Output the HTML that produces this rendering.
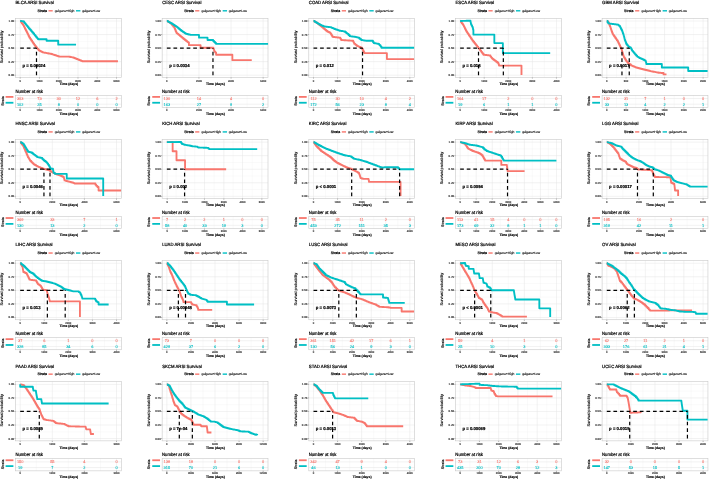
<!DOCTYPE html>
<html><head><meta charset="utf-8"><title>ARSI Survival</title>
<style>
html,body{margin:0;padding:0;background:#fff;}
svg{display:block;}
text{font-family:"Liberation Sans",Arial,sans-serif;text-rendering:geometricPrecision;}
.t{font-size:4.5px;fill:#000;stroke:#000;stroke-width:0.2px;}
.ls{font-size:3.55px;fill:#000;stroke:#000;stroke-width:0.2px;}
.ll{font-size:3.3px;fill:#000;stroke:#000;stroke-width:0.1px;}
.yt{font-size:2.9px;fill:#1a1a1a;stroke:#1a1a1a;stroke-width:0.1px;text-anchor:end;}
.yl{font-size:3.9px;fill:#000;stroke:#000;stroke-width:0.12px;text-anchor:middle;}
.xt{font-size:2.7px;fill:#1a1a1a;stroke:#1a1a1a;stroke-width:0.1px;text-anchor:middle;}
.xl{font-size:3.4px;font-weight:bold;fill:#000;stroke:#000;stroke-width:0.15px;text-anchor:middle;}
.pv{font-size:4.25px;font-weight:bold;fill:#000;stroke:#000;stroke-width:0.2px;}
.nr{font-size:4.6px;fill:#000;stroke:#000;stroke-width:0.2px;}
.rr{font-size:3.9px;fill:#F8766D;stroke:#F8766D;stroke-width:0.1px;text-anchor:middle;}
.rc{font-size:3.9px;fill:#00BFC4;stroke:#00BFC4;stroke-width:0.1px;text-anchor:middle;}
.rs{font-size:3.6px;fill:#000;stroke:#000;stroke-width:0.18px;text-anchor:middle;}
.gm{stroke:#e4e4e4;stroke-width:0.5px;}
.gn{stroke:#efefef;stroke-width:0.3px;}
.bd{fill:none;stroke:#c8c8c8;stroke-width:0.6px;}
.tk{stroke:#444;stroke-width:0.4px;}
.cr{fill:none;stroke:#F8766D;stroke-width:1.85px;stroke-linejoin:round;}
.cc{fill:none;stroke:#00BFC4;stroke-width:1.85px;stroke-linejoin:round;}
.ds{stroke:#000;stroke-width:1.2px;stroke-dasharray:3.7,2.9;}
</style>
</head><body>
<svg width="709" height="480" viewBox="0 0 709 480">
<rect width="709" height="480" fill="#fff"/>
<g transform="translate(0,0)">
<text class="t" transform="translate(15.5,4.15) scale(0.95,1)">BLCA ARSI Survival</text>
<text class="ls" x="37.5" y="12">Strata</text>
<line x1="48.5" x2="52.7" y1="10.8" y2="10.8" stroke="#F8766D" stroke-width="1.4"/>
<text class="ll" x="54.8" y="11.9" textLength="19.5">gelgene=High</text>
<line x1="76.0" x2="80.4" y1="10.8" y2="10.8" stroke="#00BFC4" stroke-width="1.4"/>
<text class="ll" x="82.2" y="11.9" textLength="18.0">gelgene=Low</text>
<line class="gn" x1="29.83" x2="29.83" y1="18.3" y2="77.5"/><line class="gn" x1="49.09" x2="49.09" y1="18.3" y2="77.5"/><line class="gn" x1="68.35" x2="68.35" y1="18.3" y2="77.5"/><line class="gn" x1="87.61" x2="87.61" y1="18.3" y2="77.5"/><line class="gn" x1="106.87" x2="106.87" y1="18.3" y2="77.5"/><line class="gn" x1="15.5" x2="121.35" y1="68.43" y2="68.43"/><line class="gn" x1="15.5" x2="121.35" y1="54.88" y2="54.88"/><line class="gn" x1="15.5" x2="121.35" y1="41.33" y2="41.33"/><line class="gn" x1="15.5" x2="121.35" y1="27.77" y2="27.77"/><line class="gm" x1="20.2" x2="20.2" y1="18.3" y2="77.5"/><line class="gm" x1="39.46" x2="39.46" y1="18.3" y2="77.5"/><line class="gm" x1="58.72" x2="58.72" y1="18.3" y2="77.5"/><line class="gm" x1="77.98" x2="77.98" y1="18.3" y2="77.5"/><line class="gm" x1="97.24" x2="97.24" y1="18.3" y2="77.5"/><line class="gm" x1="116.5" x2="116.5" y1="18.3" y2="77.5"/><line class="gm" x1="15.5" x2="121.35" y1="75.2" y2="75.2"/><line class="gm" x1="15.5" x2="121.35" y1="61.65" y2="61.65"/><line class="gm" x1="15.5" x2="121.35" y1="48.1" y2="48.1"/><line class="gm" x1="15.5" x2="121.35" y1="34.55" y2="34.55"/><line class="gm" x1="15.5" x2="121.35" y1="21" y2="21"/>
<rect class="bd" x="15.5" y="18.3" width="105.85" height="59.2"/>
<line class="tk" x1="14.4" x2="15.5" y1="75.2" y2="75.2"/>
<text class="yt" x="14.2" y="76.2">0.00</text>
<line class="tk" x1="14.4" x2="15.5" y1="61.65" y2="61.65"/>
<text class="yt" x="14.2" y="62.65">0.25</text>
<line class="tk" x1="14.4" x2="15.5" y1="48.1" y2="48.1"/>
<text class="yt" x="14.2" y="49.1">0.50</text>
<line class="tk" x1="14.4" x2="15.5" y1="34.55" y2="34.55"/>
<text class="yt" x="14.2" y="35.55">0.75</text>
<line class="tk" x1="14.4" x2="15.5" y1="21" y2="21"/>
<text class="yt" x="14.2" y="22">1.00</text>
<text class="yl" transform="translate(3.4,46.9) rotate(-90)">Survival probability</text>
<line class="tk" x1="20.2" x2="20.2" y1="77.5" y2="78.6"/>
<text class="xt" x="20.2" y="81.85">0</text>
<line class="tk" x1="39.46" x2="39.46" y1="77.5" y2="78.6"/>
<text class="xt" x="39.46" y="81.85">1000</text>
<line class="tk" x1="58.72" x2="58.72" y1="77.5" y2="78.6"/>
<text class="xt" x="58.72" y="81.85">2000</text>
<line class="tk" x1="77.98" x2="77.98" y1="77.5" y2="78.6"/>
<text class="xt" x="77.98" y="81.85">3000</text>
<line class="tk" x1="97.24" x2="97.24" y1="77.5" y2="78.6"/>
<text class="xt" x="97.24" y="81.85">4000</text>
<line class="tk" x1="116.5" x2="116.5" y1="77.5" y2="78.6"/>
<text class="xt" x="116.5" y="81.85">5000</text>
<text class="xl" x="68.83" y="85.2">Time (days)</text>
<polyline class="cr" points="20.2,21 20.98,21 20.98,22.07 21.75,22.07 21.75,23.15 22.53,23.15 22.53,24.22 23.31,24.22 23.31,25.3 23.83,25.3 23.83,26.33 24.34,26.33 24.34,27.36 24.86,27.36 24.86,28.4 25.38,28.4 25.38,29.43 25.89,29.43 25.89,30.46 26.41,30.46 26.41,31.5 26.93,31.5 26.93,32.53 27.45,32.53 27.45,33.56 27.96,33.56 27.96,34.6 28.48,34.6 28.48,35.63 29,35.63 29,36.66 29.51,36.66 29.51,37.69 30.18,37.69 30.18,38.69 30.84,38.69 30.84,39.69 31.51,39.69 31.51,40.68 32.17,40.68 32.17,41.68 32.84,41.68 32.84,42.68 33.5,42.68 33.5,43.67 34.17,43.67 34.17,44.67 34.94,44.67 34.94,45.7 35.72,45.7 35.72,46.73 36.5,46.73 36.5,47.77 37.27,47.77 37.27,48.65 38.05,48.65 38.05,49.52 38.82,49.52 38.82,50.4 39.79,50.4 39.79,50.91 40.76,50.91 40.76,51.41 41.73,51.41 41.73,51.91 42.7,51.91 42.7,52.42 43.65,52.42 43.65,52.59 44.6,52.59 44.6,52.76 45.55,52.76 45.55,52.93 46.49,52.93 46.49,53.11 47.44,53.11 47.44,53.28 48.39,53.28 48.39,53.45 49.34,53.45 49.34,53.62 50.29,53.62 50.29,53.79 51.24,53.79 51.24,53.97 52.21,53.97 52.21,54.3 53.17,54.3 53.17,54.62 54.14,54.62 54.14,54.95 55.11,54.95 55.11,55.28 56.08,55.28 56.08,55.61 57.05,55.61 57.05,55.94 58.02,55.94 58.02,56.27 58.99,56.27 58.99,56.6 68.3,56.6 69.23,56.6 69.23,56.79 70.16,56.79 70.16,56.97 71.09,56.97 71.09,57.16 72.03,57.16 72.03,57.34 72.96,57.34 72.96,57.53 73.89,57.53 73.89,57.9 74.82,57.9 74.82,58.27 75.75,58.27 75.75,58.65 76.68,58.65 76.68,59.02 77.61,59.02 77.61,59.39 78.54,59.39 78.54,59.76 79.47,59.76 79.47,60.13 80.4,60.13 80.4,60.51 81.33,60.51 81.33,60.88 82.27,60.88 82.27,61.25 117.95,61.25"/>
<polyline class="cc" points="20.2,21 21.24,21 21.24,21.14 22.27,21.14 22.27,21.28 23.31,21.28 23.31,21.42 24.08,21.42 24.08,22.39 24.86,22.39 24.86,23.36 25.64,23.36 25.64,24.33 26.41,24.33 26.41,25.3 27.19,25.3 27.19,26.27 27.96,26.27 27.96,27.23 28.74,27.23 28.74,28.2 29.51,28.2 29.51,29.17 30.45,29.17 30.45,30.26 31.38,30.26 31.38,31.34 32.31,31.34 32.31,32.43 33.24,32.43 33.24,33.51 34.17,33.51 34.17,34.6 34.94,34.6 34.94,35.53 35.72,35.53 35.72,36.46 36.5,36.46 36.5,37.38 37.27,37.38 37.27,38.31 38.05,38.31 38.05,39.24 46.58,39.24 46.58,40.79 58.22,40.79 58.22,44.67 76.06,44.67"/>
<line class="ds" x1="20.2" x2="36.5" y1="48.1" y2="48.1"/>
<line class="ds" x1="36.5" x2="36.5" y1="75.2" y2="48.1"/>
<text class="pv" x="22.5" y="66.7">p = 0.00024</text>
<text class="nr" x="15.4" y="92.8" textLength="27.6" lengthAdjust="spacingAndGlyphs">Number at risk</text>
<line class="gn" x1="29.83" x2="29.83" y1="95.3" y2="107.5"/><line class="gn" x1="49.09" x2="49.09" y1="95.3" y2="107.5"/><line class="gn" x1="68.35" x2="68.35" y1="95.3" y2="107.5"/><line class="gn" x1="87.61" x2="87.61" y1="95.3" y2="107.5"/><line class="gn" x1="106.87" x2="106.87" y1="95.3" y2="107.5"/><line class="gm" x1="20.2" x2="20.2" y1="95.3" y2="107.5"/><line class="gm" x1="39.46" x2="39.46" y1="95.3" y2="107.5"/><line class="gm" x1="58.72" x2="58.72" y1="95.3" y2="107.5"/><line class="gm" x1="77.98" x2="77.98" y1="95.3" y2="107.5"/><line class="gm" x1="97.24" x2="97.24" y1="95.3" y2="107.5"/><line class="gm" x1="116.5" x2="116.5" y1="95.3" y2="107.5"/><line class="gm" x1="15.5" x2="121.35" y1="98.5" y2="98.5"/><line class="gm" x1="15.5" x2="121.35" y1="104.2" y2="104.2"/>
<rect class="bd" x="15.5" y="95.3" width="105.85" height="12.2"/>
<text class="rr" x="20.2" y="99.8">303</text>
<text class="rc" x="20.2" y="105.5">102</text>
<text class="rr" x="39.46" y="99.8">73</text>
<text class="rc" x="39.46" y="105.5">25</text>
<text class="rr" x="58.72" y="99.8">30</text>
<text class="rc" x="58.72" y="105.5">8</text>
<text class="rr" x="77.98" y="99.8">12</text>
<text class="rc" x="77.98" y="105.5">0</text>
<text class="rr" x="97.24" y="99.8">6</text>
<text class="rc" x="97.24" y="105.5">0</text>
<text class="rr" x="116.5" y="99.8">2</text>
<text class="rc" x="116.5" y="105.5">0</text>
<line class="tk" x1="20.2" x2="20.2" y1="107.5" y2="108.6"/>
<text class="xt" x="20.2" y="110.9">0</text>
<line class="tk" x1="39.46" x2="39.46" y1="107.5" y2="108.6"/>
<text class="xt" x="39.46" y="110.9">1000</text>
<line class="tk" x1="58.72" x2="58.72" y1="107.5" y2="108.6"/>
<text class="xt" x="58.72" y="110.9">2000</text>
<line class="tk" x1="77.98" x2="77.98" y1="107.5" y2="108.6"/>
<text class="xt" x="77.98" y="110.9">3000</text>
<line class="tk" x1="97.24" x2="97.24" y1="107.5" y2="108.6"/>
<text class="xt" x="97.24" y="110.9">4000</text>
<line class="tk" x1="116.5" x2="116.5" y1="107.5" y2="108.6"/>
<text class="xt" x="116.5" y="110.9">5000</text>
<text class="xl" x="68.83" y="115.0">Time (days)</text>
<text class="rs" transform="translate(3.7,101.0) rotate(-90)">Strata</text>
<line x1="5.6" x2="13.4" y1="96.9" y2="96.9" stroke="#F8766D" stroke-width="1.8"/>
<line x1="5.6" x2="13.4" y1="102.75" y2="102.75" stroke="#00BFC4" stroke-width="1.8"/>
</g>
<g transform="translate(146.65,0)">
<text class="t" transform="translate(15.5,4.15) scale(0.95,1)">CESC ARSI Survival</text>
<text class="ls" x="37.5" y="12">Strata</text>
<line x1="48.5" x2="52.7" y1="10.8" y2="10.8" stroke="#F8766D" stroke-width="1.4"/>
<text class="ll" x="54.8" y="11.9" textLength="19.5">gelgene=High</text>
<line x1="76.0" x2="80.4" y1="10.8" y2="10.8" stroke="#00BFC4" stroke-width="1.4"/>
<text class="ll" x="82.2" y="11.9" textLength="18.0">gelgene=Low</text>
<line class="gn" x1="36.25" x2="36.25" y1="18.3" y2="77.5"/><line class="gn" x1="68.35" x2="68.35" y1="18.3" y2="77.5"/><line class="gn" x1="100.45" x2="100.45" y1="18.3" y2="77.5"/><line class="gn" x1="15.5" x2="121.35" y1="68.43" y2="68.43"/><line class="gn" x1="15.5" x2="121.35" y1="54.88" y2="54.88"/><line class="gn" x1="15.5" x2="121.35" y1="41.33" y2="41.33"/><line class="gn" x1="15.5" x2="121.35" y1="27.77" y2="27.77"/><line class="gm" x1="20.2" x2="20.2" y1="18.3" y2="77.5"/><line class="gm" x1="52.3" x2="52.3" y1="18.3" y2="77.5"/><line class="gm" x1="84.4" x2="84.4" y1="18.3" y2="77.5"/><line class="gm" x1="116.5" x2="116.5" y1="18.3" y2="77.5"/><line class="gm" x1="15.5" x2="121.35" y1="75.2" y2="75.2"/><line class="gm" x1="15.5" x2="121.35" y1="61.65" y2="61.65"/><line class="gm" x1="15.5" x2="121.35" y1="48.1" y2="48.1"/><line class="gm" x1="15.5" x2="121.35" y1="34.55" y2="34.55"/><line class="gm" x1="15.5" x2="121.35" y1="21" y2="21"/>
<rect class="bd" x="15.5" y="18.3" width="105.85" height="59.2"/>
<line class="tk" x1="14.4" x2="15.5" y1="75.2" y2="75.2"/>
<text class="yt" x="14.2" y="76.2">0.00</text>
<line class="tk" x1="14.4" x2="15.5" y1="61.65" y2="61.65"/>
<text class="yt" x="14.2" y="62.65">0.25</text>
<line class="tk" x1="14.4" x2="15.5" y1="48.1" y2="48.1"/>
<text class="yt" x="14.2" y="49.1">0.50</text>
<line class="tk" x1="14.4" x2="15.5" y1="34.55" y2="34.55"/>
<text class="yt" x="14.2" y="35.55">0.75</text>
<line class="tk" x1="14.4" x2="15.5" y1="21" y2="21"/>
<text class="yt" x="14.2" y="22">1.00</text>
<text class="yl" transform="translate(3.4,46.9) rotate(-90)">Survival probability</text>
<line class="tk" x1="20.2" x2="20.2" y1="77.5" y2="78.6"/>
<text class="xt" x="20.2" y="81.85">0</text>
<line class="tk" x1="52.3" x2="52.3" y1="77.5" y2="78.6"/>
<text class="xt" x="52.3" y="81.85">2000</text>
<line class="tk" x1="84.4" x2="84.4" y1="77.5" y2="78.6"/>
<text class="xt" x="84.4" y="81.85">4000</text>
<line class="tk" x1="116.5" x2="116.5" y1="77.5" y2="78.6"/>
<text class="xt" x="116.5" y="81.85">6000</text>
<text class="xl" x="68.83" y="85.2">Time (days)</text>
<polyline class="cr" points="20.2,21 21.26,21 21.26,21.69 22.32,21.69 22.32,22.37 23.38,22.37 23.38,23.06 24.43,23.06 24.43,23.75 25.21,23.75 25.21,24.72 25.99,24.72 25.99,25.69 26.76,25.69 26.76,26.65 27.54,26.65 27.54,27.62 28,27.62 28,28.71 28.47,28.71 28.47,29.79 28.93,29.79 28.93,30.88 29.4,30.88 29.4,31.96 29.86,31.96 29.86,33.05 30.8,33.05 30.8,33.82 31.73,33.82 31.73,34.6 32.66,34.6 32.66,35.37 33.59,35.37 33.59,36.15 34.52,36.15 34.52,36.92 35.45,36.92 35.45,37.69 36.38,37.69 36.38,38.47 37.31,38.47 37.31,39.24 38.24,39.24 38.24,40.02 39.17,40.02 39.17,40.79 40.21,40.79 40.21,41.57 41.24,41.57 41.24,42.34 42.28,42.34 42.28,43.12 42.28,45.13 53.91,45.13 53.91,47.77 66.32,47.77 66.71,47.77 66.71,48.74 67.1,48.74 67.1,49.7 67.49,49.7 67.49,50.67 67.88,50.67 67.88,51.64 68.65,51.64 68.65,52.42 69.43,52.42 69.43,53.19 69.43,54.74 85.72,54.74 85.72,60.16 105.11,60.16"/>
<polyline class="cc" points="20.2,21 21.2,21 21.2,21.55 22.2,21.55 22.2,22.1 23.21,22.1 23.21,22.65 24.21,22.65 24.21,23.2 25.21,23.2 25.21,23.75 26.14,23.75 26.14,24.37 27.07,24.37 27.07,24.99 28,24.99 28,25.61 28.93,25.61 28.93,26.23 29.86,26.23 29.86,26.85 30.8,26.85 30.8,27.62 31.73,27.62 31.73,28.4 32.66,28.4 32.66,29.17 33.59,29.17 33.59,29.95 34.52,29.95 34.52,30.72 35.45,30.72 35.45,31.34 36.38,31.34 36.38,31.96 37.31,31.96 37.31,32.58 38.24,32.58 38.24,33.2 39.17,33.2 39.17,33.82 40.1,33.82 40.1,34.04 41.04,34.04 41.04,34.25 41.97,34.25 41.97,34.47 42.9,34.47 42.9,34.69 43.83,34.69 43.83,34.91 52.36,34.91 52.36,37.69 60.89,37.69 60.89,40.02 65.55,40.02 66.52,40.02 66.52,40.99 67.49,40.99 67.49,41.96 68.46,41.96 68.46,42.92 69.43,42.92 69.43,43.89 121.4,43.89"/>
<line class="ds" x1="20.2" x2="66.32" y1="48.1" y2="48.1"/>
<line class="ds" x1="66.32" x2="66.32" y1="75.2" y2="48.1"/>
<text class="pv" x="22.5" y="66.7">p = 0.0034</text>
<text class="nr" x="15.4" y="92.8" textLength="27.6" lengthAdjust="spacingAndGlyphs">Number at risk</text>
<line class="gn" x1="36.25" x2="36.25" y1="95.3" y2="107.5"/><line class="gn" x1="68.35" x2="68.35" y1="95.3" y2="107.5"/><line class="gn" x1="100.45" x2="100.45" y1="95.3" y2="107.5"/><line class="gm" x1="20.2" x2="20.2" y1="95.3" y2="107.5"/><line class="gm" x1="52.3" x2="52.3" y1="95.3" y2="107.5"/><line class="gm" x1="84.4" x2="84.4" y1="95.3" y2="107.5"/><line class="gm" x1="116.5" x2="116.5" y1="95.3" y2="107.5"/><line class="gm" x1="15.5" x2="121.35" y1="98.5" y2="98.5"/><line class="gm" x1="15.5" x2="121.35" y1="104.2" y2="104.2"/>
<rect class="bd" x="15.5" y="95.3" width="105.85" height="12.2"/>
<text class="rr" x="20.2" y="99.8">130</text>
<text class="rc" x="20.2" y="105.5">163</text>
<text class="rr" x="52.3" y="99.8">14</text>
<text class="rc" x="52.3" y="105.5">27</text>
<text class="rr" x="84.4" y="99.8">4</text>
<text class="rc" x="84.4" y="105.5">9</text>
<text class="rr" x="116.5" y="99.8">0</text>
<text class="rc" x="116.5" y="105.5">2</text>
<line class="tk" x1="20.2" x2="20.2" y1="107.5" y2="108.6"/>
<text class="xt" x="20.2" y="110.9">0</text>
<line class="tk" x1="52.3" x2="52.3" y1="107.5" y2="108.6"/>
<text class="xt" x="52.3" y="110.9">2000</text>
<line class="tk" x1="84.4" x2="84.4" y1="107.5" y2="108.6"/>
<text class="xt" x="84.4" y="110.9">4000</text>
<line class="tk" x1="116.5" x2="116.5" y1="107.5" y2="108.6"/>
<text class="xt" x="116.5" y="110.9">6000</text>
<text class="xl" x="68.83" y="115.0">Time (days)</text>
<text class="rs" transform="translate(3.7,101.0) rotate(-90)">Strata</text>
<line x1="5.6" x2="13.4" y1="96.9" y2="96.9" stroke="#F8766D" stroke-width="1.8"/>
<line x1="5.6" x2="13.4" y1="102.75" y2="102.75" stroke="#00BFC4" stroke-width="1.8"/>
</g>
<g transform="translate(293.3,0)">
<text class="t" transform="translate(15.5,4.15) scale(0.95,1)">COAD ARSI Survival</text>
<text class="ls" x="37.5" y="12">Strata</text>
<line x1="48.5" x2="52.7" y1="10.8" y2="10.8" stroke="#F8766D" stroke-width="1.4"/>
<text class="ll" x="54.8" y="11.9" textLength="19.5">gelgene=High</text>
<line x1="76.0" x2="80.4" y1="10.8" y2="10.8" stroke="#00BFC4" stroke-width="1.4"/>
<text class="ll" x="82.2" y="11.9" textLength="18.0">gelgene=Low</text>
<line class="gn" x1="32.24" x2="32.24" y1="18.3" y2="77.5"/><line class="gn" x1="56.31" x2="56.31" y1="18.3" y2="77.5"/><line class="gn" x1="80.39" x2="80.39" y1="18.3" y2="77.5"/><line class="gn" x1="104.46" x2="104.46" y1="18.3" y2="77.5"/><line class="gn" x1="15.5" x2="121.35" y1="68.43" y2="68.43"/><line class="gn" x1="15.5" x2="121.35" y1="54.88" y2="54.88"/><line class="gn" x1="15.5" x2="121.35" y1="41.33" y2="41.33"/><line class="gn" x1="15.5" x2="121.35" y1="27.77" y2="27.77"/><line class="gm" x1="20.2" x2="20.2" y1="18.3" y2="77.5"/><line class="gm" x1="44.27" x2="44.27" y1="18.3" y2="77.5"/><line class="gm" x1="68.35" x2="68.35" y1="18.3" y2="77.5"/><line class="gm" x1="92.42" x2="92.42" y1="18.3" y2="77.5"/><line class="gm" x1="116.5" x2="116.5" y1="18.3" y2="77.5"/><line class="gm" x1="15.5" x2="121.35" y1="75.2" y2="75.2"/><line class="gm" x1="15.5" x2="121.35" y1="61.65" y2="61.65"/><line class="gm" x1="15.5" x2="121.35" y1="48.1" y2="48.1"/><line class="gm" x1="15.5" x2="121.35" y1="34.55" y2="34.55"/><line class="gm" x1="15.5" x2="121.35" y1="21" y2="21"/>
<rect class="bd" x="15.5" y="18.3" width="105.85" height="59.2"/>
<line class="tk" x1="14.4" x2="15.5" y1="75.2" y2="75.2"/>
<text class="yt" x="14.2" y="76.2">0.00</text>
<line class="tk" x1="14.4" x2="15.5" y1="61.65" y2="61.65"/>
<text class="yt" x="14.2" y="62.65">0.25</text>
<line class="tk" x1="14.4" x2="15.5" y1="48.1" y2="48.1"/>
<text class="yt" x="14.2" y="49.1">0.50</text>
<line class="tk" x1="14.4" x2="15.5" y1="34.55" y2="34.55"/>
<text class="yt" x="14.2" y="35.55">0.75</text>
<line class="tk" x1="14.4" x2="15.5" y1="21" y2="21"/>
<text class="yt" x="14.2" y="22">1.00</text>
<text class="yl" transform="translate(3.4,46.9) rotate(-90)">Survival probability</text>
<line class="tk" x1="20.2" x2="20.2" y1="77.5" y2="78.6"/>
<text class="xt" x="20.2" y="81.85">0</text>
<line class="tk" x1="44.27" x2="44.27" y1="77.5" y2="78.6"/>
<text class="xt" x="44.27" y="81.85">1000</text>
<line class="tk" x1="68.35" x2="68.35" y1="77.5" y2="78.6"/>
<text class="xt" x="68.35" y="81.85">2000</text>
<line class="tk" x1="92.42" x2="92.42" y1="77.5" y2="78.6"/>
<text class="xt" x="92.42" y="81.85">3000</text>
<line class="tk" x1="116.5" x2="116.5" y1="77.5" y2="78.6"/>
<text class="xt" x="116.5" y="81.85">4000</text>
<text class="xl" x="68.83" y="85.2">Time (days)</text>
<polyline class="cr" points="20.2,21 21.29,21 21.29,21.69 22.38,21.69 22.38,22.37 23.47,22.37 23.47,23.06 24.56,23.06 24.56,23.75 25.49,23.75 25.49,24.52 26.42,24.52 26.42,25.3 27.35,25.3 27.35,26.07 28.28,26.07 28.28,26.85 29.21,26.85 29.21,27.62 30.15,27.62 30.15,28.4 31.08,28.4 31.08,29.17 32.01,29.17 32.01,29.95 32.94,29.95 32.94,30.72 33.87,30.72 33.87,31.5 34.9,31.5 34.9,32.01 35.94,32.01 35.94,32.53 36.97,32.53 36.97,33.05 37.55,33.05 37.55,34.01 38.14,34.01 38.14,34.98 38.72,34.98 38.72,35.95 39.3,35.95 39.3,36.92 40.3,36.92 40.3,37.03 41.29,37.03 41.29,37.14 42.29,37.14 42.29,37.25 43.29,37.25 43.29,37.36 44.29,37.36 44.29,37.47 45.28,37.47 45.28,37.58 46.28,37.58 46.28,37.69 47.06,37.69 47.06,38.86 47.83,38.86 47.83,40.02 48.8,40.02 48.8,40.08 49.77,40.08 49.77,40.15 50.74,40.15 50.74,40.21 51.71,40.21 51.71,40.28 52.68,40.28 52.68,40.34 53.65,40.34 53.65,40.41 54.62,40.41 54.62,40.47 55.59,40.47 55.59,40.54 56.56,40.54 56.56,40.6 57.53,40.6 57.53,40.67 58.5,40.67 58.5,40.73 59.47,40.73 59.47,40.79 59.99,40.79 59.99,41.83 60.5,41.83 60.5,42.86 61.02,42.86 61.02,43.89 62.18,43.89 62.18,44.82 63.35,44.82 63.35,45.75 64.28,45.75 64.28,46.16 65.21,46.16 65.21,46.56 66.14,46.56 66.14,46.96 67.07,46.96 67.07,47.36 68,47.36 68,47.77 68.78,47.77 68.78,48.93 69.55,48.93 69.55,50.09 70.07,50.09 70.07,51.13 70.59,51.13 70.59,52.16 71.1,52.16 71.1,53.19 93.6,53.19 93.6,59.08 120.75,59.08"/>
<polyline class="cc" points="20.2,21 21.19,21 21.19,21.59 22.17,21.59 22.17,22.17 23.16,22.17 23.16,22.76 24.14,22.76 24.14,23.35 25.13,23.35 25.13,23.94 26.11,23.94 26.11,24.52 27.04,24.52 27.04,24.93 27.97,24.93 27.97,25.33 28.9,25.33 28.9,25.73 29.84,25.73 29.84,26.13 30.77,26.13 30.77,26.54 31.8,26.54 31.8,26.64 32.83,26.64 32.83,26.74 33.87,26.74 33.87,26.85 34.9,26.85 34.9,26.95 35.94,26.95 35.94,27.05 36.97,27.05 36.97,27.16 37.9,27.16 37.9,27.56 38.83,27.56 38.83,27.96 39.76,27.96 39.76,28.37 40.7,28.37 40.7,28.77 41.63,28.77 41.63,29.17 42.56,29.17 42.56,29.48 43.49,29.48 43.49,29.79 44.42,29.79 44.42,30.1 45.35,30.1 45.35,30.41 46.28,30.41 46.28,30.72 47.21,30.72 47.21,30.88 48.14,30.88 48.14,31.03 49.07,31.03 49.07,31.19 50,31.19 50,31.34 50.94,31.34 50.94,31.5 51.97,31.5 51.97,32.27 53,32.27 53,33.05 54.04,33.05 54.04,33.82 55.2,33.82 55.2,34.98 56.37,34.98 56.37,36.15 57.45,36.15 57.45,36.3 58.54,36.3 58.54,36.46 59.62,36.46 59.62,36.61 60.71,36.61 60.71,36.77 61.8,36.77 61.8,36.92 62.83,36.92 62.83,37.18 63.86,37.18 63.86,37.44 64.9,37.44 64.9,37.69 65.93,37.69 65.93,38.47 66.97,38.47 66.97,39.24 68,39.24 68,40.02 68.93,40.02 68.93,40.17 69.86,40.17 69.86,40.33 70.79,40.33 70.79,40.48 71.73,40.48 71.73,40.64 72.66,40.64 72.66,40.79 78.86,40.79 79.64,40.79 79.64,41.96 80.41,41.96 80.41,43.12 81.34,43.12 81.34,43.27 82.28,43.27 82.28,43.43 83.21,43.43 83.21,43.58 84.14,43.58 84.14,43.74 85.07,43.74 85.07,43.89 85.84,43.89 85.84,44.67 86.62,44.67 86.62,45.44 87.4,45.44 87.4,46.61 88.17,46.61 88.17,47.77 120.75,47.77"/>
<line class="ds" x1="20.2" x2="69.24" y1="48.1" y2="48.1"/>
<line class="ds" x1="69.24" x2="69.24" y1="75.2" y2="48.1"/>
<text class="pv" x="22.5" y="66.7">p = 0.012</text>
<text class="nr" x="15.4" y="92.8" textLength="27.6" lengthAdjust="spacingAndGlyphs">Number at risk</text>
<line class="gn" x1="32.24" x2="32.24" y1="95.3" y2="107.5"/><line class="gn" x1="56.31" x2="56.31" y1="95.3" y2="107.5"/><line class="gn" x1="80.39" x2="80.39" y1="95.3" y2="107.5"/><line class="gn" x1="104.46" x2="104.46" y1="95.3" y2="107.5"/><line class="gm" x1="20.2" x2="20.2" y1="95.3" y2="107.5"/><line class="gm" x1="44.27" x2="44.27" y1="95.3" y2="107.5"/><line class="gm" x1="68.35" x2="68.35" y1="95.3" y2="107.5"/><line class="gm" x1="92.42" x2="92.42" y1="95.3" y2="107.5"/><line class="gm" x1="116.5" x2="116.5" y1="95.3" y2="107.5"/><line class="gm" x1="15.5" x2="121.35" y1="98.5" y2="98.5"/><line class="gm" x1="15.5" x2="121.35" y1="104.2" y2="104.2"/>
<rect class="bd" x="15.5" y="95.3" width="105.85" height="12.2"/>
<text class="rr" x="20.2" y="99.8">112</text>
<text class="rc" x="20.2" y="105.5">172</text>
<text class="rr" x="44.27" y="99.8">30</text>
<text class="rc" x="44.27" y="105.5">56</text>
<text class="rr" x="68.35" y="99.8">10</text>
<text class="rc" x="68.35" y="105.5">23</text>
<text class="rr" x="92.42" y="99.8">4</text>
<text class="rc" x="92.42" y="105.5">8</text>
<text class="rr" x="116.5" y="99.8">2</text>
<text class="rc" x="116.5" y="105.5">4</text>
<line class="tk" x1="20.2" x2="20.2" y1="107.5" y2="108.6"/>
<text class="xt" x="20.2" y="110.9">0</text>
<line class="tk" x1="44.27" x2="44.27" y1="107.5" y2="108.6"/>
<text class="xt" x="44.27" y="110.9">1000</text>
<line class="tk" x1="68.35" x2="68.35" y1="107.5" y2="108.6"/>
<text class="xt" x="68.35" y="110.9">2000</text>
<line class="tk" x1="92.42" x2="92.42" y1="107.5" y2="108.6"/>
<text class="xt" x="92.42" y="110.9">3000</text>
<line class="tk" x1="116.5" x2="116.5" y1="107.5" y2="108.6"/>
<text class="xt" x="116.5" y="110.9">4000</text>
<text class="xl" x="68.83" y="115.0">Time (days)</text>
<text class="rs" transform="translate(3.7,101.0) rotate(-90)">Strata</text>
<line x1="5.6" x2="13.4" y1="96.9" y2="96.9" stroke="#F8766D" stroke-width="1.8"/>
<line x1="5.6" x2="13.4" y1="102.75" y2="102.75" stroke="#00BFC4" stroke-width="1.8"/>
</g>
<g transform="translate(439.95,0)">
<text class="t" transform="translate(15.5,4.15) scale(0.95,1)">ESCA ARSI Survival</text>
<text class="ls" x="37.5" y="12">Strata</text>
<line x1="48.5" x2="52.7" y1="10.8" y2="10.8" stroke="#F8766D" stroke-width="1.4"/>
<text class="ll" x="54.8" y="11.9" textLength="19.5">gelgene=High</text>
<line x1="76.0" x2="80.4" y1="10.8" y2="10.8" stroke="#00BFC4" stroke-width="1.4"/>
<text class="ll" x="82.2" y="11.9" textLength="18.0">gelgene=Low</text>
<line class="gn" x1="32.24" x2="32.24" y1="18.3" y2="77.5"/><line class="gn" x1="56.31" x2="56.31" y1="18.3" y2="77.5"/><line class="gn" x1="80.39" x2="80.39" y1="18.3" y2="77.5"/><line class="gn" x1="104.46" x2="104.46" y1="18.3" y2="77.5"/><line class="gn" x1="15.5" x2="121.35" y1="68.43" y2="68.43"/><line class="gn" x1="15.5" x2="121.35" y1="54.88" y2="54.88"/><line class="gn" x1="15.5" x2="121.35" y1="41.33" y2="41.33"/><line class="gn" x1="15.5" x2="121.35" y1="27.77" y2="27.77"/><line class="gm" x1="20.2" x2="20.2" y1="18.3" y2="77.5"/><line class="gm" x1="44.27" x2="44.27" y1="18.3" y2="77.5"/><line class="gm" x1="68.35" x2="68.35" y1="18.3" y2="77.5"/><line class="gm" x1="92.42" x2="92.42" y1="18.3" y2="77.5"/><line class="gm" x1="116.5" x2="116.5" y1="18.3" y2="77.5"/><line class="gm" x1="15.5" x2="121.35" y1="75.2" y2="75.2"/><line class="gm" x1="15.5" x2="121.35" y1="61.65" y2="61.65"/><line class="gm" x1="15.5" x2="121.35" y1="48.1" y2="48.1"/><line class="gm" x1="15.5" x2="121.35" y1="34.55" y2="34.55"/><line class="gm" x1="15.5" x2="121.35" y1="21" y2="21"/>
<rect class="bd" x="15.5" y="18.3" width="105.85" height="59.2"/>
<line class="tk" x1="14.4" x2="15.5" y1="75.2" y2="75.2"/>
<text class="yt" x="14.2" y="76.2">0.00</text>
<line class="tk" x1="14.4" x2="15.5" y1="61.65" y2="61.65"/>
<text class="yt" x="14.2" y="62.65">0.25</text>
<line class="tk" x1="14.4" x2="15.5" y1="48.1" y2="48.1"/>
<text class="yt" x="14.2" y="49.1">0.50</text>
<line class="tk" x1="14.4" x2="15.5" y1="34.55" y2="34.55"/>
<text class="yt" x="14.2" y="35.55">0.75</text>
<line class="tk" x1="14.4" x2="15.5" y1="21" y2="21"/>
<text class="yt" x="14.2" y="22">1.00</text>
<text class="yl" transform="translate(3.4,46.9) rotate(-90)">Survival probability</text>
<line class="tk" x1="20.2" x2="20.2" y1="77.5" y2="78.6"/>
<text class="xt" x="20.2" y="81.85">0</text>
<line class="tk" x1="44.27" x2="44.27" y1="77.5" y2="78.6"/>
<text class="xt" x="44.27" y="81.85">1000</text>
<line class="tk" x1="68.35" x2="68.35" y1="77.5" y2="78.6"/>
<text class="xt" x="68.35" y="81.85">2000</text>
<line class="tk" x1="92.42" x2="92.42" y1="77.5" y2="78.6"/>
<text class="xt" x="92.42" y="81.85">3000</text>
<line class="tk" x1="116.5" x2="116.5" y1="77.5" y2="78.6"/>
<text class="xt" x="116.5" y="81.85">4000</text>
<text class="xl" x="68.83" y="85.2">Time (days)</text>
<polyline class="cr" points="20.2,21 20.99,21 20.99,22.07 21.78,22.07 21.78,23.15 22.57,23.15 22.57,24.22 23.36,24.22 23.36,25.3 23.88,25.3 23.88,26.33 24.39,26.33 24.39,27.36 24.91,27.36 24.91,28.4 25.43,28.4 25.43,29.43 25.94,29.43 25.94,30.46 26.46,30.46 26.46,31.5 27.08,31.5 27.08,32.43 27.7,32.43 27.7,33.36 28.32,33.36 28.32,34.29 28.94,34.29 28.94,35.22 29.56,35.22 29.56,36.15 30.19,36.15 30.19,37.08 30.81,37.08 30.81,38 31.43,38 31.43,38.93 32.05,38.93 32.05,39.86 32.67,39.86 32.67,40.79 33.44,40.79 33.44,41.76 34.22,41.76 34.22,42.73 34.99,42.73 34.99,43.7 35.77,43.7 35.77,44.67 36.55,44.67 36.55,45.64 37.32,45.64 37.32,46.61 38.1,46.61 38.1,47.57 38.87,47.57 38.87,48.54 39.65,48.54 39.65,49.58 40.43,49.58 40.43,50.61 41.2,50.61 41.2,51.64 41.98,51.64 41.98,52.67 42.75,52.67 42.75,53.71 43.53,53.71 43.53,54.74 44.56,54.74 44.56,54.87 45.6,54.87 45.6,55 46.63,55 46.63,55.13 47.67,55.13 47.67,55.26 48.7,55.26 48.7,55.39 49.73,55.39 49.73,55.52 50.51,55.52 50.51,56.55 51.29,56.55 51.29,57.58 52.06,57.58 52.06,58.62 53.1,58.62 53.1,59.39 54.13,59.39 54.13,60.16 55.16,60.16 55.16,60.94 56.2,60.94 56.2,61.71 57.23,61.71 57.23,62.49 58.27,62.49 58.27,63.26 58.66,63.26 58.66,64.43 59.04,64.43 59.04,65.59 81.54,65.59 81.54,74.89"/>
<polyline class="cc" points="20.2,21 21.21,21 21.21,20.96 22.23,20.96 22.23,20.93 23.24,20.93 23.24,20.89 24.26,20.89 24.26,20.86 25.27,20.86 25.27,20.82 26.28,20.82 26.28,20.79 27.3,20.79 27.3,20.75 28.31,20.75 28.31,20.72 29.33,20.72 29.33,20.68 30.34,20.68 30.34,20.65 30.53,20.65 30.53,21.62 30.73,21.62 30.73,22.59 30.92,22.59 30.92,23.55 31.12,23.55 31.12,24.52 31.63,24.52 31.63,25.56 32.15,25.56 32.15,26.59 32.67,26.59 32.67,27.62 32.93,27.62 32.93,28.66 33.18,28.66 33.18,29.69 33.44,29.69 33.44,30.72 33.44,34.6 54.39,34.6 54.39,43.12 62.92,43.12 62.92,53.19 110.24,53.19"/>
<line class="ds" x1="20.2" x2="63.39" y1="48.1" y2="48.1"/>
<line class="ds" x1="38.56" x2="38.56" y1="75.2" y2="48.1"/>
<line class="ds" x1="63.39" x2="63.39" y1="75.2" y2="48.1"/>
<text class="pv" x="22.5" y="66.7">p = 0.018</text>
<text class="nr" x="15.4" y="92.8" textLength="27.6" lengthAdjust="spacingAndGlyphs">Number at risk</text>
<line class="gn" x1="32.24" x2="32.24" y1="95.3" y2="107.5"/><line class="gn" x1="56.31" x2="56.31" y1="95.3" y2="107.5"/><line class="gn" x1="80.39" x2="80.39" y1="95.3" y2="107.5"/><line class="gn" x1="104.46" x2="104.46" y1="95.3" y2="107.5"/><line class="gm" x1="20.2" x2="20.2" y1="95.3" y2="107.5"/><line class="gm" x1="44.27" x2="44.27" y1="95.3" y2="107.5"/><line class="gm" x1="68.35" x2="68.35" y1="95.3" y2="107.5"/><line class="gm" x1="92.42" x2="92.42" y1="95.3" y2="107.5"/><line class="gm" x1="116.5" x2="116.5" y1="95.3" y2="107.5"/><line class="gm" x1="15.5" x2="121.35" y1="98.5" y2="98.5"/><line class="gm" x1="15.5" x2="121.35" y1="104.2" y2="104.2"/>
<rect class="bd" x="15.5" y="95.3" width="105.85" height="12.2"/>
<text class="rr" x="20.2" y="99.8">164</text>
<text class="rc" x="20.2" y="105.5">19</text>
<text class="rr" x="44.27" y="99.8">17</text>
<text class="rc" x="44.27" y="105.5">6</text>
<text class="rr" x="68.35" y="99.8">2</text>
<text class="rc" x="68.35" y="105.5">1</text>
<text class="rr" x="92.42" y="99.8">0</text>
<text class="rc" x="92.42" y="105.5">1</text>
<text class="rr" x="116.5" y="99.8">0</text>
<text class="rc" x="116.5" y="105.5">0</text>
<line class="tk" x1="20.2" x2="20.2" y1="107.5" y2="108.6"/>
<text class="xt" x="20.2" y="110.9">0</text>
<line class="tk" x1="44.27" x2="44.27" y1="107.5" y2="108.6"/>
<text class="xt" x="44.27" y="110.9">1000</text>
<line class="tk" x1="68.35" x2="68.35" y1="107.5" y2="108.6"/>
<text class="xt" x="68.35" y="110.9">2000</text>
<line class="tk" x1="92.42" x2="92.42" y1="107.5" y2="108.6"/>
<text class="xt" x="92.42" y="110.9">3000</text>
<line class="tk" x1="116.5" x2="116.5" y1="107.5" y2="108.6"/>
<text class="xt" x="116.5" y="110.9">4000</text>
<text class="xl" x="68.83" y="115.0">Time (days)</text>
<text class="rs" transform="translate(3.7,101.0) rotate(-90)">Strata</text>
<line x1="5.6" x2="13.4" y1="96.9" y2="96.9" stroke="#F8766D" stroke-width="1.8"/>
<line x1="5.6" x2="13.4" y1="102.75" y2="102.75" stroke="#00BFC4" stroke-width="1.8"/>
</g>
<g transform="translate(586.6,0)">
<text class="t" transform="translate(15.5,4.15) scale(0.95,1)">GBM ARSI Survival</text>
<text class="ls" x="37.5" y="12">Strata</text>
<line x1="48.5" x2="52.7" y1="10.8" y2="10.8" stroke="#F8766D" stroke-width="1.4"/>
<text class="ll" x="54.8" y="11.9" textLength="19.5">gelgene=High</text>
<line x1="76.0" x2="80.4" y1="10.8" y2="10.8" stroke="#00BFC4" stroke-width="1.4"/>
<text class="ll" x="82.2" y="11.9" textLength="18.0">gelgene=Low</text>
<line class="gn" x1="29.83" x2="29.83" y1="18.3" y2="77.5"/><line class="gn" x1="49.09" x2="49.09" y1="18.3" y2="77.5"/><line class="gn" x1="68.35" x2="68.35" y1="18.3" y2="77.5"/><line class="gn" x1="87.61" x2="87.61" y1="18.3" y2="77.5"/><line class="gn" x1="106.87" x2="106.87" y1="18.3" y2="77.5"/><line class="gn" x1="15.5" x2="121.35" y1="68.43" y2="68.43"/><line class="gn" x1="15.5" x2="121.35" y1="54.88" y2="54.88"/><line class="gn" x1="15.5" x2="121.35" y1="41.33" y2="41.33"/><line class="gn" x1="15.5" x2="121.35" y1="27.77" y2="27.77"/><line class="gm" x1="20.2" x2="20.2" y1="18.3" y2="77.5"/><line class="gm" x1="39.46" x2="39.46" y1="18.3" y2="77.5"/><line class="gm" x1="58.72" x2="58.72" y1="18.3" y2="77.5"/><line class="gm" x1="77.98" x2="77.98" y1="18.3" y2="77.5"/><line class="gm" x1="97.24" x2="97.24" y1="18.3" y2="77.5"/><line class="gm" x1="116.5" x2="116.5" y1="18.3" y2="77.5"/><line class="gm" x1="15.5" x2="121.35" y1="75.2" y2="75.2"/><line class="gm" x1="15.5" x2="121.35" y1="61.65" y2="61.65"/><line class="gm" x1="15.5" x2="121.35" y1="48.1" y2="48.1"/><line class="gm" x1="15.5" x2="121.35" y1="34.55" y2="34.55"/><line class="gm" x1="15.5" x2="121.35" y1="21" y2="21"/>
<rect class="bd" x="15.5" y="18.3" width="105.85" height="59.2"/>
<line class="tk" x1="14.4" x2="15.5" y1="75.2" y2="75.2"/>
<text class="yt" x="14.2" y="76.2">0.00</text>
<line class="tk" x1="14.4" x2="15.5" y1="61.65" y2="61.65"/>
<text class="yt" x="14.2" y="62.65">0.25</text>
<line class="tk" x1="14.4" x2="15.5" y1="48.1" y2="48.1"/>
<text class="yt" x="14.2" y="49.1">0.50</text>
<line class="tk" x1="14.4" x2="15.5" y1="34.55" y2="34.55"/>
<text class="yt" x="14.2" y="35.55">0.75</text>
<line class="tk" x1="14.4" x2="15.5" y1="21" y2="21"/>
<text class="yt" x="14.2" y="22">1.00</text>
<text class="yl" transform="translate(3.4,46.9) rotate(-90)">Survival probability</text>
<line class="tk" x1="20.2" x2="20.2" y1="77.5" y2="78.6"/>
<text class="xt" x="20.2" y="81.85">0</text>
<line class="tk" x1="39.46" x2="39.46" y1="77.5" y2="78.6"/>
<text class="xt" x="39.46" y="81.85">500</text>
<line class="tk" x1="58.72" x2="58.72" y1="77.5" y2="78.6"/>
<text class="xt" x="58.72" y="81.85">1000</text>
<line class="tk" x1="77.98" x2="77.98" y1="77.5" y2="78.6"/>
<text class="xt" x="77.98" y="81.85">1500</text>
<line class="tk" x1="97.24" x2="97.24" y1="77.5" y2="78.6"/>
<text class="xt" x="97.24" y="81.85">2000</text>
<line class="tk" x1="116.5" x2="116.5" y1="77.5" y2="78.6"/>
<text class="xt" x="116.5" y="81.85">2500</text>
<text class="xl" x="68.83" y="85.2">Time (days)</text>
<polyline class="cr" points="20.2,21 21.11,21 21.11,21.99 22.02,21.99 22.02,22.97 22.41,22.97 22.41,23.94 22.79,23.94 22.79,24.91 23.18,24.91 23.18,25.88 23.57,25.88 23.57,26.85 23.88,26.85 23.88,27.82 24.19,27.82 24.19,28.78 24.5,28.78 24.5,29.75 24.81,29.75 24.81,30.72 25.2,30.72 25.2,31.69 25.59,31.69 25.59,32.66 25.98,32.66 25.98,33.63 26.36,33.63 26.36,34.6 27.14,34.6 27.14,35.73 27.91,35.73 27.91,36.87 28.69,36.87 28.69,38 29.47,38 29.47,39.09 30.24,39.09 30.24,40.17 31.02,40.17 31.02,41.26 31.56,41.26 31.56,42.38 32.1,42.38 32.1,43.51 32.65,43.51 32.65,44.63 33.19,44.63 33.19,45.75 33.62,45.75 33.62,46.64 34.04,46.64 34.04,47.54 34.47,47.54 34.47,48.43 34.9,48.43 34.9,49.32 35.17,49.32 35.17,50.29 35.44,50.29 35.44,51.25 35.71,51.25 35.71,52.22 35.98,52.22 35.98,53.19 36.29,53.19 36.29,54.16 36.6,54.16 36.6,55.13 36.91,55.13 36.91,56.1 37.22,56.1 37.22,57.07 37.81,57.07 37.81,58.03 38.39,58.03 38.39,59 38.97,59 38.97,59.97 39.55,59.97 39.55,60.94 40.33,60.94 40.33,61.82 41.1,61.82 41.1,62.7 41.88,62.7 41.88,63.57 43.12,63.57 43.12,64.5 44.36,64.5 44.36,65.43 45.35,65.43 45.35,65.84 46.35,65.84 46.35,66.24 47.34,66.24 47.34,66.64 48.33,66.64 48.33,67.05 49.33,67.05 49.33,67.45 50.28,67.45 50.28,67.7 51.23,67.7 51.23,67.95 52.18,67.95 52.18,68.2 53.13,68.2 53.13,68.46 54.08,68.46 54.08,68.71 55.03,68.71 55.03,68.96 55.98,68.96 55.98,69.21 56.93,69.21 56.93,69.46 57.99,69.46 57.99,69.73 59.06,69.73 59.06,69.99 60.12,69.99 60.12,70.26 61.18,70.26 61.18,70.53 62.25,70.53 62.25,70.79 63.31,70.79 63.31,71.06 64.37,71.06 64.37,71.32 65.44,71.32 65.44,71.52 66.5,71.52 66.5,71.72 67.57,71.72 67.57,71.92 68.63,71.92 68.63,72.12 69.69,72.12 69.69,72.32 70.76,72.32 70.76,72.52 71.82,72.52 71.82,72.72 72.79,72.72 72.79,72.79 73.76,72.79 73.76,72.87 74.73,72.87 74.73,72.95 75.7,72.95 75.7,73.03 76.94,73.03 76.94,74.42 79.89,74.42"/>
<polyline class="cc" points="20.2,21 20.95,21 20.95,22.22 21.71,22.22 21.71,23.44 22.74,23.44 22.74,23.57 23.78,23.57 23.78,23.7 24.81,23.7 24.81,23.83 25.85,23.83 25.85,23.95 26.88,23.95 26.88,24.08 27.91,24.08 27.91,24.21 28.85,24.21 28.85,24.37 29.78,24.37 29.78,24.52 30.71,24.52 30.71,24.68 31.95,24.68 31.95,25.61 33.19,25.61 33.19,26.54 33.73,26.54 33.73,27.58 34.28,27.58 34.28,28.63 34.82,28.63 34.82,29.68 35.36,29.68 35.36,30.72 35.75,30.72 35.75,31.81 36.14,31.81 36.14,32.89 36.53,32.89 36.53,33.98 36.91,33.98 36.91,35.06 37.16,35.06 37.16,36.05 37.41,36.05 37.41,37.04 37.66,37.04 37.66,38.04 37.91,38.04 37.91,39.03 38.15,39.03 38.15,40.02 38.58,40.02 38.58,41.07 39.01,41.07 39.01,42.11 39.43,42.11 39.43,43.16 39.86,43.16 39.86,44.2 40.64,44.2 40.64,45.13 41.41,45.13 41.41,46.06 42.19,46.06 42.19,46.99 43.2,46.99 43.2,47.54 44.21,47.54 44.21,48.08 44.67,48.08 44.67,49.01 45.14,49.01 45.14,49.94 45.6,49.94 45.6,50.87 46.43,50.87 46.43,51.85 47.26,51.85 47.26,52.83 48.08,52.83 48.08,53.81 48.91,53.81 48.91,54.74 49.74,54.74 49.74,55.67 50.57,55.67 50.57,56.6 51.45,56.6 51.45,57.12 52.32,57.12 52.32,57.63 53.2,57.63 53.2,58.15 54.34,58.15 54.34,58.67 55.48,58.67 55.48,59.18 56.62,59.18 56.62,59.7 57.78,59.7 57.78,60.32 58.94,60.32 58.94,60.94 59.2,60.94 59.2,61.97 59.46,61.97 59.46,63.01 59.72,63.01 59.72,64.04 75.23,64.04 75.23,67.45 101.61,67.45 101.61,71.01 121,71.01"/>
<line class="ds" x1="20.2" x2="42.65" y1="48.1" y2="48.1"/>
<line class="ds" x1="35.36" x2="35.36" y1="75.2" y2="48.1"/>
<line class="ds" x1="42.65" x2="42.65" y1="75.2" y2="48.1"/>
<text class="pv" x="22.5" y="66.7">p = 0.0017</text>
<text class="nr" x="15.4" y="92.8" textLength="27.6" lengthAdjust="spacingAndGlyphs">Number at risk</text>
<line class="gn" x1="29.83" x2="29.83" y1="95.3" y2="107.5"/><line class="gn" x1="49.09" x2="49.09" y1="95.3" y2="107.5"/><line class="gn" x1="68.35" x2="68.35" y1="95.3" y2="107.5"/><line class="gn" x1="87.61" x2="87.61" y1="95.3" y2="107.5"/><line class="gn" x1="106.87" x2="106.87" y1="95.3" y2="107.5"/><line class="gm" x1="20.2" x2="20.2" y1="95.3" y2="107.5"/><line class="gm" x1="39.46" x2="39.46" y1="95.3" y2="107.5"/><line class="gm" x1="58.72" x2="58.72" y1="95.3" y2="107.5"/><line class="gm" x1="77.98" x2="77.98" y1="95.3" y2="107.5"/><line class="gm" x1="97.24" x2="97.24" y1="95.3" y2="107.5"/><line class="gm" x1="116.5" x2="116.5" y1="95.3" y2="107.5"/><line class="gm" x1="15.5" x2="121.35" y1="98.5" y2="98.5"/><line class="gm" x1="15.5" x2="121.35" y1="104.2" y2="104.2"/>
<rect class="bd" x="15.5" y="95.3" width="105.85" height="12.2"/>
<text class="rr" x="20.2" y="99.8">132</text>
<text class="rc" x="20.2" y="105.5">33</text>
<text class="rr" x="39.46" y="99.8">31</text>
<text class="rc" x="39.46" y="105.5">13</text>
<text class="rr" x="58.72" y="99.8">7</text>
<text class="rc" x="58.72" y="105.5">4</text>
<text class="rr" x="77.98" y="99.8">1</text>
<text class="rc" x="77.98" y="105.5">2</text>
<text class="rr" x="97.24" y="99.8">0</text>
<text class="rc" x="97.24" y="105.5">2</text>
<text class="rr" x="116.5" y="99.8">0</text>
<text class="rc" x="116.5" y="105.5">1</text>
<line class="tk" x1="20.2" x2="20.2" y1="107.5" y2="108.6"/>
<text class="xt" x="20.2" y="110.9">0</text>
<line class="tk" x1="39.46" x2="39.46" y1="107.5" y2="108.6"/>
<text class="xt" x="39.46" y="110.9">500</text>
<line class="tk" x1="58.72" x2="58.72" y1="107.5" y2="108.6"/>
<text class="xt" x="58.72" y="110.9">1000</text>
<line class="tk" x1="77.98" x2="77.98" y1="107.5" y2="108.6"/>
<text class="xt" x="77.98" y="110.9">1500</text>
<line class="tk" x1="97.24" x2="97.24" y1="107.5" y2="108.6"/>
<text class="xt" x="97.24" y="110.9">2000</text>
<line class="tk" x1="116.5" x2="116.5" y1="107.5" y2="108.6"/>
<text class="xt" x="116.5" y="110.9">2500</text>
<text class="xl" x="68.83" y="115.0">Time (days)</text>
<text class="rs" transform="translate(3.7,101.0) rotate(-90)">Strata</text>
<line x1="5.6" x2="13.4" y1="96.9" y2="96.9" stroke="#F8766D" stroke-width="1.8"/>
<line x1="5.6" x2="13.4" y1="102.75" y2="102.75" stroke="#00BFC4" stroke-width="1.8"/>
</g>
<g transform="translate(0,121.12)">
<text class="t" transform="translate(15.5,4.15) scale(0.95,1)">HNSC ARSI Survival</text>
<text class="ls" x="37.5" y="12">Strata</text>
<line x1="48.5" x2="52.7" y1="10.8" y2="10.8" stroke="#F8766D" stroke-width="1.4"/>
<text class="ll" x="54.8" y="11.9" textLength="19.5">gelgene=High</text>
<line x1="76.0" x2="80.4" y1="10.8" y2="10.8" stroke="#00BFC4" stroke-width="1.4"/>
<text class="ll" x="82.2" y="11.9" textLength="18.0">gelgene=Low</text>
<line class="gn" x1="36.25" x2="36.25" y1="18.3" y2="77.5"/><line class="gn" x1="68.35" x2="68.35" y1="18.3" y2="77.5"/><line class="gn" x1="100.45" x2="100.45" y1="18.3" y2="77.5"/><line class="gn" x1="15.5" x2="121.35" y1="68.43" y2="68.43"/><line class="gn" x1="15.5" x2="121.35" y1="54.88" y2="54.88"/><line class="gn" x1="15.5" x2="121.35" y1="41.33" y2="41.33"/><line class="gn" x1="15.5" x2="121.35" y1="27.77" y2="27.77"/><line class="gm" x1="20.2" x2="20.2" y1="18.3" y2="77.5"/><line class="gm" x1="52.3" x2="52.3" y1="18.3" y2="77.5"/><line class="gm" x1="84.4" x2="84.4" y1="18.3" y2="77.5"/><line class="gm" x1="116.5" x2="116.5" y1="18.3" y2="77.5"/><line class="gm" x1="15.5" x2="121.35" y1="75.2" y2="75.2"/><line class="gm" x1="15.5" x2="121.35" y1="61.65" y2="61.65"/><line class="gm" x1="15.5" x2="121.35" y1="48.1" y2="48.1"/><line class="gm" x1="15.5" x2="121.35" y1="34.55" y2="34.55"/><line class="gm" x1="15.5" x2="121.35" y1="21" y2="21"/>
<rect class="bd" x="15.5" y="18.3" width="105.85" height="59.2"/>
<line class="tk" x1="14.4" x2="15.5" y1="75.2" y2="75.2"/>
<text class="yt" x="14.2" y="76.2">0.00</text>
<line class="tk" x1="14.4" x2="15.5" y1="61.65" y2="61.65"/>
<text class="yt" x="14.2" y="62.65">0.25</text>
<line class="tk" x1="14.4" x2="15.5" y1="48.1" y2="48.1"/>
<text class="yt" x="14.2" y="49.1">0.50</text>
<line class="tk" x1="14.4" x2="15.5" y1="34.55" y2="34.55"/>
<text class="yt" x="14.2" y="35.55">0.75</text>
<line class="tk" x1="14.4" x2="15.5" y1="21" y2="21"/>
<text class="yt" x="14.2" y="22">1.00</text>
<text class="yl" transform="translate(3.4,46.9) rotate(-90)">Survival probability</text>
<line class="tk" x1="20.2" x2="20.2" y1="77.5" y2="78.6"/>
<text class="xt" x="20.2" y="81.85">0</text>
<line class="tk" x1="52.3" x2="52.3" y1="77.5" y2="78.6"/>
<text class="xt" x="52.3" y="81.85">2000</text>
<line class="tk" x1="84.4" x2="84.4" y1="77.5" y2="78.6"/>
<text class="xt" x="84.4" y="81.85">4000</text>
<line class="tk" x1="116.5" x2="116.5" y1="77.5" y2="78.6"/>
<text class="xt" x="116.5" y="81.85">6000</text>
<text class="xl" x="68.83" y="85.2">Time (days)</text>
<polyline class="cr" points="20.2,21 20.98,21 20.98,22.04 21.75,22.04 21.75,23.09 22.53,23.09 22.53,24.13 23.31,24.13 23.31,25.18 23.77,25.18 23.77,26.26 24.24,26.26 24.24,27.35 24.71,27.35 24.71,28.43 25.17,28.43 25.17,29.52 25.64,29.52 25.64,30.6 26.1,30.6 26.1,31.69 26.57,31.69 26.57,32.77 27.03,32.77 27.03,33.86 27.5,33.86 27.5,34.94 27.96,34.94 27.96,36.03 28.55,36.03 28.55,36.99 29.13,36.99 29.13,37.96 29.71,37.96 29.71,38.93 30.29,38.93 30.29,39.9 31.32,39.9 31.32,40.93 32.36,40.93 32.36,41.97 33.39,41.97 33.39,43 34.36,43 34.36,43.58 35.33,43.58 35.33,44.16 36.3,44.16 36.3,44.74 37.27,44.74 37.27,45.32 38.24,45.32 38.24,45.71 39.21,45.71 39.21,46.1 40.18,46.1 40.18,46.49 41.15,46.49 41.15,46.87 42.12,46.87 42.12,47.18 43.09,47.18 43.09,47.49 44.06,47.49 44.06,47.8 45.03,47.8 45.03,48.11 46,48.11 46,48.38 46.97,48.38 46.97,48.65 47.94,48.65 47.94,48.93 48.91,48.93 48.91,49.2 49.88,49.2 49.88,49.78 50.85,49.78 50.85,50.36 51.82,50.36 51.82,50.94 52.79,50.94 52.79,51.52 53.82,51.52 53.82,52.04 54.86,52.04 54.86,52.55 55.89,52.55 55.89,53.07 56.82,53.07 56.82,53.38 57.75,53.38 57.75,53.69 58.68,53.69 58.68,54 59.61,54 59.61,54.31 60.54,54.31 60.54,54.62 61.58,54.62 61.58,55.14 62.61,55.14 62.61,55.65 63.65,55.65 63.65,56.17 63.91,56.17 63.91,57.2 64.16,57.2 64.16,58.24 64.42,58.24 64.42,59.27 65.59,59.27 65.59,59.66 66.75,59.66 66.75,60.04 67.78,60.04 67.78,60.3 68.82,60.3 68.82,60.56 69.85,60.56 69.85,60.82 70.89,60.82 70.89,61.08 71.92,61.08 71.92,61.34 72.96,61.34 72.96,61.59 73.73,61.59 73.73,61.98 74.51,61.98 74.51,62.37 94.68,62.37 95.45,62.37 95.45,63.53 96.23,63.53 96.23,64.69 97.39,64.69 97.39,65.86 98.56,65.86 98.56,67.02 98.56,69.34 121.05,69.34"/>
<polyline class="cc" points="20.2,21 21.24,21 21.24,21.62 22.27,21.62 22.27,22.24 23.31,22.24 23.31,22.85 23.89,22.85 23.89,23.82 24.47,23.82 24.47,24.79 25.05,24.79 25.05,25.76 25.64,25.76 25.64,26.73 26.22,26.73 26.22,27.7 26.8,27.7 26.8,28.66 27.38,28.66 27.38,29.63 27.96,29.63 27.96,30.6 29,30.6 29,30.86 30.03,30.86 30.03,31.12 31.07,31.12 31.07,31.38 32.1,31.38 32.1,32.15 33.13,32.15 33.13,32.93 34.17,32.93 34.17,33.7 35.2,33.7 35.2,34.48 36.24,34.48 36.24,35.25 37.27,35.25 37.27,36.03 38.24,36.03 38.24,36.22 39.21,36.22 39.21,36.41 40.18,36.41 40.18,36.61 41.15,36.61 41.15,36.8 42.31,36.8 42.31,37.96 43.48,37.96 43.48,39.12 44.51,39.12 44.51,39.9 45.55,39.9 45.55,40.67 46.58,40.67 46.58,41.45 47.36,41.45 47.36,42.48 48.13,42.48 48.13,43.52 48.91,43.52 48.91,44.55 49.43,44.55 49.43,45.58 49.94,45.58 49.94,46.61 50.46,46.61 50.46,47.65 52.79,47.65 52.98,47.65 52.98,48.62 53.17,48.62 53.17,49.58 53.37,49.58 53.37,50.55 53.56,50.55 53.56,51.52 54.34,51.52 54.34,52.14 55.11,52.14 55.11,52.76 66.75,52.76 66.75,57.41 103.21,57.41 103.21,74.77"/>
<line class="ds" x1="20.2" x2="50.46" y1="48.1" y2="48.1"/>
<line class="ds" x1="43.94" x2="43.94" y1="75.2" y2="48.1"/>
<line class="ds" x1="49.99" x2="49.99" y1="75.2" y2="48.1"/>
<text class="pv" x="22.5" y="66.7">p = 0.0046</text>
<text class="nr" x="15.4" y="92.8" textLength="27.6" lengthAdjust="spacingAndGlyphs">Number at risk</text>
<line class="gn" x1="36.25" x2="36.25" y1="95.3" y2="107.5"/><line class="gn" x1="68.35" x2="68.35" y1="95.3" y2="107.5"/><line class="gn" x1="100.45" x2="100.45" y1="95.3" y2="107.5"/><line class="gm" x1="20.2" x2="20.2" y1="95.3" y2="107.5"/><line class="gm" x1="52.3" x2="52.3" y1="95.3" y2="107.5"/><line class="gm" x1="84.4" x2="84.4" y1="95.3" y2="107.5"/><line class="gm" x1="116.5" x2="116.5" y1="95.3" y2="107.5"/><line class="gm" x1="15.5" x2="121.35" y1="98.5" y2="98.5"/><line class="gm" x1="15.5" x2="121.35" y1="104.2" y2="104.2"/>
<rect class="bd" x="15.5" y="95.3" width="105.85" height="12.2"/>
<text class="rr" x="20.2" y="99.8">369</text>
<text class="rc" x="20.2" y="105.5">130</text>
<text class="rr" x="52.3" y="99.8">33</text>
<text class="rc" x="52.3" y="105.5">13</text>
<text class="rr" x="84.4" y="99.8">7</text>
<text class="rc" x="84.4" y="105.5">2</text>
<text class="rr" x="116.5" y="99.8">1</text>
<text class="rc" x="116.5" y="105.5">0</text>
<line class="tk" x1="20.2" x2="20.2" y1="107.5" y2="108.6"/>
<text class="xt" x="20.2" y="110.9">0</text>
<line class="tk" x1="52.3" x2="52.3" y1="107.5" y2="108.6"/>
<text class="xt" x="52.3" y="110.9">2000</text>
<line class="tk" x1="84.4" x2="84.4" y1="107.5" y2="108.6"/>
<text class="xt" x="84.4" y="110.9">4000</text>
<line class="tk" x1="116.5" x2="116.5" y1="107.5" y2="108.6"/>
<text class="xt" x="116.5" y="110.9">6000</text>
<text class="xl" x="68.83" y="115.0">Time (days)</text>
<text class="rs" transform="translate(3.7,101.0) rotate(-90)">Strata</text>
<line x1="5.6" x2="13.4" y1="96.9" y2="96.9" stroke="#F8766D" stroke-width="1.8"/>
<line x1="5.6" x2="13.4" y1="102.75" y2="102.75" stroke="#00BFC4" stroke-width="1.8"/>
</g>
<g transform="translate(146.65,121.12)">
<text class="t" transform="translate(15.5,4.15) scale(0.95,1)">KICH ARSI Survival</text>
<text class="ls" x="37.5" y="12">Strata</text>
<line x1="48.5" x2="52.7" y1="10.8" y2="10.8" stroke="#F8766D" stroke-width="1.4"/>
<text class="ll" x="54.8" y="11.9" textLength="19.5">gelgene=High</text>
<line x1="76.0" x2="80.4" y1="10.8" y2="10.8" stroke="#00BFC4" stroke-width="1.4"/>
<text class="ll" x="82.2" y="11.9" textLength="18.0">gelgene=Low</text>
<line class="gn" x1="29.48" x2="29.48" y1="18.3" y2="77.5"/><line class="gn" x1="48.09" x2="48.09" y1="18.3" y2="77.5"/><line class="gn" x1="67.49" x2="67.49" y1="18.3" y2="77.5"/><line class="gn" x1="86.49" x2="86.49" y1="18.3" y2="77.5"/><line class="gn" x1="105.5" x2="105.5" y1="18.3" y2="77.5"/><line class="gn" x1="15.5" x2="121.35" y1="68.43" y2="68.43"/><line class="gn" x1="15.5" x2="121.35" y1="54.88" y2="54.88"/><line class="gn" x1="15.5" x2="121.35" y1="41.33" y2="41.33"/><line class="gn" x1="15.5" x2="121.35" y1="27.77" y2="27.77"/><line class="gm" x1="20.56" x2="20.56" y1="18.3" y2="77.5"/><line class="gm" x1="38.4" x2="38.4" y1="18.3" y2="77.5"/><line class="gm" x1="57.79" x2="57.79" y1="18.3" y2="77.5"/><line class="gm" x1="77.18" x2="77.18" y1="18.3" y2="77.5"/><line class="gm" x1="95.8" x2="95.8" y1="18.3" y2="77.5"/><line class="gm" x1="115.2" x2="115.2" y1="18.3" y2="77.5"/><line class="gm" x1="15.5" x2="121.35" y1="75.2" y2="75.2"/><line class="gm" x1="15.5" x2="121.35" y1="61.65" y2="61.65"/><line class="gm" x1="15.5" x2="121.35" y1="48.1" y2="48.1"/><line class="gm" x1="15.5" x2="121.35" y1="34.55" y2="34.55"/><line class="gm" x1="15.5" x2="121.35" y1="21" y2="21"/>
<rect class="bd" x="15.5" y="18.3" width="105.85" height="59.2"/>
<line class="tk" x1="14.4" x2="15.5" y1="75.2" y2="75.2"/>
<text class="yt" x="14.2" y="76.2">0.00</text>
<line class="tk" x1="14.4" x2="15.5" y1="61.65" y2="61.65"/>
<text class="yt" x="14.2" y="62.65">0.25</text>
<line class="tk" x1="14.4" x2="15.5" y1="48.1" y2="48.1"/>
<text class="yt" x="14.2" y="49.1">0.50</text>
<line class="tk" x1="14.4" x2="15.5" y1="34.55" y2="34.55"/>
<text class="yt" x="14.2" y="35.55">0.75</text>
<line class="tk" x1="14.4" x2="15.5" y1="21" y2="21"/>
<text class="yt" x="14.2" y="22">1.00</text>
<text class="yl" transform="translate(3.4,46.9) rotate(-90)">Survival probability</text>
<line class="tk" x1="20.56" x2="20.56" y1="77.5" y2="78.6"/>
<text class="xt" x="20.56" y="81.85">0</text>
<line class="tk" x1="38.4" x2="38.4" y1="77.5" y2="78.6"/>
<text class="xt" x="38.4" y="81.85">1000</text>
<line class="tk" x1="57.79" x2="57.79" y1="77.5" y2="78.6"/>
<text class="xt" x="57.79" y="81.85">2000</text>
<line class="tk" x1="77.18" x2="77.18" y1="77.5" y2="78.6"/>
<text class="xt" x="77.18" y="81.85">3000</text>
<line class="tk" x1="95.8" x2="95.8" y1="77.5" y2="78.6"/>
<text class="xt" x="95.8" y="81.85">4000</text>
<line class="tk" x1="115.2" x2="115.2" y1="77.5" y2="78.6"/>
<text class="xt" x="115.2" y="81.85">5000</text>
<text class="xl" x="68.83" y="85.2">Time (days)</text>
<polyline class="cr" points="20.2,21 25.99,20.84 25.99,30.14 29.86,30.14 29.86,39.12 38.4,39.12 38.4,48.11 79.51,48.11"/>
<polyline class="cc" points="20.2,21 33.74,20.84 34.52,20.84 34.52,21.85 35.29,21.85 35.29,22.85 36.46,22.85 36.46,23.24 37.62,23.24 37.62,23.63 38.55,23.63 38.55,23.78 39.48,23.78 39.48,23.94 40.41,23.94 40.41,24.09 41.35,24.09 41.35,24.25 42.28,24.25 42.28,24.4 43.31,24.4 43.31,24.66 44.35,24.66 44.35,24.92 45.38,24.92 45.38,25.18 46.31,25.18 46.31,25.24 47.24,25.24 47.24,25.3 48.17,25.3 48.17,25.36 49.1,25.36 49.1,25.43 50.03,25.43 50.03,25.49 50.81,25.49 50.81,25.95 51.59,25.95 51.59,26.42 52.62,26.42 52.62,26.45 53.65,26.45 53.65,26.49 54.69,26.49 54.69,26.52 55.72,26.52 55.72,26.56 56.76,26.56 56.76,26.59 57.79,26.59 57.79,26.62 58.83,26.62 58.83,26.66 59.86,26.66 59.86,26.69 60.89,26.69 60.89,26.73 61.67,26.73 61.67,27.35 62.45,27.35 62.45,27.97 110.54,27.97"/>
<line class="ds" x1="20.2" x2="37.93" y1="48.1" y2="48.1"/>
<line class="ds" x1="37.93" x2="37.93" y1="75.2" y2="48.1"/>
<text class="pv" x="22.5" y="66.7">p = 0.002</text>
<text class="nr" x="15.4" y="92.8" textLength="27.6" lengthAdjust="spacingAndGlyphs">Number at risk</text>
<line class="gn" x1="29.48" x2="29.48" y1="95.3" y2="107.5"/><line class="gn" x1="48.09" x2="48.09" y1="95.3" y2="107.5"/><line class="gn" x1="67.49" x2="67.49" y1="95.3" y2="107.5"/><line class="gn" x1="86.49" x2="86.49" y1="95.3" y2="107.5"/><line class="gn" x1="105.5" x2="105.5" y1="95.3" y2="107.5"/><line class="gm" x1="20.56" x2="20.56" y1="95.3" y2="107.5"/><line class="gm" x1="38.4" x2="38.4" y1="95.3" y2="107.5"/><line class="gm" x1="57.79" x2="57.79" y1="95.3" y2="107.5"/><line class="gm" x1="77.18" x2="77.18" y1="95.3" y2="107.5"/><line class="gm" x1="95.8" x2="95.8" y1="95.3" y2="107.5"/><line class="gm" x1="115.2" x2="115.2" y1="95.3" y2="107.5"/><line class="gm" x1="15.5" x2="121.35" y1="98.5" y2="98.5"/><line class="gm" x1="15.5" x2="121.35" y1="104.2" y2="104.2"/>
<rect class="bd" x="15.5" y="95.3" width="105.85" height="12.2"/>
<text class="rr" x="20.56" y="99.8">7</text>
<text class="rc" x="20.56" y="105.5">58</text>
<text class="rr" x="38.4" y="99.8">2</text>
<text class="rc" x="38.4" y="105.5">40</text>
<text class="rr" x="57.79" y="99.8">2</text>
<text class="rc" x="57.79" y="105.5">33</text>
<text class="rr" x="77.18" y="99.8">1</text>
<text class="rc" x="77.18" y="105.5">19</text>
<text class="rr" x="95.8" y="99.8">0</text>
<text class="rc" x="95.8" y="105.5">3</text>
<text class="rr" x="115.2" y="99.8">0</text>
<text class="rc" x="115.2" y="105.5">0</text>
<line class="tk" x1="20.56" x2="20.56" y1="107.5" y2="108.6"/>
<text class="xt" x="20.56" y="110.9">0</text>
<line class="tk" x1="38.4" x2="38.4" y1="107.5" y2="108.6"/>
<text class="xt" x="38.4" y="110.9">1000</text>
<line class="tk" x1="57.79" x2="57.79" y1="107.5" y2="108.6"/>
<text class="xt" x="57.79" y="110.9">2000</text>
<line class="tk" x1="77.18" x2="77.18" y1="107.5" y2="108.6"/>
<text class="xt" x="77.18" y="110.9">3000</text>
<line class="tk" x1="95.8" x2="95.8" y1="107.5" y2="108.6"/>
<text class="xt" x="95.8" y="110.9">4000</text>
<line class="tk" x1="115.2" x2="115.2" y1="107.5" y2="108.6"/>
<text class="xt" x="115.2" y="110.9">5000</text>
<text class="xl" x="68.83" y="115.0">Time (days)</text>
<text class="rs" transform="translate(3.7,101.0) rotate(-90)">Strata</text>
<line x1="5.6" x2="13.4" y1="96.9" y2="96.9" stroke="#F8766D" stroke-width="1.8"/>
<line x1="5.6" x2="13.4" y1="102.75" y2="102.75" stroke="#00BFC4" stroke-width="1.8"/>
</g>
<g transform="translate(293.3,121.12)">
<text class="t" transform="translate(15.5,4.15) scale(0.95,1)">KIRC ARSI Survival</text>
<text class="ls" x="37.5" y="12">Strata</text>
<line x1="48.5" x2="52.7" y1="10.8" y2="10.8" stroke="#F8766D" stroke-width="1.4"/>
<text class="ll" x="54.8" y="11.9" textLength="19.5">gelgene=High</text>
<line x1="76.0" x2="80.4" y1="10.8" y2="10.8" stroke="#00BFC4" stroke-width="1.4"/>
<text class="ll" x="82.2" y="11.9" textLength="18.0">gelgene=Low</text>
<line class="gn" x1="32.24" x2="32.24" y1="18.3" y2="77.5"/><line class="gn" x1="56.31" x2="56.31" y1="18.3" y2="77.5"/><line class="gn" x1="80.39" x2="80.39" y1="18.3" y2="77.5"/><line class="gn" x1="104.46" x2="104.46" y1="18.3" y2="77.5"/><line class="gn" x1="15.5" x2="121.35" y1="68.43" y2="68.43"/><line class="gn" x1="15.5" x2="121.35" y1="54.88" y2="54.88"/><line class="gn" x1="15.5" x2="121.35" y1="41.33" y2="41.33"/><line class="gn" x1="15.5" x2="121.35" y1="27.77" y2="27.77"/><line class="gm" x1="20.2" x2="20.2" y1="18.3" y2="77.5"/><line class="gm" x1="44.27" x2="44.27" y1="18.3" y2="77.5"/><line class="gm" x1="68.35" x2="68.35" y1="18.3" y2="77.5"/><line class="gm" x1="92.42" x2="92.42" y1="18.3" y2="77.5"/><line class="gm" x1="116.5" x2="116.5" y1="18.3" y2="77.5"/><line class="gm" x1="15.5" x2="121.35" y1="75.2" y2="75.2"/><line class="gm" x1="15.5" x2="121.35" y1="61.65" y2="61.65"/><line class="gm" x1="15.5" x2="121.35" y1="48.1" y2="48.1"/><line class="gm" x1="15.5" x2="121.35" y1="34.55" y2="34.55"/><line class="gm" x1="15.5" x2="121.35" y1="21" y2="21"/>
<rect class="bd" x="15.5" y="18.3" width="105.85" height="59.2"/>
<line class="tk" x1="14.4" x2="15.5" y1="75.2" y2="75.2"/>
<text class="yt" x="14.2" y="76.2">0.00</text>
<line class="tk" x1="14.4" x2="15.5" y1="61.65" y2="61.65"/>
<text class="yt" x="14.2" y="62.65">0.25</text>
<line class="tk" x1="14.4" x2="15.5" y1="48.1" y2="48.1"/>
<text class="yt" x="14.2" y="49.1">0.50</text>
<line class="tk" x1="14.4" x2="15.5" y1="34.55" y2="34.55"/>
<text class="yt" x="14.2" y="35.55">0.75</text>
<line class="tk" x1="14.4" x2="15.5" y1="21" y2="21"/>
<text class="yt" x="14.2" y="22">1.00</text>
<text class="yl" transform="translate(3.4,46.9) rotate(-90)">Survival probability</text>
<line class="tk" x1="20.2" x2="20.2" y1="77.5" y2="78.6"/>
<text class="xt" x="20.2" y="81.85">0</text>
<line class="tk" x1="44.27" x2="44.27" y1="77.5" y2="78.6"/>
<text class="xt" x="44.27" y="81.85">1000</text>
<line class="tk" x1="68.35" x2="68.35" y1="77.5" y2="78.6"/>
<text class="xt" x="68.35" y="81.85">2000</text>
<line class="tk" x1="92.42" x2="92.42" y1="77.5" y2="78.6"/>
<text class="xt" x="92.42" y="81.85">3000</text>
<line class="tk" x1="116.5" x2="116.5" y1="77.5" y2="78.6"/>
<text class="xt" x="116.5" y="81.85">4000</text>
<text class="xl" x="68.83" y="85.2">Time (days)</text>
<polyline class="cr" points="20.2,21 20.9,21 20.9,22.04 21.6,22.04 21.6,23.09 22.31,23.09 22.31,24.13 23.01,24.13 23.01,25.18 23.94,25.18 23.94,26.11 24.87,26.11 24.87,27.04 25.8,27.04 25.8,27.97 26.73,27.97 26.73,28.9 27.66,28.9 27.66,29.83 28.59,29.83 28.59,30.45 29.53,30.45 29.53,31.07 30.46,31.07 30.46,31.69 31.39,31.69 31.39,32.31 32.32,32.31 32.32,32.93 33.25,32.93 33.25,33.55 34.18,33.55 34.18,34.17 35.11,34.17 35.11,34.79 36.04,34.79 36.04,35.41 36.97,35.41 36.97,36.03 38.01,36.03 38.01,37.06 39.04,37.06 39.04,38.09 40.08,38.09 40.08,39.12 41.11,39.12 41.11,39.9 42.14,39.9 42.14,40.67 43.18,40.67 43.18,41.45 44.11,41.45 44.11,41.91 45.04,41.91 45.04,42.38 45.97,42.38 45.97,42.84 46.9,42.84 46.9,43.31 47.83,43.31 47.83,43.77 48.76,43.77 48.76,44.24 49.69,44.24 49.69,44.7 50.63,44.7 50.63,45.17 51.56,45.17 51.56,45.63 52.49,45.63 52.49,46.1 53.42,46.1 53.42,46.41 54.35,46.41 54.35,46.72 55.28,46.72 55.28,47.03 56.21,47.03 56.21,47.34 57.14,47.34 57.14,47.65 58.18,47.65 58.18,48.16 59.21,48.16 59.21,48.68 60.24,48.68 60.24,49.2 61.28,49.2 61.28,49.71 62.31,49.71 62.31,50.23 63.35,50.23 63.35,50.75 64.51,50.75 64.51,51.52 65.67,51.52 65.67,52.3 65.98,52.3 65.98,53.23 66.3,53.23 66.3,54.16 66.61,54.16 66.61,55.09 66.92,55.09 66.92,56.02 67.23,56.02 67.23,56.95 68.39,56.95 68.39,57.33 69.55,57.33 69.55,57.72 74.98,57.72 75.24,57.72 75.24,58.75 75.5,58.75 75.5,59.79 75.76,59.79 75.76,60.82 107.25,60.82 107.25,74.77"/>
<polyline class="cc" points="20.2,21 21.19,21 21.19,21.57 22.17,21.57 22.17,22.13 23.16,22.13 23.16,22.7 24.14,22.7 24.14,23.27 25.13,23.27 25.13,23.84 26.11,23.84 26.11,24.4 27.15,24.4 27.15,24.92 28.18,24.92 28.18,25.44 29.21,25.44 29.21,25.95 30.25,25.95 30.25,26.47 31.28,26.47 31.28,26.99 32.32,26.99 32.32,27.5 33.35,27.5 33.35,27.89 34.39,27.89 34.39,28.28 35.42,28.28 35.42,28.66 36.46,28.66 36.46,29.05 37.49,29.05 37.49,29.44 38.52,29.44 38.52,29.83 39.56,29.83 39.56,30.21 40.59,30.21 40.59,30.6 41.63,30.6 41.63,30.99 42.66,30.99 42.66,31.38 43.7,31.38 43.7,31.76 44.73,31.76 44.73,32.15 45.76,32.15 45.76,32.49 46.8,32.49 46.8,32.82 47.83,32.82 47.83,33.16 48.87,33.16 48.87,33.49 49.9,33.49 49.9,33.83 50.94,33.83 50.94,34.17 51.97,34.17 51.97,34.35 53,34.35 53,34.53 54.04,34.53 54.04,34.71 55.07,34.71 55.07,34.89 56.11,34.89 56.11,35.07 57.14,35.07 57.14,35.25 58.18,35.25 58.18,36.03 59.21,36.03 59.21,36.8 60.24,36.8 60.24,37.57 61.28,37.57 61.28,37.78 62.31,37.78 62.31,37.99 63.35,37.99 63.35,38.19 64.38,38.19 64.38,38.4 65.42,38.4 65.42,38.61 66.45,38.61 66.45,38.81 67.48,38.81 67.48,39.12 68.52,39.12 68.52,39.43 69.55,39.43 69.55,39.74 70.59,39.74 70.59,40.05 71.62,40.05 71.62,40.36 72.66,40.36 72.66,40.67 73.69,40.67 73.69,41.06 74.72,41.06 74.72,41.45 75.76,41.45 75.76,41.84 76.79,41.84 76.79,42.22 77.83,42.22 77.83,42.61 78.86,42.61 78.86,43 79.9,43 79.9,43.39 80.93,43.39 80.93,43.77 81.97,43.77 81.97,44.16 83,44.16 83,44.55 84.03,44.55 84.03,44.94 85.07,44.94 85.07,45.32 86.1,45.32 86.1,45.74 87.14,45.74 87.14,46.15 88.17,46.15 88.17,46.56 89.21,46.56 89.21,46.41 90.24,46.41 90.24,46.25 91.27,46.25 91.27,46.1 103.69,46.1 104.85,46.1 104.85,47.11 106.01,47.11 106.01,48.11 120.75,48.11"/>
<line class="ds" x1="20.2" x2="106.48" y1="48.1" y2="48.1"/>
<line class="ds" x1="58.38" x2="58.38" y1="75.2" y2="48.1"/>
<line class="ds" x1="106.32" x2="106.32" y1="75.2" y2="48.1"/>
<text class="pv" x="22.5" y="66.7">p < 0.0001</text>
<text class="nr" x="15.4" y="92.8" textLength="27.6" lengthAdjust="spacingAndGlyphs">Number at risk</text>
<line class="gn" x1="32.24" x2="32.24" y1="95.3" y2="107.5"/><line class="gn" x1="56.31" x2="56.31" y1="95.3" y2="107.5"/><line class="gn" x1="80.39" x2="80.39" y1="95.3" y2="107.5"/><line class="gn" x1="104.46" x2="104.46" y1="95.3" y2="107.5"/><line class="gm" x1="20.2" x2="20.2" y1="95.3" y2="107.5"/><line class="gm" x1="44.27" x2="44.27" y1="95.3" y2="107.5"/><line class="gm" x1="68.35" x2="68.35" y1="95.3" y2="107.5"/><line class="gm" x1="92.42" x2="92.42" y1="95.3" y2="107.5"/><line class="gm" x1="116.5" x2="116.5" y1="95.3" y2="107.5"/><line class="gm" x1="15.5" x2="121.35" y1="98.5" y2="98.5"/><line class="gm" x1="15.5" x2="121.35" y1="104.2" y2="104.2"/>
<rect class="bd" x="15.5" y="95.3" width="105.85" height="12.2"/>
<text class="rr" x="20.2" y="99.8">75</text>
<text class="rc" x="20.2" y="105.5">453</text>
<text class="rr" x="44.27" y="99.8">35</text>
<text class="rc" x="44.27" y="105.5">272</text>
<text class="rr" x="68.35" y="99.8">11</text>
<text class="rc" x="68.35" y="105.5">151</text>
<text class="rr" x="92.42" y="99.8">2</text>
<text class="rc" x="92.42" y="105.5">35</text>
<text class="rr" x="116.5" y="99.8">0</text>
<text class="rc" x="116.5" y="105.5">3</text>
<line class="tk" x1="20.2" x2="20.2" y1="107.5" y2="108.6"/>
<text class="xt" x="20.2" y="110.9">0</text>
<line class="tk" x1="44.27" x2="44.27" y1="107.5" y2="108.6"/>
<text class="xt" x="44.27" y="110.9">1000</text>
<line class="tk" x1="68.35" x2="68.35" y1="107.5" y2="108.6"/>
<text class="xt" x="68.35" y="110.9">2000</text>
<line class="tk" x1="92.42" x2="92.42" y1="107.5" y2="108.6"/>
<text class="xt" x="92.42" y="110.9">3000</text>
<line class="tk" x1="116.5" x2="116.5" y1="107.5" y2="108.6"/>
<text class="xt" x="116.5" y="110.9">4000</text>
<text class="xl" x="68.83" y="115.0">Time (days)</text>
<text class="rs" transform="translate(3.7,101.0) rotate(-90)">Strata</text>
<line x1="5.6" x2="13.4" y1="96.9" y2="96.9" stroke="#F8766D" stroke-width="1.8"/>
<line x1="5.6" x2="13.4" y1="102.75" y2="102.75" stroke="#00BFC4" stroke-width="1.8"/>
</g>
<g transform="translate(439.95,121.12)">
<text class="t" transform="translate(15.5,4.15) scale(0.95,1)">KIRP ARSI Survival</text>
<text class="ls" x="37.5" y="12">Strata</text>
<line x1="48.5" x2="52.7" y1="10.8" y2="10.8" stroke="#F8766D" stroke-width="1.4"/>
<text class="ll" x="54.8" y="11.9" textLength="19.5">gelgene=High</text>
<line x1="76.0" x2="80.4" y1="10.8" y2="10.8" stroke="#00BFC4" stroke-width="1.4"/>
<text class="ll" x="82.2" y="11.9" textLength="18.0">gelgene=Low</text>
<line class="gn" x1="28.23" x2="28.23" y1="18.3" y2="77.5"/><line class="gn" x1="44.27" x2="44.27" y1="18.3" y2="77.5"/><line class="gn" x1="60.32" x2="60.32" y1="18.3" y2="77.5"/><line class="gn" x1="76.38" x2="76.38" y1="18.3" y2="77.5"/><line class="gn" x1="92.43" x2="92.43" y1="18.3" y2="77.5"/><line class="gn" x1="108.47" x2="108.47" y1="18.3" y2="77.5"/><line class="gn" x1="15.5" x2="121.35" y1="68.43" y2="68.43"/><line class="gn" x1="15.5" x2="121.35" y1="54.88" y2="54.88"/><line class="gn" x1="15.5" x2="121.35" y1="41.33" y2="41.33"/><line class="gn" x1="15.5" x2="121.35" y1="27.77" y2="27.77"/><line class="gm" x1="20.2" x2="20.2" y1="18.3" y2="77.5"/><line class="gm" x1="36.25" x2="36.25" y1="18.3" y2="77.5"/><line class="gm" x1="52.3" x2="52.3" y1="18.3" y2="77.5"/><line class="gm" x1="68.35" x2="68.35" y1="18.3" y2="77.5"/><line class="gm" x1="84.4" x2="84.4" y1="18.3" y2="77.5"/><line class="gm" x1="100.45" x2="100.45" y1="18.3" y2="77.5"/><line class="gm" x1="116.5" x2="116.5" y1="18.3" y2="77.5"/><line class="gm" x1="15.5" x2="121.35" y1="75.2" y2="75.2"/><line class="gm" x1="15.5" x2="121.35" y1="61.65" y2="61.65"/><line class="gm" x1="15.5" x2="121.35" y1="48.1" y2="48.1"/><line class="gm" x1="15.5" x2="121.35" y1="34.55" y2="34.55"/><line class="gm" x1="15.5" x2="121.35" y1="21" y2="21"/>
<rect class="bd" x="15.5" y="18.3" width="105.85" height="59.2"/>
<line class="tk" x1="14.4" x2="15.5" y1="75.2" y2="75.2"/>
<text class="yt" x="14.2" y="76.2">0.00</text>
<line class="tk" x1="14.4" x2="15.5" y1="61.65" y2="61.65"/>
<text class="yt" x="14.2" y="62.65">0.25</text>
<line class="tk" x1="14.4" x2="15.5" y1="48.1" y2="48.1"/>
<text class="yt" x="14.2" y="49.1">0.50</text>
<line class="tk" x1="14.4" x2="15.5" y1="34.55" y2="34.55"/>
<text class="yt" x="14.2" y="35.55">0.75</text>
<line class="tk" x1="14.4" x2="15.5" y1="21" y2="21"/>
<text class="yt" x="14.2" y="22">1.00</text>
<text class="yl" transform="translate(3.4,46.9) rotate(-90)">Survival probability</text>
<line class="tk" x1="20.2" x2="20.2" y1="77.5" y2="78.6"/>
<text class="xt" x="20.2" y="81.85">0</text>
<line class="tk" x1="36.25" x2="36.25" y1="77.5" y2="78.6"/>
<text class="xt" x="36.25" y="81.85">1000</text>
<line class="tk" x1="52.3" x2="52.3" y1="77.5" y2="78.6"/>
<text class="xt" x="52.3" y="81.85">2000</text>
<line class="tk" x1="68.35" x2="68.35" y1="77.5" y2="78.6"/>
<text class="xt" x="68.35" y="81.85">3000</text>
<line class="tk" x1="84.4" x2="84.4" y1="77.5" y2="78.6"/>
<text class="xt" x="84.4" y="81.85">4000</text>
<line class="tk" x1="100.45" x2="100.45" y1="77.5" y2="78.6"/>
<text class="xt" x="100.45" y="81.85">5000</text>
<line class="tk" x1="116.5" x2="116.5" y1="77.5" y2="78.6"/>
<text class="xt" x="116.5" y="81.85">6000</text>
<text class="xl" x="68.83" y="85.2">Time (days)</text>
<polyline class="cr" points="20.2,21 21.14,21 21.14,21.37 22.08,21.37 22.08,21.74 23.03,21.74 23.03,22.11 23.97,22.11 23.97,22.48 24.91,22.48 24.91,22.85 25.53,22.85 25.53,23.78 26.15,23.78 26.15,24.71 26.77,24.71 26.77,25.64 27.39,25.64 27.39,26.57 28.01,26.57 28.01,27.5 28.94,27.5 28.94,27.97 29.88,27.97 29.88,28.43 30.81,28.43 30.81,28.9 31.74,28.9 31.74,29.36 32.67,29.36 32.67,29.83 33.6,29.83 33.6,30.14 34.53,30.14 34.53,30.45 35.46,30.45 35.46,30.76 36.39,30.76 36.39,31.07 37.32,31.07 37.32,31.38 38.36,31.38 38.36,31.89 39.39,31.89 39.39,32.41 40.43,32.41 40.43,32.93 41.59,32.93 41.59,34.09 42.75,34.09 42.75,35.25 43.33,35.25 43.33,36.3 43.92,36.3 43.92,37.34 44.5,37.34 44.5,38.39 45.08,38.39 45.08,39.43 61.37,39.43 61.37,43.77 66.8,43.77 66.93,43.77 66.93,44.81 67.06,44.81 67.06,45.84 67.19,45.84 67.19,46.87 67.32,46.87 67.32,47.91 67.45,47.91 67.45,48.94 67.58,48.94 67.58,49.97 84.64,49.97"/>
<polyline class="cc" points="20.2,21 21.14,21 21.14,21.22 22.08,21.22 22.08,21.43 23.03,21.43 23.03,21.65 23.97,21.65 23.97,21.86 24.91,21.86 24.91,22.08 25.84,22.08 25.84,22.39 26.77,22.39 26.77,22.7 27.7,22.7 27.7,23.01 28.63,23.01 28.63,23.32 29.56,23.32 29.56,23.63 30.6,23.63 30.6,23.76 31.63,23.76 31.63,23.89 32.67,23.89 32.67,24.02 33.7,24.02 33.7,24.14 34.74,24.14 34.74,24.27 35.77,24.27 35.77,24.4 36.81,24.4 36.81,24.66 37.84,24.66 37.84,24.92 38.87,24.92 38.87,25.18 39.91,25.18 39.91,25.44 40.94,25.44 40.94,25.69 41.98,25.69 41.98,25.95 43.14,25.95 43.14,27.11 44.3,27.11 44.3,28.28 45.47,28.28 45.47,29.05 46.63,29.05 46.63,29.83 47.56,29.83 47.56,30.14 48.49,30.14 48.49,30.45 49.42,30.45 49.42,30.76 50.35,30.76 50.35,31.07 51.29,31.07 51.29,31.38 52.22,31.38 52.22,31.69 53.15,31.69 53.15,32 54.08,32 54.08,32.31 55.01,32.31 55.01,32.62 55.94,32.62 55.94,32.93 56.87,32.93 56.87,33.24 57.8,33.24 57.8,33.55 58.73,33.55 58.73,33.86 59.66,33.86 59.66,34.17 60.59,34.17 60.59,34.48 61.37,34.48 61.37,35.64 62.15,35.64 62.15,36.8 62.66,36.8 62.66,37.68 63.18,37.68 63.18,38.56 63.7,38.56 63.7,39.43 116.45,39.43"/>
<line class="ds" x1="20.2" x2="67.58" y1="48.1" y2="48.1"/>
<line class="ds" x1="67.58" x2="67.58" y1="75.2" y2="48.1"/>
<text class="pv" x="22.5" y="66.7">p = 0.0094</text>
<text class="nr" x="15.4" y="92.8" textLength="27.6" lengthAdjust="spacingAndGlyphs">Number at risk</text>
<line class="gn" x1="28.23" x2="28.23" y1="95.3" y2="107.5"/><line class="gn" x1="44.27" x2="44.27" y1="95.3" y2="107.5"/><line class="gn" x1="60.32" x2="60.32" y1="95.3" y2="107.5"/><line class="gn" x1="76.38" x2="76.38" y1="95.3" y2="107.5"/><line class="gn" x1="92.43" x2="92.43" y1="95.3" y2="107.5"/><line class="gn" x1="108.47" x2="108.47" y1="95.3" y2="107.5"/><line class="gm" x1="20.2" x2="20.2" y1="95.3" y2="107.5"/><line class="gm" x1="36.25" x2="36.25" y1="95.3" y2="107.5"/><line class="gm" x1="52.3" x2="52.3" y1="95.3" y2="107.5"/><line class="gm" x1="68.35" x2="68.35" y1="95.3" y2="107.5"/><line class="gm" x1="84.4" x2="84.4" y1="95.3" y2="107.5"/><line class="gm" x1="100.45" x2="100.45" y1="95.3" y2="107.5"/><line class="gm" x1="116.5" x2="116.5" y1="95.3" y2="107.5"/><line class="gm" x1="15.5" x2="121.35" y1="98.5" y2="98.5"/><line class="gm" x1="15.5" x2="121.35" y1="104.2" y2="104.2"/>
<rect class="bd" x="15.5" y="95.3" width="105.85" height="12.2"/>
<text class="rr" x="20.2" y="99.8">113</text>
<text class="rc" x="20.2" y="105.5">173</text>
<text class="rr" x="36.25" y="99.8">41</text>
<text class="rc" x="36.25" y="105.5">69</text>
<text class="rr" x="52.3" y="99.8">15</text>
<text class="rc" x="52.3" y="105.5">32</text>
<text class="rr" x="68.35" y="99.8">4</text>
<text class="rc" x="68.35" y="105.5">8</text>
<text class="rr" x="84.4" y="99.8">0</text>
<text class="rc" x="84.4" y="105.5">1</text>
<text class="rr" x="100.45" y="99.8">0</text>
<text class="rc" x="100.45" y="105.5">1</text>
<text class="rr" x="116.5" y="99.8">0</text>
<text class="rc" x="116.5" y="105.5">0</text>
<line class="tk" x1="20.2" x2="20.2" y1="107.5" y2="108.6"/>
<text class="xt" x="20.2" y="110.9">0</text>
<line class="tk" x1="36.25" x2="36.25" y1="107.5" y2="108.6"/>
<text class="xt" x="36.25" y="110.9">1000</text>
<line class="tk" x1="52.3" x2="52.3" y1="107.5" y2="108.6"/>
<text class="xt" x="52.3" y="110.9">2000</text>
<line class="tk" x1="68.35" x2="68.35" y1="107.5" y2="108.6"/>
<text class="xt" x="68.35" y="110.9">3000</text>
<line class="tk" x1="84.4" x2="84.4" y1="107.5" y2="108.6"/>
<text class="xt" x="84.4" y="110.9">4000</text>
<line class="tk" x1="100.45" x2="100.45" y1="107.5" y2="108.6"/>
<text class="xt" x="100.45" y="110.9">5000</text>
<line class="tk" x1="116.5" x2="116.5" y1="107.5" y2="108.6"/>
<text class="xt" x="116.5" y="110.9">6000</text>
<text class="xl" x="68.83" y="115.0">Time (days)</text>
<text class="rs" transform="translate(3.7,101.0) rotate(-90)">Strata</text>
<line x1="5.6" x2="13.4" y1="96.9" y2="96.9" stroke="#F8766D" stroke-width="1.8"/>
<line x1="5.6" x2="13.4" y1="102.75" y2="102.75" stroke="#00BFC4" stroke-width="1.8"/>
</g>
<g transform="translate(586.6,121.12)">
<text class="t" transform="translate(15.5,4.15) scale(0.95,1)">LGG ARSI Survival</text>
<text class="ls" x="37.5" y="12">Strata</text>
<line x1="48.5" x2="52.7" y1="10.8" y2="10.8" stroke="#F8766D" stroke-width="1.4"/>
<text class="ll" x="54.8" y="11.9" textLength="19.5">gelgene=High</text>
<line x1="76.0" x2="80.4" y1="10.8" y2="10.8" stroke="#00BFC4" stroke-width="1.4"/>
<text class="ll" x="82.2" y="11.9" textLength="18.0">gelgene=Low</text>
<line class="gn" x1="36.25" x2="36.25" y1="18.3" y2="77.5"/><line class="gn" x1="68.35" x2="68.35" y1="18.3" y2="77.5"/><line class="gn" x1="100.45" x2="100.45" y1="18.3" y2="77.5"/><line class="gn" x1="15.5" x2="121.35" y1="68.43" y2="68.43"/><line class="gn" x1="15.5" x2="121.35" y1="54.88" y2="54.88"/><line class="gn" x1="15.5" x2="121.35" y1="41.33" y2="41.33"/><line class="gn" x1="15.5" x2="121.35" y1="27.77" y2="27.77"/><line class="gm" x1="20.2" x2="20.2" y1="18.3" y2="77.5"/><line class="gm" x1="52.3" x2="52.3" y1="18.3" y2="77.5"/><line class="gm" x1="84.4" x2="84.4" y1="18.3" y2="77.5"/><line class="gm" x1="116.5" x2="116.5" y1="18.3" y2="77.5"/><line class="gm" x1="15.5" x2="121.35" y1="75.2" y2="75.2"/><line class="gm" x1="15.5" x2="121.35" y1="61.65" y2="61.65"/><line class="gm" x1="15.5" x2="121.35" y1="48.1" y2="48.1"/><line class="gm" x1="15.5" x2="121.35" y1="34.55" y2="34.55"/><line class="gm" x1="15.5" x2="121.35" y1="21" y2="21"/>
<rect class="bd" x="15.5" y="18.3" width="105.85" height="59.2"/>
<line class="tk" x1="14.4" x2="15.5" y1="75.2" y2="75.2"/>
<text class="yt" x="14.2" y="76.2">0.00</text>
<line class="tk" x1="14.4" x2="15.5" y1="61.65" y2="61.65"/>
<text class="yt" x="14.2" y="62.65">0.25</text>
<line class="tk" x1="14.4" x2="15.5" y1="48.1" y2="48.1"/>
<text class="yt" x="14.2" y="49.1">0.50</text>
<line class="tk" x1="14.4" x2="15.5" y1="34.55" y2="34.55"/>
<text class="yt" x="14.2" y="35.55">0.75</text>
<line class="tk" x1="14.4" x2="15.5" y1="21" y2="21"/>
<text class="yt" x="14.2" y="22">1.00</text>
<text class="yl" transform="translate(3.4,46.9) rotate(-90)">Survival probability</text>
<line class="tk" x1="20.2" x2="20.2" y1="77.5" y2="78.6"/>
<text class="xt" x="20.2" y="81.85">0</text>
<line class="tk" x1="52.3" x2="52.3" y1="77.5" y2="78.6"/>
<text class="xt" x="52.3" y="81.85">2000</text>
<line class="tk" x1="84.4" x2="84.4" y1="77.5" y2="78.6"/>
<text class="xt" x="84.4" y="81.85">4000</text>
<line class="tk" x1="116.5" x2="116.5" y1="77.5" y2="78.6"/>
<text class="xt" x="116.5" y="81.85">6000</text>
<text class="xl" x="68.83" y="85.2">Time (days)</text>
<polyline class="cr" points="20.2,21 21.22,21 21.22,21.62 22.24,21.62 22.24,22.24 23.26,22.24 23.26,22.85 24.23,22.85 24.23,23.82 25.2,23.82 25.2,24.79 26.17,24.79 26.17,25.76 27.14,25.76 27.14,26.73 27.91,26.73 27.91,27.76 28.69,27.76 28.69,28.79 29.47,28.79 29.47,29.83 30.24,29.83 30.24,30.86 31.02,30.86 31.02,31.89 31.79,31.89 31.79,32.93 32.1,32.93 32.1,33.86 32.41,33.86 32.41,34.79 32.72,34.79 32.72,35.72 33.03,35.72 33.03,36.65 33.34,36.65 33.34,37.57 34.51,37.57 34.51,38.35 35.67,38.35 35.67,39.12 36.71,39.12 36.71,39.64 37.74,39.64 37.74,40.16 38.78,40.16 38.78,40.67 39.55,40.67 39.55,41.84 40.33,41.84 40.33,43 41.36,43 41.36,43.52 42.4,43.52 42.4,44.03 43.43,44.03 43.43,44.55 44.46,44.55 44.46,45.06 45.5,45.06 45.5,45.58 46.53,45.58 46.53,46.1 47.57,46.1 47.57,46.36 48.6,46.36 48.6,46.61 49.64,46.61 49.64,46.87 50.41,46.87 50.41,47.65 51.19,47.65 51.19,48.42 52.16,48.42 52.16,48.46 53.13,48.46 53.13,48.5 54.1,48.5 54.1,48.54 55.07,48.54 55.07,48.58 56.04,48.58 56.04,48.62 57.01,48.62 57.01,48.65 57.97,48.65 57.97,48.69 58.94,48.69 58.94,48.73 59.98,48.73 59.98,48.81 61.01,48.81 61.01,48.89 62.05,48.89 62.05,48.96 63.08,48.96 63.08,49.04 64.12,49.04 64.12,49.12 65.15,49.12 65.15,49.2 65.54,49.2 65.54,50.17 65.93,50.17 65.93,51.13 66.31,51.13 66.31,52.1 66.7,52.1 66.7,53.07 67.22,53.07 67.22,54 67.74,54 67.74,54.93 68.25,54.93 68.25,55.86 69.22,55.86 69.22,55.88 70.19,55.88 70.19,55.9 71.16,55.9 71.16,55.92 72.13,55.92 72.13,55.94 73.1,55.94 73.1,55.96 74.07,55.96 74.07,55.98 75.04,55.98 75.04,56 76.01,56 76.01,56.02 76.98,56.02 76.98,56.03 77.95,56.03 77.95,56.05 78.92,56.05 78.92,56.07 79.89,56.07 79.89,56.09 80.86,56.09 80.86,56.11 81.83,56.11 81.83,56.13 82.8,56.13 82.8,56.15 83.77,56.15 83.77,56.17 83.92,56.17 83.92,57.26 84.08,57.26 84.08,58.34 84.23,58.34 84.23,59.42 84.39,59.42 84.39,60.51 84.54,60.51 84.54,61.59 85.58,61.59 85.58,62.11 86.61,62.11 86.61,62.63 87.65,62.63 87.65,63.14 87.78,63.14 87.78,64.18 87.91,64.18 87.91,65.21 88.03,65.21 88.03,66.24 88.16,66.24 88.16,67.28 88.29,67.28 88.29,68.31 88.42,68.31 88.42,69.34 91.53,69.34 91.53,74.77"/>
<polyline class="cc" points="20.2,21 21.12,21 21.12,21.22 22.04,21.22 22.04,21.43 22.97,21.43 22.97,21.65 23.89,21.65 23.89,21.86 24.81,21.86 24.81,22.08 25.74,22.08 25.74,22.54 26.67,22.54 26.67,23.01 27.6,23.01 27.6,23.47 28.54,23.47 28.54,23.94 29.47,23.94 29.47,24.4 30.4,24.4 30.4,24.62 31.33,24.62 31.33,24.84 32.26,24.84 32.26,25.05 33.19,25.05 33.19,25.27 34.12,25.27 34.12,25.49 34.9,25.49 34.9,26.42 35.67,26.42 35.67,27.35 36.45,27.35 36.45,28.28 37.48,28.28 37.48,29.31 38.52,29.31 38.52,30.34 39.55,30.34 39.55,31.38 40.59,31.38 40.59,32.41 41.62,32.41 41.62,33.44 42.65,33.44 42.65,34.48 43.69,34.48 43.69,35.25 44.72,35.25 44.72,36.03 45.76,36.03 45.76,36.8 46.73,36.8 46.73,37.3 47.7,37.3 47.7,37.81 48.67,37.81 48.67,38.31 49.64,38.31 49.64,38.81 50.67,38.81 50.67,39.18 51.7,39.18 51.7,39.54 52.74,39.54 52.74,39.9 53.77,39.9 53.77,40.42 54.81,40.42 54.81,40.93 55.84,40.93 55.84,41.45 56.88,41.45 56.88,42.22 57.91,42.22 57.91,43 58.94,43 58.94,43.77 59.98,43.77 59.98,44.29 61.01,44.29 61.01,44.81 62.05,44.81 62.05,45.32 63.08,45.32 63.08,45.58 64.12,45.58 64.12,45.84 65.15,45.84 65.15,46.1 66.31,46.1 66.31,47.11 67.48,47.11 67.48,48.11 68.45,48.11 68.45,48.38 69.42,48.38 69.42,48.65 70.39,48.65 70.39,48.93 71.36,48.93 71.36,49.2 72.39,49.2 72.39,49.71 73.42,49.71 73.42,50.23 74.46,50.23 74.46,50.75 75.49,50.75 75.49,51.26 76.53,51.26 76.53,51.78 77.56,51.78 77.56,52.3 78.6,52.3 78.6,52.81 79.63,52.81 79.63,53.33 80.67,53.33 80.67,53.85 81.7,53.85 81.7,54.1 82.73,54.1 82.73,54.36 83.77,54.36 83.77,54.62 84.54,54.62 84.54,55.78 85.32,55.78 85.32,56.95 86.1,56.95 86.1,58.11 86.87,58.11 86.87,59.27 87.91,59.27 87.91,59.79 88.94,59.79 88.94,60.3 89.97,60.3 89.97,60.82 90.9,60.82 90.9,61.07 91.84,61.07 91.84,61.32 92.77,61.32 92.77,61.56 93.7,61.56 93.7,61.81 94.63,61.81 94.63,62.06 95.56,62.06 95.56,62.28 96.49,62.28 96.49,62.49 97.42,62.49 97.42,62.71 98.35,62.71 98.35,62.93 99.28,62.93 99.28,63.14 100.25,63.14 100.25,63.73 101.22,63.73 101.22,64.31 102.19,64.31 102.19,64.89 103.16,64.89 103.16,65.47 121,65.47"/>
<line class="ds" x1="20.2" x2="66.7" y1="48.1" y2="48.1"/>
<line class="ds" x1="50.88" x2="50.88" y1="75.2" y2="48.1"/>
<line class="ds" x1="66.7" x2="66.7" y1="75.2" y2="48.1"/>
<text class="pv" x="22.5" y="66.7">p = 0.00017</text>
<text class="nr" x="15.4" y="92.8" textLength="27.6" lengthAdjust="spacingAndGlyphs">Number at risk</text>
<line class="gn" x1="36.25" x2="36.25" y1="95.3" y2="107.5"/><line class="gn" x1="68.35" x2="68.35" y1="95.3" y2="107.5"/><line class="gn" x1="100.45" x2="100.45" y1="95.3" y2="107.5"/><line class="gm" x1="20.2" x2="20.2" y1="95.3" y2="107.5"/><line class="gm" x1="52.3" x2="52.3" y1="95.3" y2="107.5"/><line class="gm" x1="84.4" x2="84.4" y1="95.3" y2="107.5"/><line class="gm" x1="116.5" x2="116.5" y1="95.3" y2="107.5"/><line class="gm" x1="15.5" x2="121.35" y1="98.5" y2="98.5"/><line class="gm" x1="15.5" x2="121.35" y1="104.2" y2="104.2"/>
<rect class="bd" x="15.5" y="95.3" width="105.85" height="12.2"/>
<text class="rr" x="20.2" y="99.8">195</text>
<text class="rc" x="20.2" y="105.5">319</text>
<text class="rr" x="52.3" y="99.8">16</text>
<text class="rc" x="52.3" y="105.5">42</text>
<text class="rr" x="84.4" y="99.8">2</text>
<text class="rc" x="84.4" y="105.5">11</text>
<text class="rr" x="116.5" y="99.8">0</text>
<text class="rc" x="116.5" y="105.5">1</text>
<line class="tk" x1="20.2" x2="20.2" y1="107.5" y2="108.6"/>
<text class="xt" x="20.2" y="110.9">0</text>
<line class="tk" x1="52.3" x2="52.3" y1="107.5" y2="108.6"/>
<text class="xt" x="52.3" y="110.9">2000</text>
<line class="tk" x1="84.4" x2="84.4" y1="107.5" y2="108.6"/>
<text class="xt" x="84.4" y="110.9">4000</text>
<line class="tk" x1="116.5" x2="116.5" y1="107.5" y2="108.6"/>
<text class="xt" x="116.5" y="110.9">6000</text>
<text class="xl" x="68.83" y="115.0">Time (days)</text>
<text class="rs" transform="translate(3.7,101.0) rotate(-90)">Strata</text>
<line x1="5.6" x2="13.4" y1="96.9" y2="96.9" stroke="#F8766D" stroke-width="1.8"/>
<line x1="5.6" x2="13.4" y1="102.75" y2="102.75" stroke="#00BFC4" stroke-width="1.8"/>
</g>
<g transform="translate(0,242.24)">
<text class="t" transform="translate(15.5,4.15) scale(0.95,1)">LIHC ARSI Survival</text>
<text class="ls" x="37.5" y="12">Strata</text>
<line x1="48.5" x2="52.7" y1="10.8" y2="10.8" stroke="#F8766D" stroke-width="1.4"/>
<text class="ll" x="54.8" y="11.9" textLength="19.5">gelgene=High</text>
<line x1="76.0" x2="80.4" y1="10.8" y2="10.8" stroke="#00BFC4" stroke-width="1.4"/>
<text class="ll" x="82.2" y="11.9" textLength="18.0">gelgene=Low</text>
<line class="gn" x1="32.24" x2="32.24" y1="18.3" y2="77.5"/><line class="gn" x1="56.31" x2="56.31" y1="18.3" y2="77.5"/><line class="gn" x1="80.39" x2="80.39" y1="18.3" y2="77.5"/><line class="gn" x1="104.46" x2="104.46" y1="18.3" y2="77.5"/><line class="gn" x1="15.5" x2="121.35" y1="68.43" y2="68.43"/><line class="gn" x1="15.5" x2="121.35" y1="54.88" y2="54.88"/><line class="gn" x1="15.5" x2="121.35" y1="41.33" y2="41.33"/><line class="gn" x1="15.5" x2="121.35" y1="27.77" y2="27.77"/><line class="gm" x1="20.2" x2="20.2" y1="18.3" y2="77.5"/><line class="gm" x1="44.27" x2="44.27" y1="18.3" y2="77.5"/><line class="gm" x1="68.35" x2="68.35" y1="18.3" y2="77.5"/><line class="gm" x1="92.42" x2="92.42" y1="18.3" y2="77.5"/><line class="gm" x1="116.5" x2="116.5" y1="18.3" y2="77.5"/><line class="gm" x1="15.5" x2="121.35" y1="75.2" y2="75.2"/><line class="gm" x1="15.5" x2="121.35" y1="61.65" y2="61.65"/><line class="gm" x1="15.5" x2="121.35" y1="48.1" y2="48.1"/><line class="gm" x1="15.5" x2="121.35" y1="34.55" y2="34.55"/><line class="gm" x1="15.5" x2="121.35" y1="21" y2="21"/>
<rect class="bd" x="15.5" y="18.3" width="105.85" height="59.2"/>
<line class="tk" x1="14.4" x2="15.5" y1="75.2" y2="75.2"/>
<text class="yt" x="14.2" y="76.2">0.00</text>
<line class="tk" x1="14.4" x2="15.5" y1="61.65" y2="61.65"/>
<text class="yt" x="14.2" y="62.65">0.25</text>
<line class="tk" x1="14.4" x2="15.5" y1="48.1" y2="48.1"/>
<text class="yt" x="14.2" y="49.1">0.50</text>
<line class="tk" x1="14.4" x2="15.5" y1="34.55" y2="34.55"/>
<text class="yt" x="14.2" y="35.55">0.75</text>
<line class="tk" x1="14.4" x2="15.5" y1="21" y2="21"/>
<text class="yt" x="14.2" y="22">1.00</text>
<text class="yl" transform="translate(3.4,46.9) rotate(-90)">Survival probability</text>
<line class="tk" x1="20.2" x2="20.2" y1="77.5" y2="78.6"/>
<text class="xt" x="20.2" y="81.85">0</text>
<line class="tk" x1="44.27" x2="44.27" y1="77.5" y2="78.6"/>
<text class="xt" x="44.27" y="81.85">1000</text>
<line class="tk" x1="68.35" x2="68.35" y1="77.5" y2="78.6"/>
<text class="xt" x="68.35" y="81.85">2000</text>
<line class="tk" x1="92.42" x2="92.42" y1="77.5" y2="78.6"/>
<text class="xt" x="92.42" y="81.85">3000</text>
<line class="tk" x1="116.5" x2="116.5" y1="77.5" y2="78.6"/>
<text class="xt" x="116.5" y="81.85">4000</text>
<text class="xl" x="68.83" y="85.2">Time (days)</text>
<polyline class="cr" points="20.2,21 20.78,21 20.78,22.01 21.37,22.01 21.37,23.03 21.95,23.03 21.95,24.04 22.53,24.04 22.53,25.06 22.69,25.06 22.69,25.99 22.84,25.99 22.84,26.92 23,26.92 23,27.85 23.15,27.85 23.15,28.78 23.31,28.78 23.31,29.71 24.34,29.71 24.34,30.22 25.38,30.22 25.38,30.74 26.41,30.74 26.41,31.26 26.93,31.26 26.93,32.29 27.45,32.29 27.45,33.32 27.96,33.32 27.96,34.36 28.48,34.36 28.48,35.39 29,35.39 29,36.42 29.51,36.42 29.51,37.45 30.55,37.45 30.55,37.58 31.58,37.58 31.58,37.71 32.62,37.71 32.62,37.84 33.65,37.84 33.65,37.97 34.69,37.97 34.69,38.1 35.72,38.1 35.72,38.23 36.3,38.23 36.3,39.2 36.88,39.2 36.88,40.17 37.47,40.17 37.47,41.14 38.05,41.14 38.05,42.1 39.21,42.1 39.21,42.88 40.38,42.88 40.38,43.65 41.15,43.65 41.15,44.82 41.93,44.82 41.93,45.98 42.31,45.98 42.31,46.75 42.7,46.75 42.7,47.53 43.67,47.53 43.67,47.64 44.64,47.64 44.64,47.76 45.61,47.76 45.61,47.88 46.58,47.88 46.58,47.99 46.84,47.99 46.84,49.13 47.1,49.13 47.1,50.27 47.36,50.27 47.36,51.4 47.67,51.4 47.67,52.33 47.98,52.33 47.98,53.26 48.29,53.26 48.29,54.19 48.6,54.19 48.6,55.12 48.91,55.12 48.91,56.05 49.17,56.05 49.17,57.08 49.43,57.08 49.43,58.12 49.68,58.12 49.68,59.15 79.94,59.15 79.94,74.65"/>
<polyline class="cc" points="20.2,21 21.24,21 21.24,21.84 22.27,21.84 22.27,22.67 23.31,22.67 23.31,23.51 24.34,23.51 24.34,24.54 25.38,24.54 25.38,25.57 26.41,25.57 26.41,26.61 27.45,26.61 27.45,27.64 28.48,27.64 28.48,28.67 29.51,28.67 29.51,29.71 30.55,29.71 30.55,30.22 31.58,30.22 31.58,30.74 32.62,30.74 32.62,31.26 33.65,31.26 33.65,32.29 34.69,32.29 34.69,33.32 35.72,33.32 35.72,34.36 36.76,34.36 36.76,35.13 37.79,35.13 37.79,35.91 38.82,35.91 38.82,36.68 39.86,36.68 39.86,37.35 40.89,37.35 40.89,38.02 41.93,38.02 41.93,38.69 42.96,38.69 42.96,38.8 44,38.8 44,38.9 45.03,38.9 45.03,39 46.06,39 46.06,39.26 47.1,39.26 47.1,39.52 48.13,39.52 48.13,39.78 49.17,39.78 49.17,40.04 50.2,40.04 50.2,40.3 51.24,40.3 51.24,40.55 52.27,40.55 52.27,40.81 53.3,40.81 53.3,41.07 54.34,41.07 54.34,41.33 55.37,41.33 55.37,41.85 56.41,41.85 56.41,42.36 57.44,42.36 57.44,42.88 58.48,42.88 58.48,43.4 59.51,43.4 59.51,43.91 60.54,43.91 60.54,44.43 61.58,44.43 61.58,45.2 62.61,45.2 62.61,45.98 63.65,45.98 63.65,46.75 64.68,46.75 64.68,47.01 65.72,47.01 65.72,47.27 66.75,47.27 66.75,47.53 67.78,47.53 67.78,47.79 68.82,47.79 68.82,48.04 69.85,48.04 69.85,48.3 70.89,48.3 70.89,48.56 71.92,48.56 71.92,48.82 72.96,48.82 72.96,49.08 77.61,49.08 78.77,49.08 78.77,49.85 79.94,49.85 79.94,50.63 80.46,50.63 80.46,51.66 80.97,51.66 80.97,52.69 81.49,52.69 81.49,53.73 81.75,53.73 81.75,54.6 82.01,54.6 82.01,55.48 82.27,55.48 82.27,56.36 94.68,56.36 95.19,56.36 95.19,57.29 95.71,57.29 95.71,58.22 96.23,58.22 96.23,59.15 97.39,59.15 97.39,59.92 98.56,59.92 98.56,60.7 98.56,62.25 108.64,62.25"/>
<line class="ds" x1="20.2" x2="65.2" y1="48.1" y2="48.1"/>
<line class="ds" x1="47.36" x2="47.36" y1="75.2" y2="48.1"/>
<line class="ds" x1="65.2" x2="65.2" y1="75.2" y2="48.1"/>
<text class="pv" x="22.5" y="66.7">p = 0.013</text>
<text class="nr" x="15.4" y="92.8" textLength="27.6" lengthAdjust="spacingAndGlyphs">Number at risk</text>
<line class="gn" x1="32.24" x2="32.24" y1="95.3" y2="107.5"/><line class="gn" x1="56.31" x2="56.31" y1="95.3" y2="107.5"/><line class="gn" x1="80.39" x2="80.39" y1="95.3" y2="107.5"/><line class="gn" x1="104.46" x2="104.46" y1="95.3" y2="107.5"/><line class="gm" x1="20.2" x2="20.2" y1="95.3" y2="107.5"/><line class="gm" x1="44.27" x2="44.27" y1="95.3" y2="107.5"/><line class="gm" x1="68.35" x2="68.35" y1="95.3" y2="107.5"/><line class="gm" x1="92.42" x2="92.42" y1="95.3" y2="107.5"/><line class="gm" x1="116.5" x2="116.5" y1="95.3" y2="107.5"/><line class="gm" x1="15.5" x2="121.35" y1="98.5" y2="98.5"/><line class="gm" x1="15.5" x2="121.35" y1="104.2" y2="104.2"/>
<rect class="bd" x="15.5" y="95.3" width="105.85" height="12.2"/>
<text class="rr" x="20.2" y="99.8">37</text>
<text class="rc" x="20.2" y="105.5">328</text>
<text class="rr" x="44.27" y="99.8">6</text>
<text class="rc" x="44.27" y="105.5">95</text>
<text class="rr" x="68.35" y="99.8">1</text>
<text class="rc" x="68.35" y="105.5">34</text>
<text class="rr" x="92.42" y="99.8">0</text>
<text class="rc" x="92.42" y="105.5">6</text>
<text class="rr" x="116.5" y="99.8">0</text>
<text class="rc" x="116.5" y="105.5">0</text>
<line class="tk" x1="20.2" x2="20.2" y1="107.5" y2="108.6"/>
<text class="xt" x="20.2" y="110.9">0</text>
<line class="tk" x1="44.27" x2="44.27" y1="107.5" y2="108.6"/>
<text class="xt" x="44.27" y="110.9">1000</text>
<line class="tk" x1="68.35" x2="68.35" y1="107.5" y2="108.6"/>
<text class="xt" x="68.35" y="110.9">2000</text>
<line class="tk" x1="92.42" x2="92.42" y1="107.5" y2="108.6"/>
<text class="xt" x="92.42" y="110.9">3000</text>
<line class="tk" x1="116.5" x2="116.5" y1="107.5" y2="108.6"/>
<text class="xt" x="116.5" y="110.9">4000</text>
<text class="xl" x="68.83" y="115.0">Time (days)</text>
<text class="rs" transform="translate(3.7,101.0) rotate(-90)">Strata</text>
<line x1="5.6" x2="13.4" y1="96.9" y2="96.9" stroke="#F8766D" stroke-width="1.8"/>
<line x1="5.6" x2="13.4" y1="102.75" y2="102.75" stroke="#00BFC4" stroke-width="1.8"/>
</g>
<g transform="translate(146.65,242.24)">
<text class="t" transform="translate(15.5,4.15) scale(0.95,1)">LUAD ARSI Survival</text>
<text class="ls" x="37.5" y="12">Strata</text>
<line x1="48.5" x2="52.7" y1="10.8" y2="10.8" stroke="#F8766D" stroke-width="1.4"/>
<text class="ll" x="54.8" y="11.9" textLength="19.5">gelgene=High</text>
<line x1="76.0" x2="80.4" y1="10.8" y2="10.8" stroke="#00BFC4" stroke-width="1.4"/>
<text class="ll" x="82.2" y="11.9" textLength="18.0">gelgene=Low</text>
<line class="gn" x1="32.24" x2="32.24" y1="18.3" y2="77.5"/><line class="gn" x1="56.31" x2="56.31" y1="18.3" y2="77.5"/><line class="gn" x1="80.39" x2="80.39" y1="18.3" y2="77.5"/><line class="gn" x1="104.46" x2="104.46" y1="18.3" y2="77.5"/><line class="gn" x1="15.5" x2="121.35" y1="68.43" y2="68.43"/><line class="gn" x1="15.5" x2="121.35" y1="54.88" y2="54.88"/><line class="gn" x1="15.5" x2="121.35" y1="41.33" y2="41.33"/><line class="gn" x1="15.5" x2="121.35" y1="27.77" y2="27.77"/><line class="gm" x1="20.2" x2="20.2" y1="18.3" y2="77.5"/><line class="gm" x1="44.27" x2="44.27" y1="18.3" y2="77.5"/><line class="gm" x1="68.35" x2="68.35" y1="18.3" y2="77.5"/><line class="gm" x1="92.42" x2="92.42" y1="18.3" y2="77.5"/><line class="gm" x1="116.5" x2="116.5" y1="18.3" y2="77.5"/><line class="gm" x1="15.5" x2="121.35" y1="75.2" y2="75.2"/><line class="gm" x1="15.5" x2="121.35" y1="61.65" y2="61.65"/><line class="gm" x1="15.5" x2="121.35" y1="48.1" y2="48.1"/><line class="gm" x1="15.5" x2="121.35" y1="34.55" y2="34.55"/><line class="gm" x1="15.5" x2="121.35" y1="21" y2="21"/>
<rect class="bd" x="15.5" y="18.3" width="105.85" height="59.2"/>
<line class="tk" x1="14.4" x2="15.5" y1="75.2" y2="75.2"/>
<text class="yt" x="14.2" y="76.2">0.00</text>
<line class="tk" x1="14.4" x2="15.5" y1="61.65" y2="61.65"/>
<text class="yt" x="14.2" y="62.65">0.25</text>
<line class="tk" x1="14.4" x2="15.5" y1="48.1" y2="48.1"/>
<text class="yt" x="14.2" y="49.1">0.50</text>
<line class="tk" x1="14.4" x2="15.5" y1="34.55" y2="34.55"/>
<text class="yt" x="14.2" y="35.55">0.75</text>
<line class="tk" x1="14.4" x2="15.5" y1="21" y2="21"/>
<text class="yt" x="14.2" y="22">1.00</text>
<text class="yl" transform="translate(3.4,46.9) rotate(-90)">Survival probability</text>
<line class="tk" x1="20.2" x2="20.2" y1="77.5" y2="78.6"/>
<text class="xt" x="20.2" y="81.85">0</text>
<line class="tk" x1="44.27" x2="44.27" y1="77.5" y2="78.6"/>
<text class="xt" x="44.27" y="81.85">2000</text>
<line class="tk" x1="68.35" x2="68.35" y1="77.5" y2="78.6"/>
<text class="xt" x="68.35" y="81.85">4000</text>
<line class="tk" x1="92.42" x2="92.42" y1="77.5" y2="78.6"/>
<text class="xt" x="92.42" y="81.85">6000</text>
<line class="tk" x1="116.5" x2="116.5" y1="77.5" y2="78.6"/>
<text class="xt" x="116.5" y="81.85">8000</text>
<text class="xl" x="68.83" y="85.2">Time (days)</text>
<polyline class="cr" points="20.2,21 20.68,21 20.68,22.01 21.15,22.01 21.15,23.03 21.63,23.03 21.63,24.04 22.11,24.04 22.11,25.06 22.42,25.06 22.42,25.99 22.73,25.99 22.73,26.92 23.04,26.92 23.04,27.85 23.35,27.85 23.35,28.78 23.66,28.78 23.66,29.71 24.18,29.71 24.18,30.74 24.69,30.74 24.69,31.77 25.21,31.77 25.21,32.81 25.6,32.81 25.6,33.77 25.99,33.77 25.99,34.74 26.37,34.74 26.37,35.71 26.76,35.71 26.76,36.68 27.15,36.68 27.15,37.65 27.54,37.65 27.54,38.62 27.93,38.62 27.93,39.59 28.31,39.59 28.31,40.55 28.83,40.55 28.83,41.59 29.35,41.59 29.35,42.62 29.86,42.62 29.86,43.65 30.38,43.65 30.38,44.69 30.9,44.69 30.9,45.72 31.42,45.72 31.42,46.75 31.93,46.75 31.93,47.79 32.45,47.79 32.45,48.82 32.97,48.82 32.97,49.85 33.28,49.85 33.28,50.78 33.59,50.78 33.59,51.71 33.9,51.71 33.9,52.64 34.21,52.64 34.21,53.57 34.52,53.57 34.52,54.5 35.04,54.5 35.04,55.53 35.55,55.53 35.55,56.57 36.07,56.57 36.07,57.6 36.46,57.6 36.46,58.76 36.85,58.76 36.85,59.92 43.83,59.92 44.6,59.92 44.6,61.09 45.38,61.09 45.38,62.25 46.35,62.25 46.35,62.44 47.32,62.44 47.32,62.64 48.29,62.64 48.29,62.83 49.26,62.83 49.26,63.02 50.03,63.02 50.03,64.19 50.81,64.19 50.81,65.35 51.2,65.35 51.2,66.51 51.59,66.51 51.59,67.67 65.55,67.67"/>
<polyline class="cc" points="20.2,21 21.35,21 21.35,22.09 22.51,22.09 22.51,23.19 23.66,23.19 23.66,24.28 24.43,24.28 24.43,25.25 25.21,25.25 25.21,26.22 25.99,26.22 25.99,27.19 26.76,27.19 26.76,28.16 27.38,28.16 27.38,29.09 28,29.09 28,30.02 28.62,30.02 28.62,30.95 29.24,30.95 29.24,31.88 29.86,31.88 29.86,32.81 30.49,32.81 30.49,33.74 31.11,33.74 31.11,34.67 31.73,34.67 31.73,35.6 32.35,35.6 32.35,36.53 32.97,36.53 32.97,37.45 33.74,37.45 33.74,38.42 34.52,38.42 34.52,39.39 35.29,39.39 35.29,40.36 36.07,40.36 36.07,41.33 36.85,41.33 36.85,42.36 37.62,42.36 37.62,43.4 38.4,43.4 38.4,44.43 38.79,44.43 38.79,45.4 39.17,45.4 39.17,46.37 39.56,46.37 39.56,47.33 39.95,47.33 39.95,48.3 40.47,48.3 40.47,49.34 40.98,49.34 40.98,50.37 41.5,50.37 41.5,51.4 42.66,51.4 42.66,52.02 43.83,52.02 43.83,52.64 44.76,52.64 44.76,52.7 45.69,52.7 45.69,52.77 46.62,52.77 46.62,52.83 47.55,52.83 47.55,52.89 48.48,52.89 48.48,52.95 49.52,52.95 49.52,53.47 50.55,53.47 50.55,53.98 51.59,53.98 51.59,54.5 52.62,54.5 52.62,55.12 53.65,55.12 53.65,55.74 54.69,55.74 54.69,56.36 55.62,56.36 55.62,56.61 56.55,56.61 56.55,56.86 57.48,56.86 57.48,57.1 58.41,57.1 58.41,57.35 59.34,57.35 59.34,57.6 60.12,57.6 60.12,58.53 60.89,58.53 60.89,59.46 80.29,59.46 80.29,62.25 107.44,62.25"/>
<line class="ds" x1="20.2" x2="38.86" y1="48.1" y2="48.1"/>
<line class="ds" x1="31.73" x2="31.73" y1="75.2" y2="48.1"/>
<line class="ds" x1="38.86" x2="38.86" y1="75.2" y2="48.1"/>
<text class="pv" x="22.5" y="66.7">p = 0.00048</text>
<text class="nr" x="15.4" y="92.8" textLength="27.6" lengthAdjust="spacingAndGlyphs">Number at risk</text>
<line class="gn" x1="32.24" x2="32.24" y1="95.3" y2="107.5"/><line class="gn" x1="56.31" x2="56.31" y1="95.3" y2="107.5"/><line class="gn" x1="80.39" x2="80.39" y1="95.3" y2="107.5"/><line class="gn" x1="104.46" x2="104.46" y1="95.3" y2="107.5"/><line class="gm" x1="20.2" x2="20.2" y1="95.3" y2="107.5"/><line class="gm" x1="44.27" x2="44.27" y1="95.3" y2="107.5"/><line class="gm" x1="68.35" x2="68.35" y1="95.3" y2="107.5"/><line class="gm" x1="92.42" x2="92.42" y1="95.3" y2="107.5"/><line class="gm" x1="116.5" x2="116.5" y1="95.3" y2="107.5"/><line class="gm" x1="15.5" x2="121.35" y1="98.5" y2="98.5"/><line class="gm" x1="15.5" x2="121.35" y1="104.2" y2="104.2"/>
<rect class="bd" x="15.5" y="95.3" width="105.85" height="12.2"/>
<text class="rr" x="20.2" y="99.8">73</text>
<text class="rc" x="20.2" y="105.5">429</text>
<text class="rr" x="44.27" y="99.8">7</text>
<text class="rc" x="44.27" y="105.5">37</text>
<text class="rr" x="68.35" y="99.8">0</text>
<text class="rc" x="68.35" y="105.5">6</text>
<text class="rr" x="92.42" y="99.8">0</text>
<text class="rc" x="92.42" y="105.5">2</text>
<text class="rr" x="116.5" y="99.8">0</text>
<text class="rc" x="116.5" y="105.5">0</text>
<line class="tk" x1="20.2" x2="20.2" y1="107.5" y2="108.6"/>
<text class="xt" x="20.2" y="110.9">0</text>
<line class="tk" x1="44.27" x2="44.27" y1="107.5" y2="108.6"/>
<text class="xt" x="44.27" y="110.9">2000</text>
<line class="tk" x1="68.35" x2="68.35" y1="107.5" y2="108.6"/>
<text class="xt" x="68.35" y="110.9">4000</text>
<line class="tk" x1="92.42" x2="92.42" y1="107.5" y2="108.6"/>
<text class="xt" x="92.42" y="110.9">6000</text>
<line class="tk" x1="116.5" x2="116.5" y1="107.5" y2="108.6"/>
<text class="xt" x="116.5" y="110.9">8000</text>
<text class="xl" x="68.83" y="115.0">Time (days)</text>
<text class="rs" transform="translate(3.7,101.0) rotate(-90)">Strata</text>
<line x1="5.6" x2="13.4" y1="96.9" y2="96.9" stroke="#F8766D" stroke-width="1.8"/>
<line x1="5.6" x2="13.4" y1="102.75" y2="102.75" stroke="#00BFC4" stroke-width="1.8"/>
</g>
<g transform="translate(293.3,242.24)">
<text class="t" transform="translate(15.5,4.15) scale(0.95,1)">LUSC ARSI Survival</text>
<text class="ls" x="37.5" y="12">Strata</text>
<line x1="48.5" x2="52.7" y1="10.8" y2="10.8" stroke="#F8766D" stroke-width="1.4"/>
<text class="ll" x="54.8" y="11.9" textLength="19.5">gelgene=High</text>
<line x1="76.0" x2="80.4" y1="10.8" y2="10.8" stroke="#00BFC4" stroke-width="1.4"/>
<text class="ll" x="82.2" y="11.9" textLength="18.0">gelgene=Low</text>
<line class="gn" x1="29.83" x2="29.83" y1="18.3" y2="77.5"/><line class="gn" x1="49.09" x2="49.09" y1="18.3" y2="77.5"/><line class="gn" x1="68.35" x2="68.35" y1="18.3" y2="77.5"/><line class="gn" x1="87.61" x2="87.61" y1="18.3" y2="77.5"/><line class="gn" x1="106.87" x2="106.87" y1="18.3" y2="77.5"/><line class="gn" x1="15.5" x2="121.35" y1="68.43" y2="68.43"/><line class="gn" x1="15.5" x2="121.35" y1="54.88" y2="54.88"/><line class="gn" x1="15.5" x2="121.35" y1="41.33" y2="41.33"/><line class="gn" x1="15.5" x2="121.35" y1="27.77" y2="27.77"/><line class="gm" x1="20.2" x2="20.2" y1="18.3" y2="77.5"/><line class="gm" x1="39.46" x2="39.46" y1="18.3" y2="77.5"/><line class="gm" x1="58.72" x2="58.72" y1="18.3" y2="77.5"/><line class="gm" x1="77.98" x2="77.98" y1="18.3" y2="77.5"/><line class="gm" x1="97.24" x2="97.24" y1="18.3" y2="77.5"/><line class="gm" x1="116.5" x2="116.5" y1="18.3" y2="77.5"/><line class="gm" x1="15.5" x2="121.35" y1="75.2" y2="75.2"/><line class="gm" x1="15.5" x2="121.35" y1="61.65" y2="61.65"/><line class="gm" x1="15.5" x2="121.35" y1="48.1" y2="48.1"/><line class="gm" x1="15.5" x2="121.35" y1="34.55" y2="34.55"/><line class="gm" x1="15.5" x2="121.35" y1="21" y2="21"/>
<rect class="bd" x="15.5" y="18.3" width="105.85" height="59.2"/>
<line class="tk" x1="14.4" x2="15.5" y1="75.2" y2="75.2"/>
<text class="yt" x="14.2" y="76.2">0.00</text>
<line class="tk" x1="14.4" x2="15.5" y1="61.65" y2="61.65"/>
<text class="yt" x="14.2" y="62.65">0.25</text>
<line class="tk" x1="14.4" x2="15.5" y1="48.1" y2="48.1"/>
<text class="yt" x="14.2" y="49.1">0.50</text>
<line class="tk" x1="14.4" x2="15.5" y1="34.55" y2="34.55"/>
<text class="yt" x="14.2" y="35.55">0.75</text>
<line class="tk" x1="14.4" x2="15.5" y1="21" y2="21"/>
<text class="yt" x="14.2" y="22">1.00</text>
<text class="yl" transform="translate(3.4,46.9) rotate(-90)">Survival probability</text>
<line class="tk" x1="20.2" x2="20.2" y1="77.5" y2="78.6"/>
<text class="xt" x="20.2" y="81.85">0</text>
<line class="tk" x1="39.46" x2="39.46" y1="77.5" y2="78.6"/>
<text class="xt" x="39.46" y="81.85">1000</text>
<line class="tk" x1="58.72" x2="58.72" y1="77.5" y2="78.6"/>
<text class="xt" x="58.72" y="81.85">2000</text>
<line class="tk" x1="77.98" x2="77.98" y1="77.5" y2="78.6"/>
<text class="xt" x="77.98" y="81.85">3000</text>
<line class="tk" x1="97.24" x2="97.24" y1="77.5" y2="78.6"/>
<text class="xt" x="97.24" y="81.85">4000</text>
<line class="tk" x1="116.5" x2="116.5" y1="77.5" y2="78.6"/>
<text class="xt" x="116.5" y="81.85">5000</text>
<text class="xl" x="68.83" y="85.2">Time (days)</text>
<polyline class="cr" points="20.2,21 20.9,21 20.9,22.01 21.6,22.01 21.6,23.03 22.31,23.03 22.31,24.04 23.01,24.04 23.01,25.06 23.78,25.06 23.78,26.03 24.56,26.03 24.56,26.99 25.34,26.99 25.34,27.96 26.11,27.96 26.11,28.93 26.89,28.93 26.89,29.9 27.66,29.9 27.66,30.87 28.44,30.87 28.44,31.84 29.21,31.84 29.21,32.81 30.25,32.81 30.25,33.58 31.28,33.58 31.28,34.36 32.32,34.36 32.32,35.13 33.35,35.13 33.35,35.91 34.39,35.91 34.39,36.68 35.42,36.68 35.42,37.45 36.46,37.45 36.46,38.49 37.49,38.49 37.49,39.52 38.52,39.52 38.52,40.55 39.14,40.55 39.14,41.48 39.76,41.48 39.76,42.41 40.39,42.41 40.39,43.34 41.01,43.34 41.01,44.27 41.63,44.27 41.63,45.2 42.79,45.2 42.79,46.37 43.95,46.37 43.95,47.53 44.99,47.53 44.99,48.04 46.02,48.04 46.02,48.56 47.06,48.56 47.06,49.08 48.03,49.08 48.03,49.35 49,49.35 49,49.62 49.97,49.62 49.97,49.89 50.94,49.89 50.94,50.16 51.87,50.16 51.87,50.56 52.8,50.56 52.8,50.97 53.73,50.97 53.73,51.37 54.66,51.37 54.66,51.77 55.59,51.77 55.59,52.18 56.52,52.18 56.52,52.64 57.45,52.64 57.45,53.11 58.38,53.11 58.38,53.57 59.31,53.57 59.31,54.04 60.24,54.04 60.24,54.5 61.28,54.5 61.28,54.91 62.31,54.91 62.31,55.33 63.35,55.33 63.35,55.74 64.28,55.74 64.28,55.96 65.21,55.96 65.21,56.17 66.14,56.17 66.14,56.39 67.07,56.39 67.07,56.61 68,56.61 68,56.83 68.93,56.83 68.93,57.23 69.86,57.23 69.86,57.63 70.79,57.63 70.79,58.03 71.73,58.03 71.73,58.44 72.66,58.44 72.66,58.84 73.59,58.84 73.59,59.21 74.52,59.21 74.52,59.58 75.45,59.58 75.45,59.96 76.38,59.96 76.38,60.33 77.31,60.33 77.31,60.7 78.24,60.7 78.24,61.01 79.17,61.01 79.17,61.32 80.1,61.32 80.1,61.63 81.03,61.63 81.03,61.94 81.97,61.94 81.97,62.25 82.93,62.25 82.93,62.83 83.9,62.83 83.9,63.41 84.87,63.41 84.87,63.99 85.84,63.99 85.84,64.57 86.79,64.57 86.79,64.63 87.74,64.63 87.74,64.68 88.69,64.68 88.69,64.73 89.64,64.73 89.64,64.78 90.58,64.78 90.58,64.83 91.53,64.83 91.53,64.88 92.48,64.88 92.48,64.94 93.43,64.94 93.43,64.99 94.38,64.99 94.38,65.04 95.41,65.04 95.41,65.25 96.45,65.25 96.45,65.45 97.48,65.45 97.48,65.66 108.34,65.66 108.34,69.22 120.75,69.22"/>
<polyline class="cc" points="20.2,21 21.14,21 21.14,21.32 22.07,21.32 22.07,21.64 23.01,21.64 23.01,21.96 23.63,21.96 23.63,22.89 24.25,22.89 24.25,23.82 24.87,23.82 24.87,24.75 25.49,24.75 25.49,25.68 26.11,25.68 26.11,26.61 27.15,26.61 27.15,27.64 28.18,27.64 28.18,28.67 29.21,28.67 29.21,29.71 30.25,29.71 30.25,30.74 31.28,30.74 31.28,31.77 32.32,31.77 32.32,32.81 33.25,32.81 33.25,33.27 34.18,33.27 34.18,33.74 35.11,33.74 35.11,34.2 36.04,34.2 36.04,34.67 36.97,34.67 36.97,35.13 37.9,35.13 37.9,35.44 38.83,35.44 38.83,35.75 39.76,35.75 39.76,36.06 40.7,36.06 40.7,36.37 41.63,36.37 41.63,36.68 42.56,36.68 42.56,36.99 43.49,36.99 43.49,37.3 44.42,37.3 44.42,37.61 45.35,37.61 45.35,37.92 46.28,37.92 46.28,38.23 47.21,38.23 47.21,38.54 48.14,38.54 48.14,38.85 49.07,38.85 49.07,39.16 50,39.16 50,39.47 50.94,39.47 50.94,39.78 51.71,39.78 51.71,40.94 52.49,40.94 52.49,42.1 53.52,42.1 53.52,42.62 54.56,42.62 54.56,43.14 55.59,43.14 55.59,43.65 56.62,43.65 56.62,44.17 57.66,44.17 57.66,44.69 58.69,44.69 58.69,45.2 59.86,45.2 59.86,45.59 61.02,45.59 61.02,45.98 62.18,45.98 62.18,47.14 63.35,47.14 63.35,48.3 64.51,48.3 64.51,49.46 65.67,49.46 65.67,50.63 66.45,50.63 66.45,51.4 67.23,51.4 67.23,52.18 89.72,52.18 89.72,55.28 90.65,55.28 90.65,55.37 91.58,55.37 91.58,55.46 92.52,55.46 92.52,55.55 93.45,55.55 93.45,55.65 94.38,55.65 94.38,55.74 94.69,55.74 94.69,56.73 95,56.73 95,57.72 95.31,57.72 95.31,58.72 95.62,58.72 95.62,59.71 95.93,59.71 95.93,60.7 111.44,60.7"/>
<line class="ds" x1="20.2" x2="63.04" y1="48.1" y2="48.1"/>
<line class="ds" x1="45.51" x2="45.51" y1="75.2" y2="48.1"/>
<line class="ds" x1="63.04" x2="63.04" y1="75.2" y2="48.1"/>
<text class="pv" x="22.5" y="66.7">p = 0.0073</text>
<text class="nr" x="15.4" y="92.8" textLength="27.6" lengthAdjust="spacingAndGlyphs">Number at risk</text>
<line class="gn" x1="29.83" x2="29.83" y1="95.3" y2="107.5"/><line class="gn" x1="49.09" x2="49.09" y1="95.3" y2="107.5"/><line class="gn" x1="68.35" x2="68.35" y1="95.3" y2="107.5"/><line class="gn" x1="87.61" x2="87.61" y1="95.3" y2="107.5"/><line class="gn" x1="106.87" x2="106.87" y1="95.3" y2="107.5"/><line class="gm" x1="20.2" x2="20.2" y1="95.3" y2="107.5"/><line class="gm" x1="39.46" x2="39.46" y1="95.3" y2="107.5"/><line class="gm" x1="58.72" x2="58.72" y1="95.3" y2="107.5"/><line class="gm" x1="77.98" x2="77.98" y1="95.3" y2="107.5"/><line class="gm" x1="97.24" x2="97.24" y1="95.3" y2="107.5"/><line class="gm" x1="116.5" x2="116.5" y1="95.3" y2="107.5"/><line class="gm" x1="15.5" x2="121.35" y1="98.5" y2="98.5"/><line class="gm" x1="15.5" x2="121.35" y1="104.2" y2="104.2"/>
<rect class="bd" x="15.5" y="95.3" width="105.85" height="12.2"/>
<text class="rr" x="20.2" y="99.8">361</text>
<text class="rc" x="20.2" y="105.5">130</text>
<text class="rr" x="39.46" y="99.8">151</text>
<text class="rc" x="39.46" y="105.5">56</text>
<text class="rr" x="58.72" y="99.8">42</text>
<text class="rc" x="58.72" y="105.5">24</text>
<text class="rr" x="77.98" y="99.8">17</text>
<text class="rc" x="77.98" y="105.5">9</text>
<text class="rr" x="97.24" y="99.8">6</text>
<text class="rc" x="97.24" y="105.5">3</text>
<text class="rr" x="116.5" y="99.8">1</text>
<text class="rc" x="116.5" y="105.5">0</text>
<line class="tk" x1="20.2" x2="20.2" y1="107.5" y2="108.6"/>
<text class="xt" x="20.2" y="110.9">0</text>
<line class="tk" x1="39.46" x2="39.46" y1="107.5" y2="108.6"/>
<text class="xt" x="39.46" y="110.9">1000</text>
<line class="tk" x1="58.72" x2="58.72" y1="107.5" y2="108.6"/>
<text class="xt" x="58.72" y="110.9">2000</text>
<line class="tk" x1="77.98" x2="77.98" y1="107.5" y2="108.6"/>
<text class="xt" x="77.98" y="110.9">3000</text>
<line class="tk" x1="97.24" x2="97.24" y1="107.5" y2="108.6"/>
<text class="xt" x="97.24" y="110.9">4000</text>
<line class="tk" x1="116.5" x2="116.5" y1="107.5" y2="108.6"/>
<text class="xt" x="116.5" y="110.9">5000</text>
<text class="xl" x="68.83" y="115.0">Time (days)</text>
<text class="rs" transform="translate(3.7,101.0) rotate(-90)">Strata</text>
<line x1="5.6" x2="13.4" y1="96.9" y2="96.9" stroke="#F8766D" stroke-width="1.8"/>
<line x1="5.6" x2="13.4" y1="102.75" y2="102.75" stroke="#00BFC4" stroke-width="1.8"/>
</g>
<g transform="translate(439.95,242.24)">
<text class="t" transform="translate(15.5,4.15) scale(0.95,1)">MESO ARSI Survival</text>
<text class="ls" x="37.5" y="12">Strata</text>
<line x1="48.5" x2="52.7" y1="10.8" y2="10.8" stroke="#F8766D" stroke-width="1.4"/>
<text class="ll" x="54.8" y="11.9" textLength="19.5">gelgene=High</text>
<line x1="76.0" x2="80.4" y1="10.8" y2="10.8" stroke="#00BFC4" stroke-width="1.4"/>
<text class="ll" x="82.2" y="11.9" textLength="18.0">gelgene=Low</text>
<line class="gn" x1="36.25" x2="36.25" y1="18.3" y2="77.5"/><line class="gn" x1="68.35" x2="68.35" y1="18.3" y2="77.5"/><line class="gn" x1="100.45" x2="100.45" y1="18.3" y2="77.5"/><line class="gn" x1="15.5" x2="121.35" y1="68.43" y2="68.43"/><line class="gn" x1="15.5" x2="121.35" y1="54.88" y2="54.88"/><line class="gn" x1="15.5" x2="121.35" y1="41.33" y2="41.33"/><line class="gn" x1="15.5" x2="121.35" y1="27.77" y2="27.77"/><line class="gm" x1="20.2" x2="20.2" y1="18.3" y2="77.5"/><line class="gm" x1="52.3" x2="52.3" y1="18.3" y2="77.5"/><line class="gm" x1="84.4" x2="84.4" y1="18.3" y2="77.5"/><line class="gm" x1="116.5" x2="116.5" y1="18.3" y2="77.5"/><line class="gm" x1="15.5" x2="121.35" y1="75.2" y2="75.2"/><line class="gm" x1="15.5" x2="121.35" y1="61.65" y2="61.65"/><line class="gm" x1="15.5" x2="121.35" y1="48.1" y2="48.1"/><line class="gm" x1="15.5" x2="121.35" y1="34.55" y2="34.55"/><line class="gm" x1="15.5" x2="121.35" y1="21" y2="21"/>
<rect class="bd" x="15.5" y="18.3" width="105.85" height="59.2"/>
<line class="tk" x1="14.4" x2="15.5" y1="75.2" y2="75.2"/>
<text class="yt" x="14.2" y="76.2">0.00</text>
<line class="tk" x1="14.4" x2="15.5" y1="61.65" y2="61.65"/>
<text class="yt" x="14.2" y="62.65">0.25</text>
<line class="tk" x1="14.4" x2="15.5" y1="48.1" y2="48.1"/>
<text class="yt" x="14.2" y="49.1">0.50</text>
<line class="tk" x1="14.4" x2="15.5" y1="34.55" y2="34.55"/>
<text class="yt" x="14.2" y="35.55">0.75</text>
<line class="tk" x1="14.4" x2="15.5" y1="21" y2="21"/>
<text class="yt" x="14.2" y="22">1.00</text>
<text class="yl" transform="translate(3.4,46.9) rotate(-90)">Survival probability</text>
<line class="tk" x1="20.2" x2="20.2" y1="77.5" y2="78.6"/>
<text class="xt" x="20.2" y="81.85">0</text>
<line class="tk" x1="52.3" x2="52.3" y1="77.5" y2="78.6"/>
<text class="xt" x="52.3" y="81.85">1000</text>
<line class="tk" x1="84.4" x2="84.4" y1="77.5" y2="78.6"/>
<text class="xt" x="84.4" y="81.85">2000</text>
<line class="tk" x1="116.5" x2="116.5" y1="77.5" y2="78.6"/>
<text class="xt" x="116.5" y="81.85">3000</text>
<text class="xl" x="68.83" y="85.2">Time (days)</text>
<polyline class="cr" points="20.2,21 20.8,21 20.8,22.01 21.39,22.01 21.39,23.03 21.99,23.03 21.99,24.04 22.58,24.04 22.58,25.06 23.16,25.06 23.16,26.03 23.75,26.03 23.75,26.99 24.33,26.99 24.33,27.96 24.91,27.96 24.91,28.93 25.49,28.93 25.49,29.9 26.07,29.9 26.07,30.87 26.66,30.87 26.66,31.84 27.24,31.84 27.24,32.81 27.82,32.81 27.82,33.77 28.4,33.77 28.4,34.74 28.98,34.74 28.98,35.71 29.56,35.71 29.56,36.68 29.95,36.68 29.95,37.65 30.34,37.65 30.34,38.62 30.73,38.62 30.73,39.59 31.12,39.59 31.12,40.55 31.63,40.55 31.63,41.59 32.15,41.59 32.15,42.62 32.67,42.62 32.67,43.65 33.06,43.65 33.06,44.62 33.44,44.62 33.44,45.59 33.83,45.59 33.83,46.56 34.22,46.56 34.22,47.53 34.74,47.53 34.74,48.56 35.25,48.56 35.25,49.59 35.77,49.59 35.77,50.63 36.55,50.63 36.55,51.79 37.32,51.79 37.32,52.95 37.84,52.95 37.84,53.88 38.36,53.88 38.36,54.81 38.87,54.81 38.87,55.74 39.91,55.74 39.91,56.36 40.94,56.36 40.94,56.98 41.98,56.98 41.98,57.6 42.49,57.6 42.49,58.63 43.01,58.63 43.01,59.67 43.53,59.67 43.53,60.7 44.3,60.7 44.3,61.86 45.08,61.86 45.08,63.02 45.86,63.02 45.86,64.06 46.63,64.06 46.63,65.09 47.41,65.09 47.41,66.12 47.92,66.12 47.92,67.16 48.44,67.16 48.44,68.19 48.96,68.19 48.96,69.22 50.12,69.22 50.12,69.61 51.29,69.61 51.29,70 52.22,70 52.22,70.15 53.15,70.15 53.15,70.31 54.08,70.31 54.08,70.46 55.01,70.46 55.01,70.62 55.94,70.62 55.94,70.77 56.97,70.77 56.97,71.29 58.01,71.29 58.01,71.81 59.04,71.81 59.04,72.32 60.08,72.32 60.08,72.99 61.11,72.99 61.11,73.66 62.15,73.66 62.15,74.34 86.97,74.34"/>
<polyline class="cc" points="20.2,21 24.91,20.72 25.17,20.72 25.17,21.65 25.43,21.65 25.43,22.58 25.69,22.58 25.69,23.51 26.72,23.51 26.72,23.77 27.75,23.77 27.75,24.02 28.79,24.02 28.79,24.28 28.79,26.61 33.44,26.61 33.6,26.61 33.6,27.54 33.75,27.54 33.75,28.47 33.91,28.47 33.91,29.4 34.06,29.4 34.06,30.33 34.22,30.33 34.22,31.26 38.87,31.26 39.03,31.26 39.03,32.19 39.18,32.19 39.18,33.12 39.34,33.12 39.34,34.05 39.49,34.05 39.49,34.98 39.65,34.98 39.65,35.91 42.75,35.91 42.91,35.91 42.91,36.84 43.06,36.84 43.06,37.76 43.22,37.76 43.22,38.69 43.37,38.69 43.37,39.62 43.53,39.62 43.53,40.55 44.46,40.55 44.46,40.81 45.39,40.81 45.39,41.07 46.32,41.07 46.32,41.33 46.68,41.33 46.68,42.36 47.04,42.36 47.04,43.4 47.41,43.4 47.41,44.43 48.57,44.43 48.57,44.97 49.73,44.97 49.73,45.51 50.51,45.51 50.51,46.75 51.29,46.75 51.29,47.99 73.78,47.99 73.94,47.99 73.94,48.98 74.09,48.98 74.09,49.98 74.25,49.98 74.25,50.97 74.4,50.97 74.4,51.96 74.56,51.96 74.56,52.95 74.75,52.95 74.75,54.04 74.95,54.04 74.95,55.12 75.14,55.12 75.14,56.21 75.33,56.21 75.33,57.29 99.38,57.29 99.38,66.12 110.24,66.12 110.24,74.65"/>
<line class="ds" x1="20.2" x2="50.82" y1="48.1" y2="48.1"/>
<line class="ds" x1="34.68" x2="34.68" y1="75.2" y2="48.1"/>
<line class="ds" x1="50.82" x2="50.82" y1="75.2" y2="48.1"/>
<text class="pv" x="22.5" y="66.7">p < 0.0001</text>
<text class="nr" x="15.4" y="92.8" textLength="27.6" lengthAdjust="spacingAndGlyphs">Number at risk</text>
<line class="gn" x1="36.25" x2="36.25" y1="95.3" y2="107.5"/><line class="gn" x1="68.35" x2="68.35" y1="95.3" y2="107.5"/><line class="gn" x1="100.45" x2="100.45" y1="95.3" y2="107.5"/><line class="gm" x1="20.2" x2="20.2" y1="95.3" y2="107.5"/><line class="gm" x1="52.3" x2="52.3" y1="95.3" y2="107.5"/><line class="gm" x1="84.4" x2="84.4" y1="95.3" y2="107.5"/><line class="gm" x1="116.5" x2="116.5" y1="95.3" y2="107.5"/><line class="gm" x1="15.5" x2="121.35" y1="98.5" y2="98.5"/><line class="gm" x1="15.5" x2="121.35" y1="104.2" y2="104.2"/>
<rect class="bd" x="15.5" y="95.3" width="105.85" height="12.2"/>
<text class="rr" x="20.2" y="99.8">59</text>
<text class="rc" x="20.2" y="105.5">25</text>
<text class="rr" x="52.3" y="99.8">4</text>
<text class="rc" x="52.3" y="105.5">10</text>
<text class="rr" x="84.4" y="99.8">1</text>
<text class="rc" x="84.4" y="105.5">3</text>
<text class="rr" x="116.5" y="99.8">0</text>
<text class="rc" x="116.5" y="105.5">0</text>
<line class="tk" x1="20.2" x2="20.2" y1="107.5" y2="108.6"/>
<text class="xt" x="20.2" y="110.9">0</text>
<line class="tk" x1="52.3" x2="52.3" y1="107.5" y2="108.6"/>
<text class="xt" x="52.3" y="110.9">1000</text>
<line class="tk" x1="84.4" x2="84.4" y1="107.5" y2="108.6"/>
<text class="xt" x="84.4" y="110.9">2000</text>
<line class="tk" x1="116.5" x2="116.5" y1="107.5" y2="108.6"/>
<text class="xt" x="116.5" y="110.9">3000</text>
<text class="xl" x="68.83" y="115.0">Time (days)</text>
<text class="rs" transform="translate(3.7,101.0) rotate(-90)">Strata</text>
<line x1="5.6" x2="13.4" y1="96.9" y2="96.9" stroke="#F8766D" stroke-width="1.8"/>
<line x1="5.6" x2="13.4" y1="102.75" y2="102.75" stroke="#00BFC4" stroke-width="1.8"/>
</g>
<g transform="translate(586.6,242.24)">
<text class="t" transform="translate(15.5,4.15) scale(0.95,1)">OV ARSI Survival</text>
<text class="ls" x="37.5" y="12">Strata</text>
<line x1="48.5" x2="52.7" y1="10.8" y2="10.8" stroke="#F8766D" stroke-width="1.4"/>
<text class="ll" x="54.8" y="11.9" textLength="19.5">gelgene=High</text>
<line x1="76.0" x2="80.4" y1="10.8" y2="10.8" stroke="#00BFC4" stroke-width="1.4"/>
<text class="ll" x="82.2" y="11.9" textLength="18.0">gelgene=Low</text>
<line class="gn" x1="29.83" x2="29.83" y1="18.3" y2="77.5"/><line class="gn" x1="49.09" x2="49.09" y1="18.3" y2="77.5"/><line class="gn" x1="68.35" x2="68.35" y1="18.3" y2="77.5"/><line class="gn" x1="87.61" x2="87.61" y1="18.3" y2="77.5"/><line class="gn" x1="106.87" x2="106.87" y1="18.3" y2="77.5"/><line class="gn" x1="15.5" x2="121.35" y1="68.43" y2="68.43"/><line class="gn" x1="15.5" x2="121.35" y1="54.88" y2="54.88"/><line class="gn" x1="15.5" x2="121.35" y1="41.33" y2="41.33"/><line class="gn" x1="15.5" x2="121.35" y1="27.77" y2="27.77"/><line class="gm" x1="20.2" x2="20.2" y1="18.3" y2="77.5"/><line class="gm" x1="39.46" x2="39.46" y1="18.3" y2="77.5"/><line class="gm" x1="58.72" x2="58.72" y1="18.3" y2="77.5"/><line class="gm" x1="77.98" x2="77.98" y1="18.3" y2="77.5"/><line class="gm" x1="97.24" x2="97.24" y1="18.3" y2="77.5"/><line class="gm" x1="116.5" x2="116.5" y1="18.3" y2="77.5"/><line class="gm" x1="15.5" x2="121.35" y1="75.2" y2="75.2"/><line class="gm" x1="15.5" x2="121.35" y1="61.65" y2="61.65"/><line class="gm" x1="15.5" x2="121.35" y1="48.1" y2="48.1"/><line class="gm" x1="15.5" x2="121.35" y1="34.55" y2="34.55"/><line class="gm" x1="15.5" x2="121.35" y1="21" y2="21"/>
<rect class="bd" x="15.5" y="18.3" width="105.85" height="59.2"/>
<line class="tk" x1="14.4" x2="15.5" y1="75.2" y2="75.2"/>
<text class="yt" x="14.2" y="76.2">0.00</text>
<line class="tk" x1="14.4" x2="15.5" y1="61.65" y2="61.65"/>
<text class="yt" x="14.2" y="62.65">0.25</text>
<line class="tk" x1="14.4" x2="15.5" y1="48.1" y2="48.1"/>
<text class="yt" x="14.2" y="49.1">0.50</text>
<line class="tk" x1="14.4" x2="15.5" y1="34.55" y2="34.55"/>
<text class="yt" x="14.2" y="35.55">0.75</text>
<line class="tk" x1="14.4" x2="15.5" y1="21" y2="21"/>
<text class="yt" x="14.2" y="22">1.00</text>
<text class="yl" transform="translate(3.4,46.9) rotate(-90)">Survival probability</text>
<line class="tk" x1="20.2" x2="20.2" y1="77.5" y2="78.6"/>
<text class="xt" x="20.2" y="81.85">0</text>
<line class="tk" x1="39.46" x2="39.46" y1="77.5" y2="78.6"/>
<text class="xt" x="39.46" y="81.85">1000</text>
<line class="tk" x1="58.72" x2="58.72" y1="77.5" y2="78.6"/>
<text class="xt" x="58.72" y="81.85">2000</text>
<line class="tk" x1="77.98" x2="77.98" y1="77.5" y2="78.6"/>
<text class="xt" x="77.98" y="81.85">3000</text>
<line class="tk" x1="97.24" x2="97.24" y1="77.5" y2="78.6"/>
<text class="xt" x="97.24" y="81.85">4000</text>
<line class="tk" x1="116.5" x2="116.5" y1="77.5" y2="78.6"/>
<text class="xt" x="116.5" y="81.85">5000</text>
<text class="xl" x="68.83" y="85.2">Time (days)</text>
<polyline class="cr" points="20.2,21 20.7,21 20.7,21.84 21.21,21.84 21.21,22.67 21.71,22.67 21.71,23.51 22.74,23.51 22.74,23.92 23.78,23.92 23.78,24.33 24.81,24.33 24.81,24.75 25.85,24.75 25.85,25.37 26.88,25.37 26.88,25.99 27.91,25.99 27.91,26.61 28.69,26.61 28.69,27.64 29.47,27.64 29.47,28.67 30.24,28.67 30.24,29.71 30.55,29.71 30.55,30.64 30.86,30.64 30.86,31.57 31.17,31.57 31.17,32.5 31.48,32.5 31.48,33.43 31.79,33.43 31.79,34.36 32.1,34.36 32.1,35.29 32.41,35.29 32.41,36.22 32.72,36.22 32.72,37.14 33.03,37.14 33.03,38.07 33.34,38.07 33.34,39 34.51,39 34.51,40.17 35.67,40.17 35.67,41.33 36.45,41.33 36.45,42.36 37.22,42.36 37.22,43.4 38,43.4 38,44.43 38.78,44.43 38.78,45.46 39.55,45.46 39.55,46.49 40.33,46.49 40.33,47.53 41.1,47.53 41.1,48.56 41.88,48.56 41.88,49.59 42.65,49.59 42.65,50.63 43.43,50.63 43.43,51.66 44.21,51.66 44.21,52.69 44.98,52.69 44.98,53.73 45.76,53.73 45.76,54.6 46.53,54.6 46.53,55.48 47.31,55.48 47.31,56.36 48.34,56.36 48.34,56.77 49.38,56.77 49.38,57.19 50.41,57.19 50.41,57.6 51.38,57.6 51.38,58.18 52.35,58.18 52.35,58.76 53.32,58.76 53.32,59.34 54.29,59.34 54.29,59.92 55.32,59.92 55.32,60.7 56.36,60.7 56.36,61.47 57.39,61.47 57.39,62.25 58.56,62.25 58.56,63.41 59.72,63.41 59.72,64.57 60.88,64.57 60.88,65.74 62.05,65.74 62.05,66.9 62.82,66.9 62.82,67.67 63.6,67.67 63.6,68.45 77.56,68.45 78.6,68.45 78.6,68.4 79.63,68.4 79.63,68.34 80.67,68.34 80.67,68.29 81.7,68.29 81.7,68.24 82.73,68.24 82.73,68.19 83.77,68.19 83.77,68.14 105.49,68.14"/>
<polyline class="cc" points="20.2,21 20.95,21 20.95,21.48 21.71,21.48 21.71,21.96 22.74,21.96 22.74,22.48 23.78,22.48 23.78,22.99 24.81,22.99 24.81,23.51 25.85,23.51 25.85,24.28 26.88,24.28 26.88,25.06 27.91,25.06 27.91,25.83 28.95,25.83 28.95,26.61 29.98,26.61 29.98,27.38 31.02,27.38 31.02,28.16 32.05,28.16 32.05,29.19 33.09,29.19 33.09,30.22 34.12,30.22 34.12,31.26 35.16,31.26 35.16,32.03 36.19,32.03 36.19,32.81 37.22,32.81 37.22,33.58 38.26,33.58 38.26,34.61 39.29,34.61 39.29,35.65 40.33,35.65 40.33,36.68 40.91,36.68 40.91,37.65 41.49,37.65 41.49,38.62 42.07,38.62 42.07,39.59 42.65,39.59 42.65,40.55 43.43,40.55 43.43,41.59 44.21,41.59 44.21,42.62 44.98,42.62 44.98,43.65 45.56,43.65 45.56,44.62 46.14,44.62 46.14,45.59 46.73,45.59 46.73,46.56 47.31,46.56 47.31,47.53 48.47,47.53 48.47,48.69 49.64,48.69 49.64,49.85 50.67,49.85 50.67,50.89 51.7,50.89 51.7,51.92 52.74,51.92 52.74,52.95 53.77,52.95 53.77,53.88 54.81,53.88 54.81,54.81 55.84,54.81 55.84,55.74 56.88,55.74 56.88,56.36 57.91,56.36 57.91,56.98 58.94,56.98 58.94,57.6 59.98,57.6 59.98,58.12 61.01,58.12 61.01,58.63 62.05,58.63 62.05,59.15 63.08,59.15 63.08,59.41 64.12,59.41 64.12,59.67 65.15,59.67 65.15,59.92 66.18,59.92 66.18,60.18 67.22,60.18 67.22,60.44 68.25,60.44 68.25,60.7 69.29,60.7 69.29,61.47 70.32,61.47 70.32,62.25 71.36,62.25 71.36,63.02 72.13,63.02 72.13,64.06 72.91,64.06 72.91,65.09 73.68,65.09 73.68,66.12 74.77,66.12 74.77,66.22 75.86,66.22 75.86,66.31 76.94,66.31 76.94,66.4 78.03,66.4 78.03,66.5 79.11,66.5 79.11,66.59 80.04,66.59 80.04,66.81 80.98,66.81 80.98,67.02 81.91,67.02 81.91,67.24 82.84,67.24 82.84,67.46 83.77,67.46 83.77,67.67 84.7,67.67 84.7,67.77 85.63,67.77 85.63,67.86 86.56,67.86 86.56,67.95 87.49,67.95 87.49,68.04 88.42,68.04 88.42,68.14 89.35,68.14 89.35,68.35 90.28,68.35 90.28,68.57 91.22,68.57 91.22,68.79 92.15,68.79 92.15,69.01 93.08,69.01 93.08,69.22 94.11,69.22 94.11,69.3 95.15,69.3 95.15,69.38 96.18,69.38 96.18,69.45 97.21,69.45 97.21,69.53 98.25,69.53 98.25,69.61 99.28,69.61 99.28,69.69 105.49,69.69 106.52,69.69 106.52,69.79 107.56,69.79 107.56,69.89 108.59,69.89 108.59,70 108.98,70 108.98,70.77 109.37,70.77 109.37,71.55 121,71.55"/>
<line class="ds" x1="20.2" x2="47.77" y1="48.1" y2="48.1"/>
<line class="ds" x1="40.64" x2="40.64" y1="75.2" y2="48.1"/>
<line class="ds" x1="47.77" x2="47.77" y1="75.2" y2="48.1"/>
<text class="pv" x="22.5" y="66.7">p = 0.0062</text>
<text class="nr" x="15.4" y="92.8" textLength="27.6" lengthAdjust="spacingAndGlyphs">Number at risk</text>
<line class="gn" x1="29.83" x2="29.83" y1="95.3" y2="107.5"/><line class="gn" x1="49.09" x2="49.09" y1="95.3" y2="107.5"/><line class="gn" x1="68.35" x2="68.35" y1="95.3" y2="107.5"/><line class="gn" x1="87.61" x2="87.61" y1="95.3" y2="107.5"/><line class="gn" x1="106.87" x2="106.87" y1="95.3" y2="107.5"/><line class="gm" x1="20.2" x2="20.2" y1="95.3" y2="107.5"/><line class="gm" x1="39.46" x2="39.46" y1="95.3" y2="107.5"/><line class="gm" x1="58.72" x2="58.72" y1="95.3" y2="107.5"/><line class="gm" x1="77.98" x2="77.98" y1="95.3" y2="107.5"/><line class="gm" x1="97.24" x2="97.24" y1="95.3" y2="107.5"/><line class="gm" x1="116.5" x2="116.5" y1="95.3" y2="107.5"/><line class="gm" x1="15.5" x2="121.35" y1="98.5" y2="98.5"/><line class="gm" x1="15.5" x2="121.35" y1="104.2" y2="104.2"/>
<rect class="bd" x="15.5" y="95.3" width="105.85" height="12.2"/>
<text class="rr" x="20.2" y="99.8">62</text>
<text class="rc" x="20.2" y="105.5">333</text>
<text class="rr" x="39.46" y="99.8">27</text>
<text class="rc" x="39.46" y="105.5">176</text>
<text class="rr" x="58.72" y="99.8">11</text>
<text class="rc" x="58.72" y="105.5">61</text>
<text class="rr" x="77.98" y="99.8">2</text>
<text class="rc" x="77.98" y="105.5">21</text>
<text class="rr" x="97.24" y="99.8">1</text>
<text class="rc" x="97.24" y="105.5">4</text>
<text class="rr" x="116.5" y="99.8">0</text>
<text class="rc" x="116.5" y="105.5">1</text>
<line class="tk" x1="20.2" x2="20.2" y1="107.5" y2="108.6"/>
<text class="xt" x="20.2" y="110.9">0</text>
<line class="tk" x1="39.46" x2="39.46" y1="107.5" y2="108.6"/>
<text class="xt" x="39.46" y="110.9">1000</text>
<line class="tk" x1="58.72" x2="58.72" y1="107.5" y2="108.6"/>
<text class="xt" x="58.72" y="110.9">2000</text>
<line class="tk" x1="77.98" x2="77.98" y1="107.5" y2="108.6"/>
<text class="xt" x="77.98" y="110.9">3000</text>
<line class="tk" x1="97.24" x2="97.24" y1="107.5" y2="108.6"/>
<text class="xt" x="97.24" y="110.9">4000</text>
<line class="tk" x1="116.5" x2="116.5" y1="107.5" y2="108.6"/>
<text class="xt" x="116.5" y="110.9">5000</text>
<text class="xl" x="68.83" y="115.0">Time (days)</text>
<text class="rs" transform="translate(3.7,101.0) rotate(-90)">Strata</text>
<line x1="5.6" x2="13.4" y1="96.9" y2="96.9" stroke="#F8766D" stroke-width="1.8"/>
<line x1="5.6" x2="13.4" y1="102.75" y2="102.75" stroke="#00BFC4" stroke-width="1.8"/>
</g>
<g transform="translate(0,363.36)">
<text class="t" transform="translate(15.5,4.15) scale(0.95,1)">PAAD ARSI Survival</text>
<text class="ls" x="37.5" y="12">Strata</text>
<line x1="48.5" x2="52.7" y1="10.8" y2="10.8" stroke="#F8766D" stroke-width="1.4"/>
<text class="ll" x="54.8" y="11.9" textLength="19.5">gelgene=High</text>
<line x1="76.0" x2="80.4" y1="10.8" y2="10.8" stroke="#00BFC4" stroke-width="1.4"/>
<text class="ll" x="82.2" y="11.9" textLength="18.0">gelgene=Low</text>
<line class="gn" x1="36.25" x2="36.25" y1="18.3" y2="77.5"/><line class="gn" x1="68.35" x2="68.35" y1="18.3" y2="77.5"/><line class="gn" x1="100.45" x2="100.45" y1="18.3" y2="77.5"/><line class="gn" x1="15.5" x2="121.35" y1="68.43" y2="68.43"/><line class="gn" x1="15.5" x2="121.35" y1="54.88" y2="54.88"/><line class="gn" x1="15.5" x2="121.35" y1="41.33" y2="41.33"/><line class="gn" x1="15.5" x2="121.35" y1="27.77" y2="27.77"/><line class="gm" x1="20.2" x2="20.2" y1="18.3" y2="77.5"/><line class="gm" x1="52.3" x2="52.3" y1="18.3" y2="77.5"/><line class="gm" x1="84.4" x2="84.4" y1="18.3" y2="77.5"/><line class="gm" x1="116.5" x2="116.5" y1="18.3" y2="77.5"/><line class="gm" x1="15.5" x2="121.35" y1="75.2" y2="75.2"/><line class="gm" x1="15.5" x2="121.35" y1="61.65" y2="61.65"/><line class="gm" x1="15.5" x2="121.35" y1="48.1" y2="48.1"/><line class="gm" x1="15.5" x2="121.35" y1="34.55" y2="34.55"/><line class="gm" x1="15.5" x2="121.35" y1="21" y2="21"/>
<rect class="bd" x="15.5" y="18.3" width="105.85" height="59.2"/>
<line class="tk" x1="14.4" x2="15.5" y1="75.2" y2="75.2"/>
<text class="yt" x="14.2" y="76.2">0.00</text>
<line class="tk" x1="14.4" x2="15.5" y1="61.65" y2="61.65"/>
<text class="yt" x="14.2" y="62.65">0.25</text>
<line class="tk" x1="14.4" x2="15.5" y1="48.1" y2="48.1"/>
<text class="yt" x="14.2" y="49.1">0.50</text>
<line class="tk" x1="14.4" x2="15.5" y1="34.55" y2="34.55"/>
<text class="yt" x="14.2" y="35.55">0.75</text>
<line class="tk" x1="14.4" x2="15.5" y1="21" y2="21"/>
<text class="yt" x="14.2" y="22">1.00</text>
<text class="yl" transform="translate(3.4,46.9) rotate(-90)">Survival probability</text>
<line class="tk" x1="20.2" x2="20.2" y1="77.5" y2="78.6"/>
<text class="xt" x="20.2" y="81.85">0</text>
<line class="tk" x1="52.3" x2="52.3" y1="77.5" y2="78.6"/>
<text class="xt" x="52.3" y="81.85">1000</text>
<line class="tk" x1="84.4" x2="84.4" y1="77.5" y2="78.6"/>
<text class="xt" x="84.4" y="81.85">2000</text>
<line class="tk" x1="116.5" x2="116.5" y1="77.5" y2="78.6"/>
<text class="xt" x="116.5" y="81.85">3000</text>
<text class="xl" x="68.83" y="85.2">Time (days)</text>
<polyline class="cr" points="20.2,21 21.24,21 21.24,21.28 22.27,21.28 22.27,21.56 23.31,21.56 23.31,21.84 24.08,21.84 24.08,22.81 24.86,22.81 24.86,23.78 25.64,23.78 25.64,24.74 26.41,24.74 26.41,25.71 27.03,25.71 27.03,26.64 27.65,26.64 27.65,27.57 28.27,27.57 28.27,28.5 28.89,28.5 28.89,29.43 29.51,29.43 29.51,30.36 30.14,30.36 30.14,31.29 30.76,31.29 30.76,32.22 31.38,32.22 31.38,33.15 32,33.15 32,34.08 32.62,34.08 32.62,35.01 33.24,35.01 33.24,36.1 33.86,36.1 33.86,37.18 34.48,37.18 34.48,38.26 35.1,38.26 35.1,39.35 35.72,39.35 35.72,40.43 36.3,40.43 36.3,41.4 36.88,41.4 36.88,42.37 37.47,42.37 37.47,43.34 38.05,43.34 38.05,44.31 38.82,44.31 38.82,45.47 39.6,45.47 39.6,46.63 39.91,46.63 39.91,47.56 40.22,47.56 40.22,48.49 40.53,48.49 40.53,49.42 40.84,49.42 40.84,50.35 41.15,50.35 41.15,51.28 41.62,51.28 41.62,52.21 42.08,52.21 42.08,53.14 42.55,53.14 42.55,54.07 43.01,54.07 43.01,55 43.48,55 43.48,55.93 44.51,55.93 44.51,56.19 45.55,56.19 45.55,56.45 46.58,56.45 46.58,56.71 47.62,56.71 47.62,56.83 48.65,56.83 48.65,56.96 49.68,56.96 49.68,57.09 50.72,57.09 50.72,57.22 51.75,57.22 51.75,57.35 52.79,57.35 52.79,57.48 53.82,57.48 53.82,58.26 54.86,58.26 54.86,59.03 55.89,59.03 55.89,59.8 56.86,59.8 56.86,59.9 57.83,59.9 57.83,60 58.8,60 58.8,60.1 59.77,60.1 59.77,60.19 60.74,60.19 60.74,60.29 61.71,60.29 61.71,60.39 62.68,60.39 62.68,60.48 63.65,60.48 63.65,60.58 64.58,60.58 64.58,61.04 65.51,61.04 65.51,61.51 66.44,61.51 66.44,61.97 67.37,61.97 67.37,62.44 68.3,62.44 68.3,62.9 69.31,62.9 69.31,62.93 70.31,62.93 70.31,62.96 71.31,62.96 71.31,62.99 72.32,62.99 72.32,63.01 73.32,63.01 73.32,63.04 74.33,63.04 74.33,63.07 75.33,63.07 75.33,63.1 76.33,63.1 76.33,63.12 77.34,63.12 77.34,63.15 78.34,63.15 78.34,63.18 79.34,63.18 79.34,63.2 80.35,63.2 80.35,63.23 81.35,63.23 81.35,63.26 82.36,63.26 82.36,63.29 83.36,63.29 83.36,63.31 84.36,63.31 84.36,63.34 85.37,63.34 85.37,63.37 85.63,63.37 85.63,64.25 85.89,64.25 85.89,65.13 86.14,65.13 86.14,66 90.02,66 90.18,66 90.18,66.93 90.33,66.93 90.33,67.86 90.49,67.86 90.49,68.79 90.64,68.79 90.64,69.72 90.8,69.72 90.8,70.65 93.9,70.65"/>
<polyline class="cc" points="20.2,21 20.2,23.39 32.62,23.39 32.81,23.39 32.81,24.36 33.01,24.36 33.01,25.33 33.2,25.33 33.2,26.29 33.39,26.29 33.39,27.26 35.72,27.26 35.88,27.26 35.88,28.19 36.03,28.19 36.03,29.12 36.19,29.12 36.19,30.05 36.34,30.05 36.34,30.98 36.5,30.98 36.5,31.91 36.69,31.91 36.69,32.88 36.88,32.88 36.88,33.85 37.08,33.85 37.08,34.82 37.27,34.82 37.27,35.79 41.15,35.79 41.34,35.79 41.34,36.87 41.54,36.87 41.54,37.95 41.73,37.95 41.73,39.04 41.93,39.04 41.93,40.12 108.64,40.12"/>
<line class="ds" x1="20.2" x2="39.29" y1="48.1" y2="48.1"/>
<line class="ds" x1="39.29" x2="39.29" y1="75.2" y2="48.1"/>
<text class="pv" x="22.5" y="66.7">p = 0.0085</text>
<text class="nr" x="15.4" y="92.8" textLength="27.6" lengthAdjust="spacingAndGlyphs">Number at risk</text>
<line class="gn" x1="36.25" x2="36.25" y1="95.3" y2="107.5"/><line class="gn" x1="68.35" x2="68.35" y1="95.3" y2="107.5"/><line class="gn" x1="100.45" x2="100.45" y1="95.3" y2="107.5"/><line class="gm" x1="20.2" x2="20.2" y1="95.3" y2="107.5"/><line class="gm" x1="52.3" x2="52.3" y1="95.3" y2="107.5"/><line class="gm" x1="84.4" x2="84.4" y1="95.3" y2="107.5"/><line class="gm" x1="116.5" x2="116.5" y1="95.3" y2="107.5"/><line class="gm" x1="15.5" x2="121.35" y1="98.5" y2="98.5"/><line class="gm" x1="15.5" x2="121.35" y1="104.2" y2="104.2"/>
<rect class="bd" x="15.5" y="95.3" width="105.85" height="12.2"/>
<text class="rr" x="20.2" y="99.8">150</text>
<text class="rc" x="20.2" y="105.5">19</text>
<text class="rr" x="52.3" y="99.8">55</text>
<text class="rc" x="52.3" y="105.5">7</text>
<text class="rr" x="84.4" y="99.8">4</text>
<text class="rc" x="84.4" y="105.5">2</text>
<text class="rr" x="116.5" y="99.8">0</text>
<text class="rc" x="116.5" y="105.5">0</text>
<line class="tk" x1="20.2" x2="20.2" y1="107.5" y2="108.6"/>
<text class="xt" x="20.2" y="110.9">0</text>
<line class="tk" x1="52.3" x2="52.3" y1="107.5" y2="108.6"/>
<text class="xt" x="52.3" y="110.9">1000</text>
<line class="tk" x1="84.4" x2="84.4" y1="107.5" y2="108.6"/>
<text class="xt" x="84.4" y="110.9">2000</text>
<line class="tk" x1="116.5" x2="116.5" y1="107.5" y2="108.6"/>
<text class="xt" x="116.5" y="110.9">3000</text>
<text class="xl" x="68.83" y="115.0">Time (days)</text>
<text class="rs" transform="translate(3.7,101.0) rotate(-90)">Strata</text>
<line x1="5.6" x2="13.4" y1="96.9" y2="96.9" stroke="#F8766D" stroke-width="1.8"/>
<line x1="5.6" x2="13.4" y1="102.75" y2="102.75" stroke="#00BFC4" stroke-width="1.8"/>
</g>
<g transform="translate(146.65,363.36)">
<text class="t" transform="translate(15.5,4.15) scale(0.95,1)">SKCM ARSI Survival</text>
<text class="ls" x="37.5" y="12">Strata</text>
<line x1="48.5" x2="52.7" y1="10.8" y2="10.8" stroke="#F8766D" stroke-width="1.4"/>
<text class="ll" x="54.8" y="11.9" textLength="19.5">gelgene=High</text>
<line x1="76.0" x2="80.4" y1="10.8" y2="10.8" stroke="#00BFC4" stroke-width="1.4"/>
<text class="ll" x="82.2" y="11.9" textLength="18.0">gelgene=Low</text>
<line class="gn" x1="32.24" x2="32.24" y1="18.3" y2="77.5"/><line class="gn" x1="56.31" x2="56.31" y1="18.3" y2="77.5"/><line class="gn" x1="80.39" x2="80.39" y1="18.3" y2="77.5"/><line class="gn" x1="104.46" x2="104.46" y1="18.3" y2="77.5"/><line class="gn" x1="15.5" x2="121.35" y1="68.43" y2="68.43"/><line class="gn" x1="15.5" x2="121.35" y1="54.88" y2="54.88"/><line class="gn" x1="15.5" x2="121.35" y1="41.33" y2="41.33"/><line class="gn" x1="15.5" x2="121.35" y1="27.77" y2="27.77"/><line class="gm" x1="20.2" x2="20.2" y1="18.3" y2="77.5"/><line class="gm" x1="44.27" x2="44.27" y1="18.3" y2="77.5"/><line class="gm" x1="68.35" x2="68.35" y1="18.3" y2="77.5"/><line class="gm" x1="92.42" x2="92.42" y1="18.3" y2="77.5"/><line class="gm" x1="116.5" x2="116.5" y1="18.3" y2="77.5"/><line class="gm" x1="15.5" x2="121.35" y1="75.2" y2="75.2"/><line class="gm" x1="15.5" x2="121.35" y1="61.65" y2="61.65"/><line class="gm" x1="15.5" x2="121.35" y1="48.1" y2="48.1"/><line class="gm" x1="15.5" x2="121.35" y1="34.55" y2="34.55"/><line class="gm" x1="15.5" x2="121.35" y1="21" y2="21"/>
<rect class="bd" x="15.5" y="18.3" width="105.85" height="59.2"/>
<line class="tk" x1="14.4" x2="15.5" y1="75.2" y2="75.2"/>
<text class="yt" x="14.2" y="76.2">0.00</text>
<line class="tk" x1="14.4" x2="15.5" y1="61.65" y2="61.65"/>
<text class="yt" x="14.2" y="62.65">0.25</text>
<line class="tk" x1="14.4" x2="15.5" y1="48.1" y2="48.1"/>
<text class="yt" x="14.2" y="49.1">0.50</text>
<line class="tk" x1="14.4" x2="15.5" y1="34.55" y2="34.55"/>
<text class="yt" x="14.2" y="35.55">0.75</text>
<line class="tk" x1="14.4" x2="15.5" y1="21" y2="21"/>
<text class="yt" x="14.2" y="22">1.00</text>
<text class="yl" transform="translate(3.4,46.9) rotate(-90)">Survival probability</text>
<line class="tk" x1="20.2" x2="20.2" y1="77.5" y2="78.6"/>
<text class="xt" x="20.2" y="81.85">0</text>
<line class="tk" x1="44.27" x2="44.27" y1="77.5" y2="78.6"/>
<text class="xt" x="44.27" y="81.85">3000</text>
<line class="tk" x1="68.35" x2="68.35" y1="77.5" y2="78.6"/>
<text class="xt" x="68.35" y="81.85">6000</text>
<line class="tk" x1="92.42" x2="92.42" y1="77.5" y2="78.6"/>
<text class="xt" x="92.42" y="81.85">9000</text>
<line class="tk" x1="116.5" x2="116.5" y1="77.5" y2="78.6"/>
<text class="xt" x="116.5" y="81.85">12000</text>
<text class="xl" x="68.83" y="85.2">Time (days)</text>
<polyline class="cr" points="20.2,21 21.15,21 21.15,21.81 22.11,21.81 22.11,22.61 22.42,22.61 22.42,23.7 22.73,23.7 22.73,24.78 23.04,24.78 23.04,25.87 23.35,25.87 23.35,26.95 23.66,26.95 23.66,28.04 23.97,28.04 23.97,28.97 24.28,28.97 24.28,29.9 24.59,29.9 24.59,30.83 24.9,30.83 24.9,31.76 25.21,31.76 25.21,32.69 25.52,32.69 25.52,33.77 25.83,33.77 25.83,34.86 26.14,34.86 26.14,35.94 26.45,35.94 26.45,37.02 26.76,37.02 26.76,38.11 27.15,38.11 27.15,39.08 27.54,39.08 27.54,40.05 27.93,40.05 27.93,41.02 28.31,41.02 28.31,41.98 29.48,41.98 29.48,42.76 30.64,42.76 30.64,43.53 31.16,43.53 31.16,44.57 31.67,44.57 31.67,45.6 32.19,45.6 32.19,46.63 32.77,46.63 32.77,47.6 33.36,47.6 33.36,48.57 33.94,48.57 33.94,49.54 34.52,49.54 34.52,50.51 35.55,50.51 35.55,51.28 36.59,51.28 36.59,52.06 37.62,52.06 37.62,52.83 38.59,52.83 38.59,53.41 39.56,53.41 39.56,53.99 40.53,53.99 40.53,54.57 41.5,54.57 41.5,55.16 42.54,55.16 42.54,55.67 43.57,55.67 43.57,56.19 44.6,56.19 44.6,56.71 45.12,56.71 45.12,57.74 45.64,57.74 45.64,58.77 46.16,58.77 46.16,59.8 46.54,59.8 46.54,60.58 46.93,60.58 46.93,61.35 53.14,61.35 53.91,61.35 53.91,62.13 54.69,62.13 54.69,62.9 60.12,62.9 60.25,62.9 60.25,63.94 60.38,63.94 60.38,64.97 60.51,64.97 60.51,66 60.64,66 60.64,67.04 60.77,67.04 60.77,68.07 60.89,68.07 60.89,69.1 64.77,69.1"/>
<polyline class="cc" points="20.2,21 21.09,21 21.09,21.54 21.99,21.54 21.99,22.08 22.88,22.08 22.88,22.61 23.35,22.61 23.35,23.54 23.81,23.54 23.81,24.47 24.28,24.47 24.28,25.4 24.74,25.4 24.74,26.33 25.21,26.33 25.21,27.26 25.79,27.26 25.79,28.23 26.37,28.23 26.37,29.2 26.96,29.2 26.96,30.17 27.54,30.17 27.54,31.14 28.31,31.14 28.31,32.17 29.09,32.17 29.09,33.2 29.86,33.2 29.86,34.24 30.64,34.24 30.64,35.2 31.42,35.2 31.42,36.17 32.19,36.17 32.19,37.14 32.97,37.14 32.97,38.11 34,38.11 34,39.14 35.04,39.14 35.04,40.18 36.07,40.18 36.07,41.21 36.85,41.21 36.85,42.24 37.62,42.24 37.62,43.28 38.4,43.28 38.4,44.31 39.43,44.31 39.43,44.82 40.47,44.82 40.47,45.34 41.5,45.34 41.5,45.86 42.54,45.86 42.54,46.37 43.57,46.37 43.57,46.89 44.6,46.89 44.6,47.41 45.64,47.41 45.64,47.92 46.67,47.92 46.67,48.44 47.71,48.44 47.71,48.96 48.68,48.96 48.68,49.54 49.65,49.54 49.65,50.12 50.62,50.12 50.62,50.7 51.59,50.7 51.59,51.28 52.52,51.28 52.52,51.59 53.45,51.59 53.45,51.9 54.38,51.9 54.38,52.21 55.31,52.21 55.31,52.52 56.24,52.52 56.24,52.83 57.21,52.83 57.21,53.41 58.18,53.41 58.18,53.99 59.15,53.99 59.15,54.57 60.12,54.57 60.12,55.16 61.09,55.16 61.09,55.93 62.06,55.93 62.06,56.71 63.03,56.71 63.03,57.48 64,57.48 64,58.26 67.1,58.26 68.13,58.26 68.13,58.51 69.17,58.51 69.17,58.77 70.2,58.77 70.2,59.03 71.24,59.03 71.24,59.8 72.27,59.8 72.27,60.58 73.31,60.58 73.31,61.35 74.34,61.35 74.34,62.13 75.37,62.13 75.37,62.9 76.41,62.9 76.41,63.68 77.34,63.68 77.34,63.93 78.27,63.93 78.27,64.17 79.2,64.17 79.2,64.42 80.13,64.42 80.13,64.67 81.06,64.67 81.06,64.92 81.99,64.92 81.99,65.14 82.93,65.14 82.93,65.35 83.86,65.35 83.86,65.57 84.79,65.57 84.79,65.79 85.72,65.79 85.72,66 86.65,66 86.65,66.16 87.58,66.16 87.58,66.31 88.51,66.31 88.51,66.47 89.44,66.47 89.44,66.62 90.37,66.62 90.37,66.78 91.41,66.78 91.41,67.19 92.44,67.19 92.44,67.6 93.48,67.6 93.48,68.02 94.45,68.02 94.45,68.06 95.41,68.06 95.41,68.1 96.38,68.1 96.38,68.13 97.35,68.13 97.35,68.17 98.32,68.17 98.32,68.21 99.29,68.21 99.29,68.25 100.26,68.25 100.26,68.29 101.23,68.29 101.23,68.33 102.27,68.33 102.27,68.84 103.3,68.84 103.3,69.36 104.34,69.36 104.34,69.88 105.27,69.88 105.27,70.19 106.2,70.19 106.2,70.5 107.13,70.5 107.13,70.81 108.06,70.81 108.06,71.12 108.99,71.12 108.99,71.43 109.77,71.43 109.77,71.04 110.54,71.04 110.54,70.65"/>
<line class="ds" x1="20.2" x2="45.38" y1="48.1" y2="48.1"/>
<line class="ds" x1="32.66" x2="32.66" y1="75.2" y2="48.1"/>
<line class="ds" x1="45.69" x2="45.69" y1="75.2" y2="48.1"/>
<text class="pv" x="22.5" y="66.7">p = 7e-04</text>
<text class="nr" x="15.4" y="92.8" textLength="27.6" lengthAdjust="spacingAndGlyphs">Number at risk</text>
<line class="gn" x1="32.24" x2="32.24" y1="95.3" y2="107.5"/><line class="gn" x1="56.31" x2="56.31" y1="95.3" y2="107.5"/><line class="gn" x1="80.39" x2="80.39" y1="95.3" y2="107.5"/><line class="gn" x1="104.46" x2="104.46" y1="95.3" y2="107.5"/><line class="gm" x1="20.2" x2="20.2" y1="95.3" y2="107.5"/><line class="gm" x1="44.27" x2="44.27" y1="95.3" y2="107.5"/><line class="gm" x1="68.35" x2="68.35" y1="95.3" y2="107.5"/><line class="gm" x1="92.42" x2="92.42" y1="95.3" y2="107.5"/><line class="gm" x1="116.5" x2="116.5" y1="95.3" y2="107.5"/><line class="gm" x1="15.5" x2="121.35" y1="98.5" y2="98.5"/><line class="gm" x1="15.5" x2="121.35" y1="104.2" y2="104.2"/>
<rect class="bd" x="15.5" y="95.3" width="105.85" height="12.2"/>
<text class="rr" x="20.2" y="99.8">138</text>
<text class="rc" x="20.2" y="105.5">315</text>
<text class="rr" x="44.27" y="99.8">18</text>
<text class="rc" x="44.27" y="105.5">70</text>
<text class="rr" x="68.35" y="99.8">0</text>
<text class="rc" x="68.35" y="105.5">21</text>
<text class="rr" x="92.42" y="99.8">0</text>
<text class="rc" x="92.42" y="105.5">6</text>
<text class="rr" x="116.5" y="99.8">0</text>
<text class="rc" x="116.5" y="105.5">0</text>
<line class="tk" x1="20.2" x2="20.2" y1="107.5" y2="108.6"/>
<text class="xt" x="20.2" y="110.9">0</text>
<line class="tk" x1="44.27" x2="44.27" y1="107.5" y2="108.6"/>
<text class="xt" x="44.27" y="110.9">3000</text>
<line class="tk" x1="68.35" x2="68.35" y1="107.5" y2="108.6"/>
<text class="xt" x="68.35" y="110.9">6000</text>
<line class="tk" x1="92.42" x2="92.42" y1="107.5" y2="108.6"/>
<text class="xt" x="92.42" y="110.9">9000</text>
<line class="tk" x1="116.5" x2="116.5" y1="107.5" y2="108.6"/>
<text class="xt" x="116.5" y="110.9">12000</text>
<text class="xl" x="68.83" y="115.0">Time (days)</text>
<text class="rs" transform="translate(3.7,101.0) rotate(-90)">Strata</text>
<line x1="5.6" x2="13.4" y1="96.9" y2="96.9" stroke="#F8766D" stroke-width="1.8"/>
<line x1="5.6" x2="13.4" y1="102.75" y2="102.75" stroke="#00BFC4" stroke-width="1.8"/>
</g>
<g transform="translate(293.3,363.36)">
<text class="t" transform="translate(15.5,4.15) scale(0.95,1)">STAD ARSI Survival</text>
<text class="ls" x="37.5" y="12">Strata</text>
<line x1="48.5" x2="52.7" y1="10.8" y2="10.8" stroke="#F8766D" stroke-width="1.4"/>
<text class="ll" x="54.8" y="11.9" textLength="19.5">gelgene=High</text>
<line x1="76.0" x2="80.4" y1="10.8" y2="10.8" stroke="#00BFC4" stroke-width="1.4"/>
<text class="ll" x="82.2" y="11.9" textLength="18.0">gelgene=Low</text>
<line class="gn" x1="32.24" x2="32.24" y1="18.3" y2="77.5"/><line class="gn" x1="56.31" x2="56.31" y1="18.3" y2="77.5"/><line class="gn" x1="80.39" x2="80.39" y1="18.3" y2="77.5"/><line class="gn" x1="104.46" x2="104.46" y1="18.3" y2="77.5"/><line class="gn" x1="15.5" x2="121.35" y1="68.43" y2="68.43"/><line class="gn" x1="15.5" x2="121.35" y1="54.88" y2="54.88"/><line class="gn" x1="15.5" x2="121.35" y1="41.33" y2="41.33"/><line class="gn" x1="15.5" x2="121.35" y1="27.77" y2="27.77"/><line class="gm" x1="20.2" x2="20.2" y1="18.3" y2="77.5"/><line class="gm" x1="44.27" x2="44.27" y1="18.3" y2="77.5"/><line class="gm" x1="68.35" x2="68.35" y1="18.3" y2="77.5"/><line class="gm" x1="92.42" x2="92.42" y1="18.3" y2="77.5"/><line class="gm" x1="116.5" x2="116.5" y1="18.3" y2="77.5"/><line class="gm" x1="15.5" x2="121.35" y1="75.2" y2="75.2"/><line class="gm" x1="15.5" x2="121.35" y1="61.65" y2="61.65"/><line class="gm" x1="15.5" x2="121.35" y1="48.1" y2="48.1"/><line class="gm" x1="15.5" x2="121.35" y1="34.55" y2="34.55"/><line class="gm" x1="15.5" x2="121.35" y1="21" y2="21"/>
<rect class="bd" x="15.5" y="18.3" width="105.85" height="59.2"/>
<line class="tk" x1="14.4" x2="15.5" y1="75.2" y2="75.2"/>
<text class="yt" x="14.2" y="76.2">0.00</text>
<line class="tk" x1="14.4" x2="15.5" y1="61.65" y2="61.65"/>
<text class="yt" x="14.2" y="62.65">0.25</text>
<line class="tk" x1="14.4" x2="15.5" y1="48.1" y2="48.1"/>
<text class="yt" x="14.2" y="49.1">0.50</text>
<line class="tk" x1="14.4" x2="15.5" y1="34.55" y2="34.55"/>
<text class="yt" x="14.2" y="35.55">0.75</text>
<line class="tk" x1="14.4" x2="15.5" y1="21" y2="21"/>
<text class="yt" x="14.2" y="22">1.00</text>
<text class="yl" transform="translate(3.4,46.9) rotate(-90)">Survival probability</text>
<line class="tk" x1="20.2" x2="20.2" y1="77.5" y2="78.6"/>
<text class="xt" x="20.2" y="81.85">0</text>
<line class="tk" x1="44.27" x2="44.27" y1="77.5" y2="78.6"/>
<text class="xt" x="44.27" y="81.85">1000</text>
<line class="tk" x1="68.35" x2="68.35" y1="77.5" y2="78.6"/>
<text class="xt" x="68.35" y="81.85">2000</text>
<line class="tk" x1="92.42" x2="92.42" y1="77.5" y2="78.6"/>
<text class="xt" x="92.42" y="81.85">3000</text>
<line class="tk" x1="116.5" x2="116.5" y1="77.5" y2="78.6"/>
<text class="xt" x="116.5" y="81.85">4000</text>
<text class="xl" x="68.83" y="85.2">Time (days)</text>
<polyline class="cr" points="20.2,21 21.14,21 21.14,21.8 22.07,21.8 22.07,22.59 23.01,22.59 23.01,23.39 23.78,23.39 23.78,24.36 24.56,24.36 24.56,25.33 25.34,25.33 25.34,26.29 26.11,26.29 26.11,27.26 26.73,27.26 26.73,28.19 27.35,28.19 27.35,29.12 27.97,29.12 27.97,30.05 28.59,30.05 28.59,30.98 29.21,30.98 29.21,31.91 29.84,31.91 29.84,33 30.46,33 30.46,34.08 31.08,34.08 31.08,35.17 31.7,35.17 31.7,36.25 32.32,36.25 32.32,37.33 32.94,37.33 32.94,38.26 33.56,38.26 33.56,39.19 34.18,39.19 34.18,40.12 34.8,40.12 34.8,41.05 35.42,41.05 35.42,41.98 36.04,41.98 36.04,42.91 36.66,42.91 36.66,43.84 37.28,43.84 37.28,44.77 37.9,44.77 37.9,45.7 38.52,45.7 38.52,46.63 39.3,46.63 39.3,47.79 40.08,47.79 40.08,48.96 41.01,48.96 41.01,49.17 41.94,49.17 41.94,49.39 42.87,49.39 42.87,49.61 43.8,49.61 43.8,49.82 44.73,49.82 44.73,50.04 45.66,50.04 45.66,50.35 46.59,50.35 46.59,50.66 47.52,50.66 47.52,50.97 48.45,50.97 48.45,51.28 49.38,51.28 49.38,51.59 50.31,51.59 50.31,51.99 51.25,51.99 51.25,52.4 52.18,52.4 52.18,52.8 53.11,52.8 53.11,53.2 54.04,53.2 54.04,53.61 55.07,53.61 55.07,53.74 56.11,53.74 56.11,53.86 57.14,53.86 57.14,53.99 58.18,53.99 58.18,54.12 59.21,54.12 59.21,54.25 60.24,54.25 60.24,54.38 61.28,54.38 61.28,55.41 62.31,55.41 62.31,56.45 63.35,56.45 63.35,57.48 64.28,57.48 64.28,57.64 65.21,57.64 65.21,57.79 66.14,57.79 66.14,57.95 67.07,57.95 67.07,58.1 68,58.1 68,58.26 69.04,58.26 69.04,58.77 70.07,58.77 70.07,59.29 71.1,59.29 71.1,59.8 71.88,59.8 71.88,60.84 72.66,60.84 72.66,61.87 73.43,61.87 73.43,62.9 109.89,62.9"/>
<polyline class="cc" points="20.2,21 21.14,21 21.14,21.54 22.07,21.54 22.07,22.08 23.01,22.08 23.01,22.61 23.78,22.61 23.78,23.58 24.56,23.58 24.56,24.55 25.34,24.55 25.34,25.52 26.11,25.52 26.11,26.49 27.15,26.49 27.15,27.52 28.18,27.52 28.18,28.55 29.21,28.55 29.21,29.59 39.3,29.59 39.69,29.59 39.69,30.75 40.08,30.75 40.08,31.91 40.59,31.91 40.59,32.94 41.11,32.94 41.11,33.98 41.63,33.98 41.63,35.01 74.98,35.01"/>
<line class="ds" x1="20.2" x2="39.3" y1="48.1" y2="48.1"/>
<line class="ds" x1="39.3" x2="39.3" y1="75.2" y2="48.1"/>
<text class="pv" x="22.5" y="66.7">p = 0.0013</text>
<text class="nr" x="15.4" y="92.8" textLength="27.6" lengthAdjust="spacingAndGlyphs">Number at risk</text>
<line class="gn" x1="32.24" x2="32.24" y1="95.3" y2="107.5"/><line class="gn" x1="56.31" x2="56.31" y1="95.3" y2="107.5"/><line class="gn" x1="80.39" x2="80.39" y1="95.3" y2="107.5"/><line class="gn" x1="104.46" x2="104.46" y1="95.3" y2="107.5"/><line class="gm" x1="20.2" x2="20.2" y1="95.3" y2="107.5"/><line class="gm" x1="44.27" x2="44.27" y1="95.3" y2="107.5"/><line class="gm" x1="68.35" x2="68.35" y1="95.3" y2="107.5"/><line class="gm" x1="92.42" x2="92.42" y1="95.3" y2="107.5"/><line class="gm" x1="116.5" x2="116.5" y1="95.3" y2="107.5"/><line class="gm" x1="15.5" x2="121.35" y1="98.5" y2="98.5"/><line class="gm" x1="15.5" x2="121.35" y1="104.2" y2="104.2"/>
<rect class="bd" x="15.5" y="95.3" width="105.85" height="12.2"/>
<text class="rr" x="20.2" y="99.8">342</text>
<text class="rc" x="20.2" y="105.5">46</text>
<text class="rr" x="44.27" y="99.8">47</text>
<text class="rc" x="44.27" y="105.5">13</text>
<text class="rr" x="68.35" y="99.8">9</text>
<text class="rc" x="68.35" y="105.5">1</text>
<text class="rr" x="92.42" y="99.8">4</text>
<text class="rc" x="92.42" y="105.5">0</text>
<text class="rr" x="116.5" y="99.8">0</text>
<text class="rc" x="116.5" y="105.5">0</text>
<line class="tk" x1="20.2" x2="20.2" y1="107.5" y2="108.6"/>
<text class="xt" x="20.2" y="110.9">0</text>
<line class="tk" x1="44.27" x2="44.27" y1="107.5" y2="108.6"/>
<text class="xt" x="44.27" y="110.9">1000</text>
<line class="tk" x1="68.35" x2="68.35" y1="107.5" y2="108.6"/>
<text class="xt" x="68.35" y="110.9">2000</text>
<line class="tk" x1="92.42" x2="92.42" y1="107.5" y2="108.6"/>
<text class="xt" x="92.42" y="110.9">3000</text>
<line class="tk" x1="116.5" x2="116.5" y1="107.5" y2="108.6"/>
<text class="xt" x="116.5" y="110.9">4000</text>
<text class="xl" x="68.83" y="115.0">Time (days)</text>
<text class="rs" transform="translate(3.7,101.0) rotate(-90)">Strata</text>
<line x1="5.6" x2="13.4" y1="96.9" y2="96.9" stroke="#F8766D" stroke-width="1.8"/>
<line x1="5.6" x2="13.4" y1="102.75" y2="102.75" stroke="#00BFC4" stroke-width="1.8"/>
</g>
<g transform="translate(439.95,363.36)">
<text class="t" transform="translate(15.5,4.15) scale(0.95,1)">THCA ARSI Survival</text>
<text class="ls" x="37.5" y="12">Strata</text>
<line x1="48.5" x2="52.7" y1="10.8" y2="10.8" stroke="#F8766D" stroke-width="1.4"/>
<text class="ll" x="54.8" y="11.9" textLength="19.5">gelgene=High</text>
<line x1="76.0" x2="80.4" y1="10.8" y2="10.8" stroke="#00BFC4" stroke-width="1.4"/>
<text class="ll" x="82.2" y="11.9" textLength="18.0">gelgene=Low</text>
<line class="gn" x1="29.83" x2="29.83" y1="18.3" y2="77.5"/><line class="gn" x1="49.09" x2="49.09" y1="18.3" y2="77.5"/><line class="gn" x1="68.35" x2="68.35" y1="18.3" y2="77.5"/><line class="gn" x1="87.61" x2="87.61" y1="18.3" y2="77.5"/><line class="gn" x1="106.87" x2="106.87" y1="18.3" y2="77.5"/><line class="gn" x1="15.5" x2="121.35" y1="68.43" y2="68.43"/><line class="gn" x1="15.5" x2="121.35" y1="54.88" y2="54.88"/><line class="gn" x1="15.5" x2="121.35" y1="41.33" y2="41.33"/><line class="gn" x1="15.5" x2="121.35" y1="27.77" y2="27.77"/><line class="gm" x1="20.2" x2="20.2" y1="18.3" y2="77.5"/><line class="gm" x1="39.46" x2="39.46" y1="18.3" y2="77.5"/><line class="gm" x1="58.72" x2="58.72" y1="18.3" y2="77.5"/><line class="gm" x1="77.98" x2="77.98" y1="18.3" y2="77.5"/><line class="gm" x1="97.24" x2="97.24" y1="18.3" y2="77.5"/><line class="gm" x1="116.5" x2="116.5" y1="18.3" y2="77.5"/><line class="gm" x1="15.5" x2="121.35" y1="75.2" y2="75.2"/><line class="gm" x1="15.5" x2="121.35" y1="61.65" y2="61.65"/><line class="gm" x1="15.5" x2="121.35" y1="48.1" y2="48.1"/><line class="gm" x1="15.5" x2="121.35" y1="34.55" y2="34.55"/><line class="gm" x1="15.5" x2="121.35" y1="21" y2="21"/>
<rect class="bd" x="15.5" y="18.3" width="105.85" height="59.2"/>
<line class="tk" x1="14.4" x2="15.5" y1="75.2" y2="75.2"/>
<text class="yt" x="14.2" y="76.2">0.00</text>
<line class="tk" x1="14.4" x2="15.5" y1="61.65" y2="61.65"/>
<text class="yt" x="14.2" y="62.65">0.25</text>
<line class="tk" x1="14.4" x2="15.5" y1="48.1" y2="48.1"/>
<text class="yt" x="14.2" y="49.1">0.50</text>
<line class="tk" x1="14.4" x2="15.5" y1="34.55" y2="34.55"/>
<text class="yt" x="14.2" y="35.55">0.75</text>
<line class="tk" x1="14.4" x2="15.5" y1="21" y2="21"/>
<text class="yt" x="14.2" y="22">1.00</text>
<text class="yl" transform="translate(3.4,46.9) rotate(-90)">Survival probability</text>
<line class="tk" x1="20.2" x2="20.2" y1="77.5" y2="78.6"/>
<text class="xt" x="20.2" y="81.85">0</text>
<line class="tk" x1="39.46" x2="39.46" y1="77.5" y2="78.6"/>
<text class="xt" x="39.46" y="81.85">1000</text>
<line class="tk" x1="58.72" x2="58.72" y1="77.5" y2="78.6"/>
<text class="xt" x="58.72" y="81.85">2000</text>
<line class="tk" x1="77.98" x2="77.98" y1="77.5" y2="78.6"/>
<text class="xt" x="77.98" y="81.85">3000</text>
<line class="tk" x1="97.24" x2="97.24" y1="77.5" y2="78.6"/>
<text class="xt" x="97.24" y="81.85">4000</text>
<line class="tk" x1="116.5" x2="116.5" y1="77.5" y2="78.6"/>
<text class="xt" x="116.5" y="81.85">5000</text>
<text class="xl" x="68.83" y="85.2">Time (days)</text>
<polyline class="cr" points="20.2,21 21.25,21 21.25,21.28 22.31,21.28 22.31,21.56 23.36,21.56 23.36,21.84 24.39,21.84 24.39,21.97 25.43,21.97 25.43,22.1 26.46,22.1 26.46,22.23 27.5,22.23 27.5,22.36 28.53,22.36 28.53,22.48 29.56,22.48 29.56,22.61 30.5,22.61 30.5,22.83 31.43,22.83 31.43,23.05 32.36,23.05 32.36,23.26 33.29,23.26 33.29,23.48 34.22,23.48 34.22,23.7 34.99,23.7 34.99,24.16 35.77,24.16 35.77,24.63 50.51,24.63 50.77,24.63 50.77,25.51 51.03,25.51 51.03,26.38 51.29,26.38 51.29,27.26 52.45,27.26 52.45,27.65 53.61,27.65 53.61,28.04 54,28.04 54,29.2 54.39,29.2 54.39,30.36 55.16,30.36 55.16,31.52 55.94,31.52 55.94,32.69 56.72,32.69 56.72,32.84 57.49,32.84 57.49,33 112.57,33"/>
<polyline class="cc" points="20.2,21 21.18,21 21.18,20.96 22.17,20.96 22.17,20.93 23.15,20.93 23.15,20.89 24.13,20.89 24.13,20.85 25.11,20.85 25.11,20.81 26.1,20.81 26.1,20.78 27.08,20.78 27.08,20.74 28.06,20.74 28.06,20.7 29.05,20.7 29.05,20.66 30.03,20.66 30.03,20.63 31.01,20.63 31.01,20.59 31.99,20.59 31.99,20.55 32.98,20.55 32.98,20.51 33.96,20.51 33.96,20.48 34.94,20.48 34.94,20.44 35.93,20.44 35.93,20.4 36.91,20.4 36.91,20.36 37.89,20.36 37.89,20.33 38.87,20.33 38.87,20.29 39.65,20.29 39.65,21.53 40.65,21.53 40.65,21.57 41.64,21.57 41.64,21.62 42.64,21.62 42.64,21.66 43.64,21.66 43.64,21.71 44.64,21.71 44.64,21.75 45.63,21.75 45.63,21.79 46.63,21.79 46.63,21.84 47.67,21.84 47.67,21.97 48.7,21.97 48.7,22.1 49.73,22.1 49.73,22.23 50.77,22.23 50.77,22.36 51.8,22.36 51.8,22.48 52.84,22.48 52.84,22.61 53.81,22.61 53.81,22.67 54.78,22.67 54.78,22.73 55.75,22.73 55.75,22.79 56.72,22.79 56.72,22.85 57.69,22.85 57.69,22.9 58.66,22.9 58.66,22.96 59.62,22.96 59.62,23.02 60.59,23.02 60.59,23.08 61.56,23.08 61.56,23.1 62.53,23.1 62.53,23.12 63.5,23.12 63.5,23.14 64.47,23.14 64.47,23.16 65.44,23.16 65.44,23.18 66.41,23.18 66.41,23.19 67.38,23.19 67.38,23.21 68.35,23.21 68.35,23.23 69.32,23.23 69.32,23.25 70.29,23.25 70.29,23.27 71.26,23.27 71.26,23.29 72.23,23.29 72.23,23.31 73.2,23.31 73.2,23.33 74.17,23.33 74.17,23.35 75.14,23.35 75.14,23.37 76.11,23.37 76.11,23.39 76.88,23.39 76.88,24.32 77.66,24.32 77.66,25.25 121.1,25.25"/>
<text class="pv" x="22.5" y="66.7">p = 0.00069</text>
<text class="nr" x="15.4" y="92.8" textLength="27.6" lengthAdjust="spacingAndGlyphs">Number at risk</text>
<line class="gn" x1="29.83" x2="29.83" y1="95.3" y2="107.5"/><line class="gn" x1="49.09" x2="49.09" y1="95.3" y2="107.5"/><line class="gn" x1="68.35" x2="68.35" y1="95.3" y2="107.5"/><line class="gn" x1="87.61" x2="87.61" y1="95.3" y2="107.5"/><line class="gn" x1="106.87" x2="106.87" y1="95.3" y2="107.5"/><line class="gm" x1="20.2" x2="20.2" y1="95.3" y2="107.5"/><line class="gm" x1="39.46" x2="39.46" y1="95.3" y2="107.5"/><line class="gm" x1="58.72" x2="58.72" y1="95.3" y2="107.5"/><line class="gm" x1="77.98" x2="77.98" y1="95.3" y2="107.5"/><line class="gm" x1="97.24" x2="97.24" y1="95.3" y2="107.5"/><line class="gm" x1="116.5" x2="116.5" y1="95.3" y2="107.5"/><line class="gm" x1="15.5" x2="121.35" y1="98.5" y2="98.5"/><line class="gm" x1="15.5" x2="121.35" y1="104.2" y2="104.2"/>
<rect class="bd" x="15.5" y="95.3" width="105.85" height="12.2"/>
<text class="rr" x="20.2" y="99.8">73</text>
<text class="rc" x="20.2" y="105.5">435</text>
<text class="rr" x="39.46" y="99.8">31</text>
<text class="rc" x="39.46" y="105.5">200</text>
<text class="rr" x="58.72" y="99.8">12</text>
<text class="rc" x="58.72" y="105.5">70</text>
<text class="rr" x="77.98" y="99.8">6</text>
<text class="rc" x="77.98" y="105.5">28</text>
<text class="rr" x="97.24" y="99.8">3</text>
<text class="rc" x="97.24" y="105.5">12</text>
<text class="rr" x="116.5" y="99.8">0</text>
<text class="rc" x="116.5" y="105.5">3</text>
<line class="tk" x1="20.2" x2="20.2" y1="107.5" y2="108.6"/>
<text class="xt" x="20.2" y="110.9">0</text>
<line class="tk" x1="39.46" x2="39.46" y1="107.5" y2="108.6"/>
<text class="xt" x="39.46" y="110.9">1000</text>
<line class="tk" x1="58.72" x2="58.72" y1="107.5" y2="108.6"/>
<text class="xt" x="58.72" y="110.9">2000</text>
<line class="tk" x1="77.98" x2="77.98" y1="107.5" y2="108.6"/>
<text class="xt" x="77.98" y="110.9">3000</text>
<line class="tk" x1="97.24" x2="97.24" y1="107.5" y2="108.6"/>
<text class="xt" x="97.24" y="110.9">4000</text>
<line class="tk" x1="116.5" x2="116.5" y1="107.5" y2="108.6"/>
<text class="xt" x="116.5" y="110.9">5000</text>
<text class="xl" x="68.83" y="115.0">Time (days)</text>
<text class="rs" transform="translate(3.7,101.0) rotate(-90)">Strata</text>
<line x1="5.6" x2="13.4" y1="96.9" y2="96.9" stroke="#F8766D" stroke-width="1.8"/>
<line x1="5.6" x2="13.4" y1="102.75" y2="102.75" stroke="#00BFC4" stroke-width="1.8"/>
</g>
<g transform="translate(586.6,363.36)">
<text class="t" transform="translate(15.5,4.15) scale(0.95,1)">UCEC ARSI Survival</text>
<text class="ls" x="37.5" y="12">Strata</text>
<line x1="48.5" x2="52.7" y1="10.8" y2="10.8" stroke="#F8766D" stroke-width="1.4"/>
<text class="ll" x="54.8" y="11.9" textLength="19.5">gelgene=High</text>
<line x1="76.0" x2="80.4" y1="10.8" y2="10.8" stroke="#00BFC4" stroke-width="1.4"/>
<text class="ll" x="82.2" y="11.9" textLength="18.0">gelgene=Low</text>
<line class="gn" x1="32.24" x2="32.24" y1="18.3" y2="77.5"/><line class="gn" x1="56.31" x2="56.31" y1="18.3" y2="77.5"/><line class="gn" x1="80.39" x2="80.39" y1="18.3" y2="77.5"/><line class="gn" x1="104.46" x2="104.46" y1="18.3" y2="77.5"/><line class="gn" x1="15.5" x2="121.35" y1="68.43" y2="68.43"/><line class="gn" x1="15.5" x2="121.35" y1="54.88" y2="54.88"/><line class="gn" x1="15.5" x2="121.35" y1="41.33" y2="41.33"/><line class="gn" x1="15.5" x2="121.35" y1="27.77" y2="27.77"/><line class="gm" x1="20.2" x2="20.2" y1="18.3" y2="77.5"/><line class="gm" x1="44.27" x2="44.27" y1="18.3" y2="77.5"/><line class="gm" x1="68.35" x2="68.35" y1="18.3" y2="77.5"/><line class="gm" x1="92.42" x2="92.42" y1="18.3" y2="77.5"/><line class="gm" x1="116.5" x2="116.5" y1="18.3" y2="77.5"/><line class="gm" x1="15.5" x2="121.35" y1="75.2" y2="75.2"/><line class="gm" x1="15.5" x2="121.35" y1="61.65" y2="61.65"/><line class="gm" x1="15.5" x2="121.35" y1="48.1" y2="48.1"/><line class="gm" x1="15.5" x2="121.35" y1="34.55" y2="34.55"/><line class="gm" x1="15.5" x2="121.35" y1="21" y2="21"/>
<rect class="bd" x="15.5" y="18.3" width="105.85" height="59.2"/>
<line class="tk" x1="14.4" x2="15.5" y1="75.2" y2="75.2"/>
<text class="yt" x="14.2" y="76.2">0.00</text>
<line class="tk" x1="14.4" x2="15.5" y1="61.65" y2="61.65"/>
<text class="yt" x="14.2" y="62.65">0.25</text>
<line class="tk" x1="14.4" x2="15.5" y1="48.1" y2="48.1"/>
<text class="yt" x="14.2" y="49.1">0.50</text>
<line class="tk" x1="14.4" x2="15.5" y1="34.55" y2="34.55"/>
<text class="yt" x="14.2" y="35.55">0.75</text>
<line class="tk" x1="14.4" x2="15.5" y1="21" y2="21"/>
<text class="yt" x="14.2" y="22">1.00</text>
<text class="yl" transform="translate(3.4,46.9) rotate(-90)">Survival probability</text>
<line class="tk" x1="20.2" x2="20.2" y1="77.5" y2="78.6"/>
<text class="xt" x="20.2" y="81.85">0</text>
<line class="tk" x1="44.27" x2="44.27" y1="77.5" y2="78.6"/>
<text class="xt" x="44.27" y="81.85">1000</text>
<line class="tk" x1="68.35" x2="68.35" y1="77.5" y2="78.6"/>
<text class="xt" x="68.35" y="81.85">2000</text>
<line class="tk" x1="92.42" x2="92.42" y1="77.5" y2="78.6"/>
<text class="xt" x="92.42" y="81.85">3000</text>
<line class="tk" x1="116.5" x2="116.5" y1="77.5" y2="78.6"/>
<text class="xt" x="116.5" y="81.85">4000</text>
<text class="xl" x="68.83" y="85.2">Time (days)</text>
<polyline class="cr" points="20.2,21 20.95,21 20.95,22.19 21.71,22.19 21.71,23.39 22.23,23.39 22.23,24.32 22.74,24.32 22.74,25.25 23.26,25.25 23.26,26.18 29.47,26.18 29.72,26.18 29.72,27.06 29.98,27.06 29.98,27.93 30.24,27.93 30.24,28.81 31.02,28.81 31.02,29.59 31.79,29.59 31.79,30.36 32.57,30.36 32.57,31.37 33.34,31.37 33.34,32.38 39.55,32.38 40.07,32.38 40.07,33.25 40.59,33.25 40.59,34.13 41.1,34.13 41.1,35.01 41.3,35.01 41.3,35.98 41.49,35.98 41.49,36.95 41.68,36.95 41.68,37.92 41.88,37.92 41.88,38.88 42.03,38.88 42.03,39.81 42.19,39.81 42.19,40.74 42.34,40.74 42.34,41.67 42.5,41.67 42.5,42.6 42.65,42.6 42.65,43.53 42.81,43.53 42.81,44.46 42.96,44.46 42.96,45.39 43.12,45.39 43.12,46.32 43.27,46.32 43.27,47.25 43.43,47.25 43.43,48.18 43.43,49.42 44.42,49.42 44.42,49.38 45.4,49.38 45.4,49.34 46.39,49.34 46.39,49.3 47.38,49.3 47.38,49.25 48.37,49.25 48.37,49.21 49.35,49.21 49.35,49.17 50.34,49.17 50.34,49.13 51.33,49.13 51.33,49.08 52.32,49.08 52.32,49.04 53.3,49.04 53.3,49 54.29,49 54.29,48.96"/>
<polyline class="cc" points="20.2,21 26.36,21.06 27.4,21.06 27.4,21.58 28.43,21.58 28.43,22.1 29.47,22.1 29.47,22.61 30.4,22.61 30.4,23.08 31.33,23.08 31.33,23.54 32.26,23.54 32.26,24.01 33.19,24.01 33.19,24.47 34.12,24.47 34.12,24.94 35.16,24.94 35.16,25.35 36.19,25.35 36.19,25.76 37.22,25.76 37.22,26.18 38.15,26.18 38.15,26.55 39.09,26.55 39.09,26.92 40.02,26.92 40.02,27.29 40.95,27.29 40.95,27.67 41.88,27.67 41.88,28.04 42.91,28.04 42.91,28.81 43.95,28.81 43.95,29.59 44.98,29.59 44.98,30.36 46.02,30.36 46.02,31.14 47.05,31.14 47.05,31.91 48.08,31.91 48.08,32.69 49.25,32.69 49.25,33.85 50.41,33.85 50.41,35.01 51.19,35.01 51.19,36.17 51.96,36.17 51.96,37.33 94.63,37.33 94.78,37.33 94.78,38.42 94.94,38.42 94.94,39.5 95.09,39.5 95.09,40.59 95.25,40.59 95.25,41.67 95.4,41.67 95.4,42.76 95.56,42.76 95.56,43.69 95.71,43.69 95.71,44.62 95.87,44.62 95.87,45.55 96.02,45.55 96.02,46.48 96.18,46.48 96.18,47.41 100.83,47.41 100.83,56.24 121,56.24"/>
<line class="ds" x1="20.2" x2="100.83" y1="48.1" y2="48.1"/>
<line class="ds" x1="43.12" x2="43.12" y1="75.2" y2="48.1"/>
<line class="ds" x1="100.83" x2="100.83" y1="75.2" y2="48.1"/>
<text class="pv" x="22.5" y="66.7">p = 0.0015</text>
<text class="nr" x="15.4" y="92.8" textLength="27.6" lengthAdjust="spacingAndGlyphs">Number at risk</text>
<line class="gn" x1="32.24" x2="32.24" y1="95.3" y2="107.5"/><line class="gn" x1="56.31" x2="56.31" y1="95.3" y2="107.5"/><line class="gn" x1="80.39" x2="80.39" y1="95.3" y2="107.5"/><line class="gn" x1="104.46" x2="104.46" y1="95.3" y2="107.5"/><line class="gm" x1="20.2" x2="20.2" y1="95.3" y2="107.5"/><line class="gm" x1="44.27" x2="44.27" y1="95.3" y2="107.5"/><line class="gm" x1="68.35" x2="68.35" y1="95.3" y2="107.5"/><line class="gm" x1="92.42" x2="92.42" y1="95.3" y2="107.5"/><line class="gm" x1="116.5" x2="116.5" y1="95.3" y2="107.5"/><line class="gm" x1="15.5" x2="121.35" y1="98.5" y2="98.5"/><line class="gm" x1="15.5" x2="121.35" y1="104.2" y2="104.2"/>
<rect class="bd" x="15.5" y="95.3" width="105.85" height="12.2"/>
<text class="rr" x="20.2" y="99.8">32</text>
<text class="rc" x="20.2" y="105.5">147</text>
<text class="rr" x="44.27" y="99.8">0</text>
<text class="rc" x="44.27" y="105.5">53</text>
<text class="rr" x="68.35" y="99.8">0</text>
<text class="rc" x="68.35" y="105.5">15</text>
<text class="rr" x="92.42" y="99.8">0</text>
<text class="rc" x="92.42" y="105.5">5</text>
<text class="rr" x="116.5" y="99.8">0</text>
<text class="rc" x="116.5" y="105.5">1</text>
<line class="tk" x1="20.2" x2="20.2" y1="107.5" y2="108.6"/>
<text class="xt" x="20.2" y="110.9">0</text>
<line class="tk" x1="44.27" x2="44.27" y1="107.5" y2="108.6"/>
<text class="xt" x="44.27" y="110.9">1000</text>
<line class="tk" x1="68.35" x2="68.35" y1="107.5" y2="108.6"/>
<text class="xt" x="68.35" y="110.9">2000</text>
<line class="tk" x1="92.42" x2="92.42" y1="107.5" y2="108.6"/>
<text class="xt" x="92.42" y="110.9">3000</text>
<line class="tk" x1="116.5" x2="116.5" y1="107.5" y2="108.6"/>
<text class="xt" x="116.5" y="110.9">4000</text>
<text class="xl" x="68.83" y="115.0">Time (days)</text>
<text class="rs" transform="translate(3.7,101.0) rotate(-90)">Strata</text>
<line x1="5.6" x2="13.4" y1="96.9" y2="96.9" stroke="#F8766D" stroke-width="1.8"/>
<line x1="5.6" x2="13.4" y1="102.75" y2="102.75" stroke="#00BFC4" stroke-width="1.8"/>
</g>
</svg>
</body></html>
